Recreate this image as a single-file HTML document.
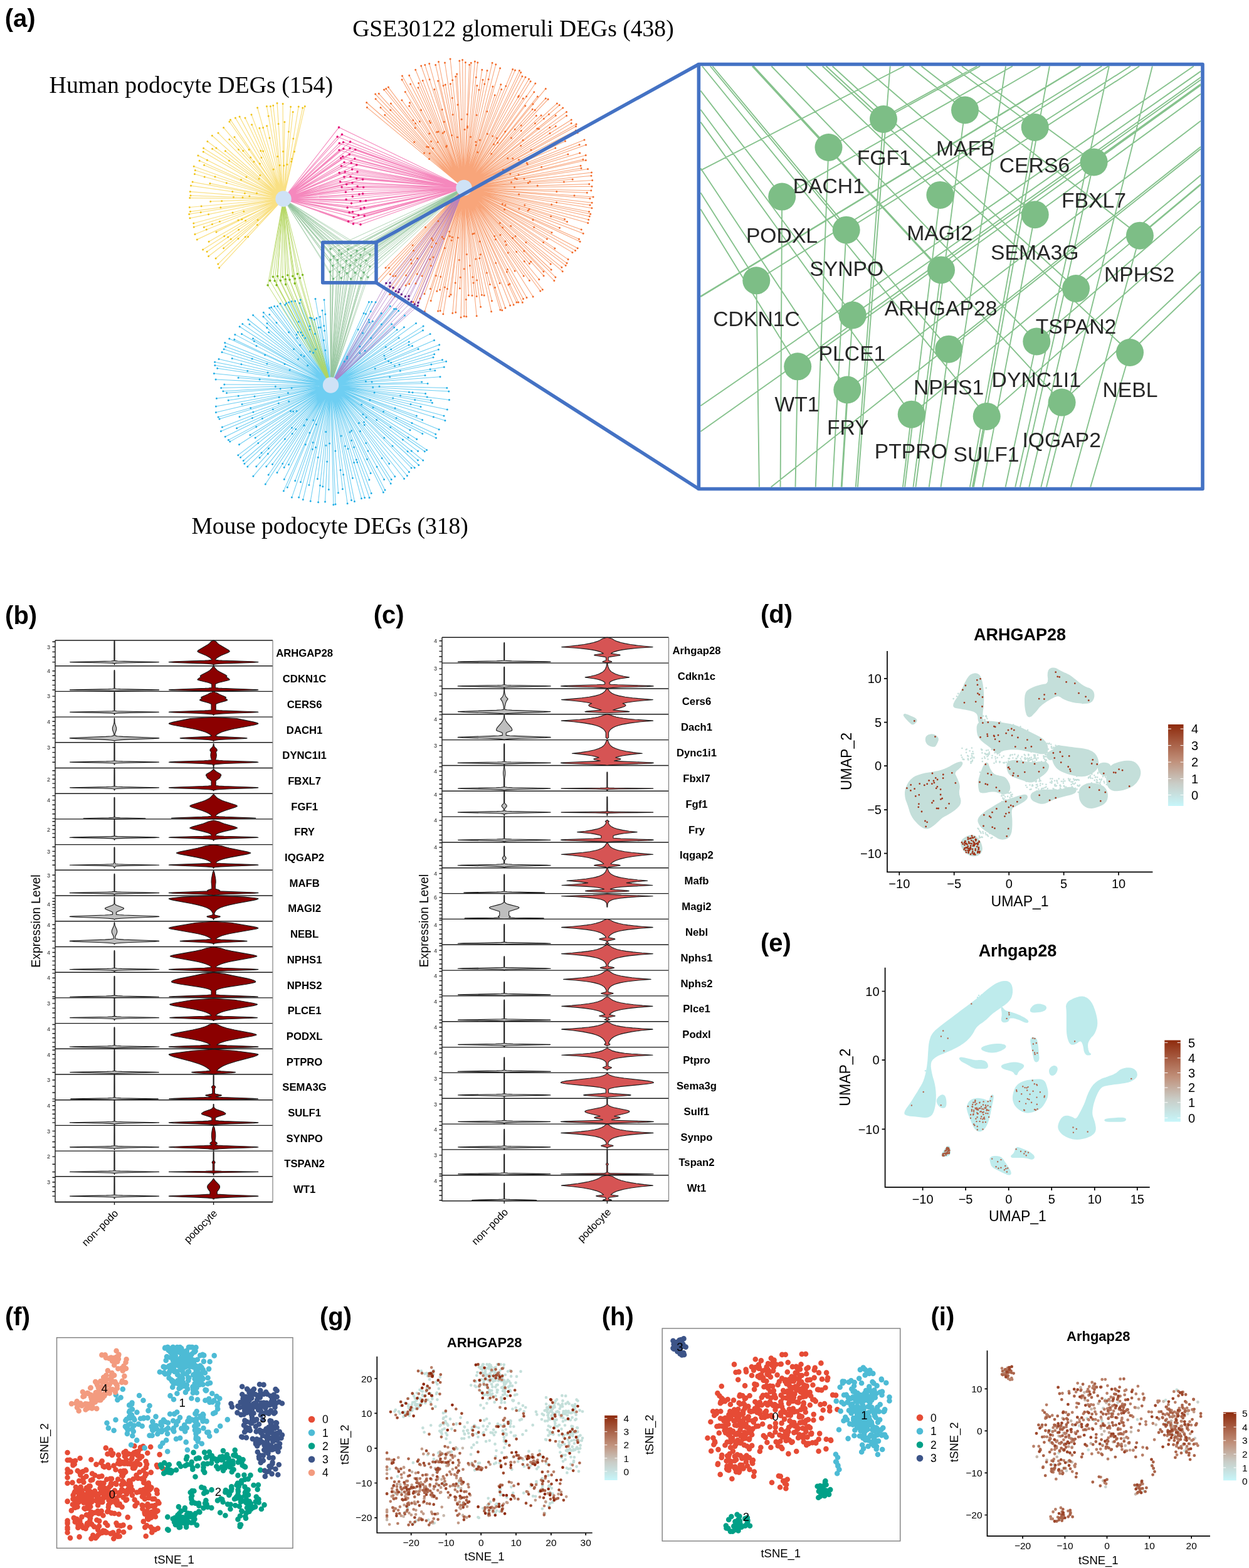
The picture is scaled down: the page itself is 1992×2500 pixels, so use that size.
<!DOCTYPE html>
<html><head><meta charset="utf-8"><title>Figure</title><style>html,body{margin:0;padding:0;background:#fff;}svg{display:block;}</style></head><body>
<svg width="1992" height="2500" viewBox="0 0 1992 2500">
<text x="7.7" y="43" font-size="40" font-weight="bold" font-family="'Liberation Sans', Arial, sans-serif">(a)</text>
<text x="8.1" y="995" font-size="40" font-weight="bold" font-family="'Liberation Sans', Arial, sans-serif">(b)</text>
<text x="595.7" y="994" font-size="40" font-weight="bold" font-family="'Liberation Sans', Arial, sans-serif">(c)</text>
<text x="1213" y="992.5" font-size="40" font-weight="bold" font-family="'Liberation Sans', Arial, sans-serif">(d)</text>
<text x="1213" y="1517" font-size="40" font-weight="bold" font-family="'Liberation Sans', Arial, sans-serif">(e)</text>
<text x="8" y="2113" font-size="40" font-weight="bold" font-family="'Liberation Sans', Arial, sans-serif">(f)</text>
<text x="510" y="2112.5" font-size="40" font-weight="bold" font-family="'Liberation Sans', Arial, sans-serif">(g)</text>
<text x="959.8" y="2112.5" font-size="40" font-weight="bold" font-family="'Liberation Sans', Arial, sans-serif">(h)</text>
<text x="1484.5" y="2112.5" font-size="40" font-weight="bold" font-family="'Liberation Sans', Arial, sans-serif">(i)</text>
<text x="562.2" y="57.6" font-size="37.6" font-family="'Liberation Serif', 'Times New Roman', serif">GSE30122 glomeruli DEGs (438)</text>
<text x="78.6" y="148" font-size="37.8" font-family="'Liberation Serif', 'Times New Roman', serif">Human podocyte DEGs (154)</text>
<text x="305.4" y="850.6" font-size="37.6" font-family="'Liberation Serif', 'Times New Roman', serif">Mouse podocyte DEGs (318)</text>
<g fill="none" stroke-linecap="butt">
<path d="M452 317L349.6 426.9M452 317L347.8 421.1M452 317L344.1 412M452 317L356.6 395.7M452 317L332.6 408.5M452 317L330.1 401.2M452 317L323.6 397.9M452 317L333.1 385.3M452 317L345 369.9M452 317L314.3 381.9M452 317L310.9 373.5M452 317L325.3 362.3M452 317L309.2 361.9M452 317L308.8 356M452 317L302.9 347.8M452 317L301.7 341.4M452 317L303.5 337.3M452 317L302.3 330.5M452 317L335.7 321.2M452 317L302.7 315.6M452 317L303.9 311.8M452 317L303.3 305.6M452 317L304.5 296.1M452 317L307.1 290.1M452 317L334.9 292.4M452 317L310.4 277.5M452 317L311.3 271.5M452 317L309.2 265.3M452 317L325.6 263.2M452 317L318.1 256.3M452 317L315.9 247.9M452 317L324.3 242M452 317L324.6 236.2M452 317L338.6 237.2M452 317L330.9 225.4M452 317L359.4 240.8M452 317L338.3 216.2M452 317L348 212.1M452 317L365.8 222.3M452 317L356.6 203.4M452 317L374 218.6M452 317L365.9 194M452 317L367.5 190.9M452 317L375.4 188M452 317L382.1 186.1M452 317L391 188M452 317L401.6 198.7M452 317L401 182.8M452 317L413.9 204.3M452 317L410.6 171.8M452 317L425.6 200.8M452 317L425.4 169.5M452 317L431.4 169.5M452 317L435.7 168.3M452 317L442 164.4M452 317L451.1 165.4M452 317L453.9 194.4M452 317L463.6 170.2M452 317L467.2 178.5M452 317L476.2 170M452 317L482.7 171.9M452 317L486.3 169.4" stroke="#F8DA6E" stroke-opacity="0.85" stroke-width="1.2"/>
<path d="M740 299.5L585.4 171.3M740 299.5L584.7 163.5M740 299.5L613.8 183.3M740 299.5L607 171.6M740 299.5L599.1 157.8M740 299.5L598.7 150.1M740 299.5L604.2 149.3M740 299.5L623.4 165.1M740 299.5L612.5 143M740 299.5L615.7 141.6M740 299.5L619.4 139.1M740 299.5L640.9 159.7M740 299.5L652.7 169M740 299.5L653.5 163.7M740 299.5L646.3 146.5M740 299.5L641.1 126.9M740 299.5L641.5 121M740 299.5L654.6 134M740 299.5L652.7 120.3M740 299.5L667 139.7M740 299.5L667.7 132.6M740 299.5L662.7 111.3M740 299.5L674.2 128.5M740 299.5L671.7 105M740 299.5L677.8 103.6M740 299.5L692.9 142.5M740 299.5L684.7 101.6M740 299.5L698.6 129.1M740 299.5L694.7 103.4M740 299.5L699.5 98.6M740 299.5L710.3 134.9M740 299.5L709.5 100.1M740 299.5L718.4 133.8M740 299.5L718.1 94M740 299.5L726.7 122M740 299.5L728.7 117.9M740 299.5L732.8 97M740 299.5L737.6 95.4M740 299.5L742.4 99.5M740 299.5L748.6 103.2M740 299.5L751.3 100.3M740 299.5L757.4 98.1M740 299.5L761.8 99.7M740 299.5L760.8 136.6M740 299.5L768.8 111.3M740 299.5L770 127.2M740 299.5L777 112.5M740 299.5L785.1 100.2M740 299.5L790.8 102.7M740 299.5L785.9 138.1M740 299.5L797.6 108.7M740 299.5L789.2 151.8M740 299.5L798.8 134.8M740 299.5L799.7 142.5M740 299.5L817.7 110.6M740 299.5L821.5 112.1M740 299.5L828.4 112.6M740 299.5L830.7 115.6M740 299.5L832.9 121.7M740 299.5L838 122.9M740 299.5L843.5 126.1M740 299.5L846.1 129.7M740 299.5L834.3 157M740 299.5L853.8 133M740 299.5L851.8 146.8M740 299.5L837.8 168.8M740 299.5L857.3 153.9M740 299.5L870.3 141.4M740 299.5L849.2 174.3M740 299.5L870.3 156.9M740 299.5L874.1 158.3M740 299.5L855.3 184.5M740 299.5L863.1 183.9M740 299.5L888.4 164.9M740 299.5L892.2 167.6M740 299.5L897.7 172M740 299.5L886.3 184.3M740 299.5L903.5 178.4M740 299.5L903.6 184.4M740 299.5L886.3 201.2M740 299.5L911.2 191M740 299.5L911.2 196.6M740 299.5L919.1 198M740 299.5L918.5 201.5M740 299.5L918.3 208.1M740 299.5L921.3 211.8M740 299.5L901.5 224.9M740 299.5L885.8 236M740 299.5L932 223.1M740 299.5L924.1 230.8M740 299.5L934.5 231M740 299.5L905.9 246M740 299.5L924.7 243.9M740 299.5L934.2 247.4M740 299.5L929.9 254.2M740 299.5L934.3 255.6M740 299.5L926.1 264.2M740 299.5L927 268.2M740 299.5L937.5 269.6M740 299.5L943.5 275M740 299.5L943 280.2M740 299.5L913.2 286.1M740 299.5L944.7 287.4M740 299.5L939.7 293.6M740 299.5L944 297.2M740 299.5L942.8 303.8M740 299.5L936.3 307.3M740 299.5L946.1 313.9M740 299.5L940.9 316.4M740 299.5L944.1 323.2M740 299.5L941 326.9M740 299.5L943.9 331.7M740 299.5L939.5 337.5M740 299.5L941.7 341.3M740 299.5L940.2 345.1M740 299.5L938.7 350.2M740 299.5L937.7 355.5M740 299.5L900.6 349.5M740 299.5L904.5 353.4M740 299.5L927.2 366.1M740 299.5L930.2 372.2M740 299.5L892.5 363.3M740 299.5L923.5 381.3M740 299.5L925.1 385.3M740 299.5L880 370.7M740 299.5L921.2 395.8M740 299.5L917.6 399.4M740 299.5L912.9 402.4M740 299.5L872.4 381.1M740 299.5L884.9 395.9M740 299.5L906.1 413.6M740 299.5L904.1 419.6M740 299.5L902.2 423.3M740 299.5L895.9 426.2M740 299.5L897.2 432.7M740 299.5L878.2 420.9M740 299.5L879.1 430M740 299.5L885.9 441.9M740 299.5L883.9 447.5M740 299.5L866.9 432.9M740 299.5L867.1 439.7M740 299.5L844.4 420.3M740 299.5L859.8 445.5M740 299.5L865.3 461.7M740 299.5L861.8 464M740 299.5L844.4 447.2M740 299.5L835.2 439.9M740 299.5L850.1 473M740 299.5L821.1 432.1M740 299.5L840 474.6M740 299.5L834.5 476.4M740 299.5L833.3 482.3M740 299.5L826.8 481.9M740 299.5L823.9 482.1M740 299.5L819.1 486M740 299.5L813.6 487M740 299.5L797 451.4M740 299.5L805.9 491M740 299.5L800.8 494.8M740 299.5L797.8 494.1M740 299.5L781.4 453.5M740 299.5L784.5 479.7M740 299.5L783.6 496.7M740 299.5L772.2 470.9M740 299.5L768.4 470.2M740 299.5L766.6 489.3M740 299.5L760.2 472.4M740 299.5L760.2 503.7M740 299.5L753 471.2M740 299.5L747.3 470.7M740 299.5L743.8 504.7M740 299.5L740.3 504.2M740 299.5L735.1 506M740 299.5L733.4 459.7M740 299.5L726.8 497.9M740 299.5L721.8 499.2M740 299.5L719.1 469.7M740 299.5L716.7 472.6M740 299.5L706.8 500.8M740 299.5L702.1 495.6M740 299.5L698.6 496M740 299.5L701.6 461.9M740 299.5L696.8 464.2M740 299.5L687.2 479.6M740 299.5L677.3 496.4M740 299.5L686.4 460.4M740 299.5L677 468.6M740 299.5L669.9 476.1M740 299.5L659.7 489.2M740 299.5L659.2 481.6M740 299.5L673.1 439.9M740 299.5L663 451.9M740 299.5L665.3 436.9M740 299.5L652.7 452.8M740 299.5L647.1 455M740 299.5L629.8 472.5M740 299.5L647.6 439.1M740 299.5L621.9 469.3M740 299.5L619 463.2M740 299.5L630.9 440M740 299.5L627 440.2M740 299.5L622.3 437.2M740 299.5L603.9 451.8M740 299.5L599.6 449.1M740 299.5L615 426.9" stroke="#F6874E" stroke-opacity="0.75" stroke-width="1.05"/>
<path d="M527.5 614L588.4 481.4M527.5 614L592.9 481.2M527.5 614L599.1 481.7M527.5 614L588.3 509.8M527.5 614L589 513.8M527.5 614L594.5 512.2M527.5 614L608.2 499.6M527.5 614L622.3 488.3M527.5 614L628.6 492.5M527.5 614L631.7 492.4M527.5 614L635.7 495.4M527.5 614L624.7 516.7M527.5 614L645.4 503.1M527.5 614L628.7 522.1M527.5 614L633.2 525.7M527.5 614L644.4 521.8M527.5 614L663.5 515.4M527.5 614L636.1 538.8M527.5 614L675.1 520.1M527.5 614L674.5 526.8M527.5 614L652.3 545.1M527.5 614L686.1 532.4M527.5 614L657.6 551.5M527.5 614L692.5 542.6M527.5 614L667.1 556.6M527.5 614L700.7 549.8M527.5 614L699.3 557.2M527.5 614L692.7 564.7M527.5 614L691 569.8M527.5 614L705.5 573.8M527.5 614L711.6 576.2M527.5 614L708.3 585.3M527.5 614L693.8 590.8M527.5 614L678 598.4M527.5 614L702 600.7M527.5 614L672.7 609M527.5 614L682.1 611.6M527.5 614L712.8 618.5M527.5 614L715.8 624.1M527.5 614L678.6 627.5M527.5 614L716.5 637.5M527.5 614L687.2 638.2M527.5 614L689.4 642.2M527.5 614L713.3 652.9M527.5 614L671 648.5M527.5 614L708 663M527.5 614L709.9 670.5M527.5 614L664.4 663M527.5 614L673.6 669.5M527.5 614L700.2 684.8M527.5 614L694.8 692.3M527.5 614L695.5 698.3M527.5 614L673.8 691.5M527.5 614L654 685.7M527.5 614L664.7 700.2M527.5 614L680.6 717.4M527.5 614L677.3 719.8M527.5 614L666.6 719.3M527.5 614L674.7 734.1M527.5 614L666.5 733.8M527.5 614L667.8 741.5M527.5 614L661.2 745.8M527.5 614L656.1 746M527.5 614L652.4 752.5M527.5 614L649.4 758.5M527.5 614L644.6 763.3M527.5 614L620.7 739.3M527.5 614L629.8 759.8M527.5 614L624.2 764.6M527.5 614L623.2 771M527.5 614L612.6 764.5M527.5 614L614 781.2M527.5 614L611.4 784.9M527.5 614L591.1 754.5M527.5 614L588.9 764.9M527.5 614L592.2 786.6M527.5 614L589.1 793.5M527.5 614L581.6 793.6M527.5 614L576.5 794.8M527.5 614L562.4 762.3M527.5 614L565.4 799.4M527.5 614L560.5 797.4M527.5 614L554.1 802.8M527.5 614L546.4 779.7M527.5 614L539.5 785.8M527.5 614L535 803.9M527.5 614L531.8 804.7M527.5 614L524.3 780.4M527.5 614L518.5 800.1M527.5 614L514.8 775.8M527.5 614L507.6 800.8M527.5 614L506.4 763.6M527.5 614L495.2 798.9M527.5 614L492.9 773.3M527.5 614L483.3 796.6M527.5 614L476.6 793.1M527.5 614L479.5 768.6M527.5 614L465.4 793.1M527.5 614L470.7 766.6M527.5 614L458.3 777.1M527.5 614L452.4 782.8M527.5 614L453.3 764.2M527.5 614L460.5 740.8M527.5 614L453.2 745.2M527.5 614L442 753.4M527.5 614L423.3 771.9M527.5 614L428.2 757M527.5 614L434.5 740.2M527.5 614L424.8 743.8M527.5 614L403.9 759.3M527.5 614L408.8 743.8M527.5 614L414 729.8M527.5 614L394.8 743.9M527.5 614L389.9 739.3M527.5 614L388.2 734.5M527.5 614L383.6 729.2M527.5 614L379.8 725.7M527.5 614L407.2 698.1M527.5 614L381.5 708.7M527.5 614L398.9 693.5M527.5 614L366.7 704.1M527.5 614L364.3 701.6M527.5 614L359.2 696.2M527.5 614L377.6 682.7M527.5 614L352.4 687.5M527.5 614L354.4 681.1M527.5 614L382 664.6M527.5 614L350 667.9M527.5 614L348.1 665.1M527.5 614L344.4 657.6M527.5 614L386 644.6M527.5 614L344.4 648M527.5 614L364.2 638.2M527.5 614L345.4 635.3M527.5 614L361.5 626.6M527.5 614L355.9 623.7M527.5 614L352.7 618.5M527.5 614L357.8 613.1M527.5 614L344.1 605M527.5 614L380.1 602.2M527.5 614L341.4 595.6M527.5 614L346.7 587.2M527.5 614L342.8 582.6M527.5 614L342.6 577.2M527.5 614L349 572.4M527.5 614L370.2 571.4M527.5 614L354 561.4M527.5 614L357.1 556.8M527.5 614L359.6 552.6M527.5 614L358.7 546.6M527.5 614L365.8 539.9M527.5 614L373.8 541.2M527.5 614L374.8 533.4M527.5 614L385.5 532.5M527.5 614L403.5 539.8M527.5 614L382.2 520.7M527.5 614L386.8 516.6M527.5 614L397.9 517.1M527.5 614L395.9 509.5M527.5 614L428.7 529.8M527.5 614L403.6 502.5M527.5 614L426 515.5M527.5 614L420 504.8M527.5 614L420.3 498.3M527.5 614L429.8 501.5M527.5 614L429.7 491.1M527.5 614L432.7 490.1M527.5 614L437.6 488.3M527.5 614L442.6 488.3M527.5 614L447.1 484.1M527.5 614L454.7 486.1M527.5 614L456.7 483.6M527.5 614L460.6 482.1M527.5 614L465.1 480.5M527.5 614L470.7 479.9M527.5 614L478 483.3M527.5 614L479.2 478.1M527.5 614L494.5 506.5M527.5 614L497.3 507.5M527.5 614L501.4 509.4M527.5 614L504.9 507.3M527.5 614L503 476.5M527.5 614L510.4 504.9M527.5 614L514 495M527.5 614L517 477.9" stroke="#3DBDEE" stroke-opacity="0.75" stroke-width="1.05"/>
<path d="M452 317L540.5 203.1M452 317L538.1 218.1M452 317L541.3 228.3M452 317L541 239.3M452 317L543.6 252.1M452 317L544.4 264.8M452 317L541.2 275.6M452 317L542.6 289.7M452 317L545.1 298.2M452 317L545.4 214.4M452 317L547.6 226.7M452 317L547.9 237.2M452 317L546.7 249.6M452 317L549 258.7M452 317L550.3 274M452 317L548.9 282.1M452 317L552.7 294M452 317L551.4 306.3M452 317L552.1 318M452 317L554.1 331M452 317L557.1 338.7M452 317L555.6 353.1M452 317L558.6 226.1M452 317L558 236.6M452 317L557.3 246.3M452 317L560.2 259.7M452 317L561.6 270.1M452 317L559 281.5M452 317L561.9 291.5M452 317L562 302M452 317L562.3 313.3M452 317L560.5 324.1M452 317L562.5 337.8M452 317L563.9 346.4M452 317L563.4 356.9M452 317L566.8 238.5M452 317L565.8 253.1M452 317L568.8 263M452 317L570 274M452 317L568.7 284.7M452 317L570.1 297.2M452 317L572.9 309.8M452 317L574.7 320.6M452 317L575.3 333.1M452 317L571.8 343.1M452 317L575 357.9M452 317L578.6 286.1M452 317L579.7 298.5M452 317L578.6 308.9M452 317L583.5 320.1M452 317L581 331.1M452 317L581.2 344.1M740 299.5L540.5 203.1M740 299.5L538.1 218.1M740 299.5L541.3 228.3M740 299.5L541 239.3M740 299.5L543.6 252.1M740 299.5L544.4 264.8M740 299.5L541.2 275.6M740 299.5L542.6 289.7M740 299.5L545.1 298.2M740 299.5L545.4 214.4M740 299.5L547.6 226.7M740 299.5L547.9 237.2M740 299.5L546.7 249.6M740 299.5L549 258.7M740 299.5L550.3 274M740 299.5L548.9 282.1M740 299.5L552.7 294M740 299.5L551.4 306.3M740 299.5L552.1 318M740 299.5L554.1 331M740 299.5L557.1 338.7M740 299.5L555.6 353.1M740 299.5L558.6 226.1M740 299.5L558 236.6M740 299.5L557.3 246.3M740 299.5L560.2 259.7M740 299.5L561.6 270.1M740 299.5L559 281.5M740 299.5L561.9 291.5M740 299.5L562 302M740 299.5L562.3 313.3M740 299.5L560.5 324.1M740 299.5L562.5 337.8M740 299.5L563.9 346.4M740 299.5L563.4 356.9M740 299.5L566.8 238.5M740 299.5L565.8 253.1M740 299.5L568.8 263M740 299.5L570 274M740 299.5L568.7 284.7M740 299.5L570.1 297.2M740 299.5L572.9 309.8M740 299.5L574.7 320.6M740 299.5L575.3 333.1M740 299.5L571.8 343.1M740 299.5L575 357.9M740 299.5L578.6 286.1M740 299.5L579.7 298.5M740 299.5L578.6 308.9M740 299.5L583.5 320.1M740 299.5L581 331.1M740 299.5L581.2 344.1" stroke="#F26AAD" stroke-opacity="0.8" stroke-width="1.1"/>
<path d="M452 317L435.4 441.2M452 317L442.6 440.3M452 317L450.9 441.5M452 317L458.8 438.7M452 317L466.8 440.2M452 317L474.4 436.7M452 317L482.6 438.3M452 317L430.7 447.4M452 317L438.2 447.8M452 317L447.4 447.3M452 317L455.3 445.2M452 317L462 446M452 317L470.5 444.2M452 317L478.4 443.2M452 317L427.1 454.7M452 317L441.1 454.6M452 317L455.7 453.4M452 317L470.2 451.9M527.5 614L435.4 441.2M527.5 614L442.6 440.3M527.5 614L450.9 441.5M527.5 614L458.8 438.7M527.5 614L466.8 440.2M527.5 614L474.4 436.7M527.5 614L482.6 438.3M527.5 614L430.7 447.4M527.5 614L438.2 447.8M527.5 614L447.4 447.3M527.5 614L455.3 445.2M527.5 614L462 446M527.5 614L470.5 444.2M527.5 614L478.4 443.2M527.5 614L427.1 454.7M527.5 614L441.1 454.6M527.5 614L455.7 453.4M527.5 614L470.2 451.9" stroke="#B3D65E" stroke-opacity="0.85" stroke-width="1"/>
<path d="M740 299.5L615.9 451.5M740 299.5L622 451M740 299.5L621.9 456.7M740 299.5L627 458.7M740 299.5L631.2 464.2M740 299.5L637 461.5M740 299.5L635.7 465.8M740 299.5L640.3 469.4M740 299.5L646.5 472.8M740 299.5L652 472M740 299.5L651.6 477.3M740 299.5L656.1 481.3M740 299.5L661.1 485M740 299.5L667 482.5M740 299.5L666.2 487.5M527.5 614L615.9 451.5M527.5 614L622 451M527.5 614L621.9 456.7M527.5 614L627 458.7M527.5 614L631.2 464.2M527.5 614L637 461.5M527.5 614L635.7 465.8M527.5 614L640.3 469.4M527.5 614L646.5 472.8M527.5 614L652 472M527.5 614L651.6 477.3M527.5 614L656.1 481.3M527.5 614L661.1 485M527.5 614L667 482.5M527.5 614L666.2 487.5" stroke="#B07CC6" stroke-opacity="0.8" stroke-width="1"/>
<path d="M452 317L527 397M452 317L540.8 399.1M452 317L555.1 397.2M452 317L569.1 399.9M452 317L581.8 397.1M452 317L532.1 408.8M452 317L544.5 405M452 317L559.9 407.6M452 317L575.1 406.4M452 317L590 405.9M452 317L527 414.4M452 317L538.1 414.5M452 317L552.2 416M452 317L568.2 414.7M452 317L583.8 415.5M452 317L530.6 423.7M452 317L547 426.7M452 317L558.6 423.1M452 317L575.1 424M452 317L589.9 425M452 317L526.5 433.4M452 317L541.2 433.8M452 317L553.3 435.6M452 317L566.4 434.9M452 317L580.3 434.6M452 317L531.6 444.5M452 317L544.2 443.3M452 317L559.6 444.7M452 317L575.8 443.5M452 317L586.9 442M740 299.5L527 397M740 299.5L540.8 399.1M740 299.5L555.1 397.2M740 299.5L569.1 399.9M740 299.5L581.8 397.1M740 299.5L532.1 408.8M740 299.5L544.5 405M740 299.5L559.9 407.6M740 299.5L575.1 406.4M740 299.5L590 405.9M740 299.5L527 414.4M740 299.5L538.1 414.5M740 299.5L552.2 416M740 299.5L568.2 414.7M740 299.5L583.8 415.5M740 299.5L530.6 423.7M740 299.5L547 426.7M740 299.5L558.6 423.1M740 299.5L575.1 424M740 299.5L589.9 425M740 299.5L526.5 433.4M740 299.5L541.2 433.8M740 299.5L553.3 435.6M740 299.5L566.4 434.9M740 299.5L580.3 434.6M740 299.5L531.6 444.5M740 299.5L544.2 443.3M740 299.5L559.6 444.7M740 299.5L575.8 443.5M740 299.5L586.9 442M527.5 614L527 397M527.5 614L540.8 399.1M527.5 614L555.1 397.2M527.5 614L569.1 399.9M527.5 614L581.8 397.1M527.5 614L532.1 408.8M527.5 614L544.5 405M527.5 614L559.9 407.6M527.5 614L575.1 406.4M527.5 614L590 405.9M527.5 614L527 414.4M527.5 614L538.1 414.5M527.5 614L552.2 416M527.5 614L568.2 414.7M527.5 614L583.8 415.5M527.5 614L530.6 423.7M527.5 614L547 426.7M527.5 614L558.6 423.1M527.5 614L575.1 424M527.5 614L589.9 425M527.5 614L526.5 433.4M527.5 614L541.2 433.8M527.5 614L553.3 435.6M527.5 614L566.4 434.9M527.5 614L580.3 434.6M527.5 614L531.6 444.5M527.5 614L544.2 443.3M527.5 614L559.6 444.7M527.5 614L575.8 443.5M527.5 614L586.9 442" stroke="#92C39A" stroke-opacity="0.7" stroke-width="1"/>
</g>
<g fill="none" stroke-linecap="round">
<path d="M349.6 426.9h0M395.6 377.6h0M347.8 421.1h0M410.3 358.6h0M391.2 377.7h0M344.1 412h0M380 380.4h0M356.6 395.7h0M411.1 350.8h0M332.6 408.5h0M368.2 381.2h0M330.1 401.2h0M363.7 377.9h0M380.7 366.2h0M323.6 397.9h0M357.7 376.4h0M333.1 385.3h0M391.6 351.7h0M345 369.9h0M385.8 349.8h0M314.3 381.9h0M380 350.9h0M310.9 373.5h0M329.3 366.1h0M325.3 362.3h0M338.4 357.6h0M350.4 353.3h0M309.2 361.9h0M388.8 336.9h0M308.8 356h0M371.1 339.1h0M302.9 347.8h0M332.6 341.7h0M301.7 341.4h0M320.2 338.4h0M303.5 337.3h0M351.9 330.7h0M302.3 330.5h0M321.1 328.8h0M335.7 321.2h0M353.7 320.5h0M302.7 315.6h0M303.9 311.8h0M387 314.7h0M372.5 314.2h0M303.3 305.6h0M397.9 312.8h0M304.5 296.1h0M370.8 305.5h0M390.4 308.3h0M307.1 290.1h0M334.9 292.4h0M409.5 308.1h0M310.4 277.5h0M361.3 291.7h0M326.2 281.9h0M311.3 271.5h0M343 281.7h0M309.2 265.3h0M325.6 263.2h0M318.1 256.3h0M384.5 286.4h0M315.9 247.9h0M330.4 255.3h0M324.3 242h0M392.9 282.3h0M324.6 236.2h0M338.6 237.2h0M365.5 256.2h0M330.9 225.4h0M344.9 236h0M359.4 240.8h0M413.1 285h0M338.3 216.2h0M348 212.1h0M414.8 279.5h0M365.8 222.3h0M380.5 238.5h0M356.6 203.4h0M387.8 240.6h0M374 218.6h0M405 257.8h0M399.7 251h0M365.9 194h0M397.1 238.5h0M367.5 190.9h0M414.4 260.9h0M375.4 188h0M382.1 186.1h0M416.9 251.2h0M391 188h0M415.8 240.4h0M401.6 198.7h0M419.6 240.9h0M401 182.8h0M413.9 204.3h0M436.1 270h0M410.6 171.8h0M419.6 203.6h0M425.6 200.8h0M430 219.9h0M425.4 169.5h0M428.2 185.1h0M431.4 169.5h0M442.6 249.5h0M435.7 168.3h0M446.1 263.5h0M442 164.4h0M444.1 197.4h0M451.1 165.4h0M451.5 241.4h0M453.9 194.4h0M452.8 264h0M463.6 170.2h0M460.4 210.1h0M467.2 178.5h0M458 262.2h0M476.2 170h0M467.8 220.9h0M482.7 171.9h0M464.6 257.5h0M465.5 253.3h0M486.3 169.4h0M469.5 241.8h0" stroke="#F0C419" stroke-width="3"/>
<path d="M585.4 171.3h0M684.6 253.6h0M584.7 163.5h0M676.6 243.9h0M613.8 183.3h0M660.7 226.5h0M607 171.6h0M599.1 157.8h0M685.2 244.4h0M598.7 150.1h0M622.9 175.6h0M604.2 149.3h0M680.7 233.9h0M623.4 165.1h0M683.5 234.4h0M612.5 143h0M662.1 203.9h0M615.7 141.6h0M690.4 236.5h0M619.4 139.1h0M658.9 191.7h0M662.7 196.7h0M640.9 159.7h0M687.6 225.5h0M652.7 169h0M669.3 193.8h0M653.5 163.7h0M684.8 212.9h0M646.3 146.5h0M641.1 126.9h0M698.1 226.4h0M641.5 121h0M671.6 175.5h0M654.6 134h0M686.5 195.8h0M685 192.9h0M652.7 120.3h0M696.7 210.6h0M667 139.7h0M699.1 209.9h0M667.7 132.6h0M711.6 234h0M662.7 111.3h0M712.4 232.4h0M674.2 128.5h0M706.4 212.3h0M671.7 105h0M708.6 210.1h0M677.8 103.6h0M685.1 126.7h0M692.9 142.5h0M708.4 194.3h0M684.7 101.6h0M705.2 174.8h0M698.6 129.1h0M694.7 103.4h0M720.6 215.7h0M699.5 98.6h0M707.1 136.5h0M710.3 134.9h0M709.5 100.1h0M722.2 182.8h0M718.4 133.8h0M721.3 156.3h0M729.5 218.8h0M718.1 94h0M721.7 127.7h0M726.7 122h0M730 167.1h0M728.7 117.9h0M732.8 97h0M736.1 190.3h0M737.6 95.4h0M742.4 99.5h0M741.1 206.6h0M748.6 103.2h0M745.1 182.2h0M751.3 100.3h0M745.4 203.6h0M745.5 201.5h0M757.4 98.1h0M761.8 99.7h0M759.3 123.2h0M760.8 136.6h0M750.4 218.2h0M768.8 111.3h0M763.9 143.3h0M770 127.2h0M760.2 183.6h0M777 112.5h0M772.8 134h0M785.1 100.2h0M779.1 126.5h0M790.8 102.7h0M758.9 226.3h0M785.9 138.1h0M759.3 231.6h0M797.6 108.7h0M776.8 177.7h0M789.2 151.8h0M765.4 223.3h0M798.8 134.8h0M799.7 142.5h0M761.6 242.7h0M817.7 110.6h0M806.8 137.3h0M821.5 112.1h0M777.4 213.5h0M828.4 112.6h0M830.7 115.6h0M832.9 121.7h0M838 122.9h0M785.8 217h0M843.5 126.1h0M827.4 153.1h0M826.5 154.5h0M846.1 129.7h0M834.3 157h0M792.4 220.3h0M853.8 133h0M839.6 153.8h0M787.6 229.9h0M851.8 146.8h0M805.7 209.7h0M837.8 168.8h0M793.8 227.6h0M857.3 153.9h0M783.7 245.3h0M870.3 141.4h0M850 166h0M849.2 174.3h0M821.2 206.3h0M870.3 156.9h0M831.1 199.9h0M853.2 175.6h0M874.1 158.3h0M815.5 220.1h0M855.3 184.5h0M831.2 208.5h0M863.1 183.9h0M888.4 164.9h0M853.4 196.7h0M892.2 167.6h0M875.4 182.2h0M867.3 189.3h0M897.7 172h0M856.8 205.1h0M834 223.5h0M886.3 184.3h0M859.4 205.5h0M903.5 178.4h0M830.7 232.3h0M903.6 184.4h0M876.8 203.3h0M886.3 201.2h0M809.8 252.6h0M911.2 191h0M877 212.6h0M911.2 196.6h0M817.8 252.8h0M919.1 198h0M846.9 238.9h0M918.5 201.5h0M918.3 208.1h0M827.4 254.7h0M921.3 211.8h0M871.1 236.1h0M901.5 224.9h0M802.2 270.8h0M885.8 236h0M804.2 271.6h0M932 223.1h0M840.2 259.7h0M924.1 230.8h0M841.3 261.7h0M934.5 231h0M905.9 246h0M924.7 243.9h0M813.7 277.3h0M934.2 247.4h0M863.6 266.3h0M929.9 254.2h0M827.1 278.7h0M934.3 255.6h0M926.1 264.2h0M821.5 284h0M927 268.2h0M824.3 285.4h0M937.5 269.6h0M836 285h0M943.5 275h0M815.5 290.4h0M943 280.2h0M845.2 289.5h0M913.2 286.1h0M842.4 291.6h0M944.7 287.4h0M899.4 290.1h0M939.7 293.6h0M857.2 296h0M944 297.2h0M820.6 298.6h0M942.8 303.8h0M936.3 307.3h0M887.8 305.4h0M946.1 313.9h0M916 311.8h0M940.9 316.4h0M944.1 323.2h0M827.6 309.7h0M941 326.9h0M943.9 331.7h0M887.6 322.8h0M939.5 337.5h0M879.7 326.1h0M941.7 341.3h0M940.2 345.1h0M938.7 350.2h0M937.7 355.5h0M836.8 326.9h0M900.6 349.5h0M904.5 353.4h0M844 333.6h0M878.6 344.9h0M927.2 366.1h0M842.1 335.8h0M930.2 372.2h0M827.9 333.1h0M892.5 363.3h0M805.9 327h0M801.4 325.2h0M923.5 381.3h0M925.1 385.3h0M850 350.5h0M880 370.7h0M921.2 395.8h0M804.6 333.9h0M917.6 399.4h0M851.7 362.3h0M912.9 402.4h0M872.4 381.1h0M884.9 395.9h0M906.1 413.6h0M866.6 386.4h0M904.1 419.6h0M902.2 423.3h0M895.9 426.2h0M814.8 360.3h0M897.2 432.7h0M878.2 420.9h0M838.9 386.4h0M879.1 430h0M822.2 376.5h0M885.9 441.9h0M797.3 355.4h0M883.9 447.5h0M817.7 379.4h0M801.6 362.8h0M866.9 432.9h0M835.8 400.2h0M867.1 439.7h0M846.7 417.3h0M844.4 420.3h0M859.8 445.5h0M823.7 401.5h0M836.3 416.8h0M865.3 461.7h0M798 374.6h0M805.9 384.7h0M861.8 464h0M807.3 390.4h0M844.4 447.2h0M835.2 439.9h0M810.2 403h0M850.1 473h0M788.8 376.5h0M821.1 432.1h0M790.3 381.7h0M840 474.6h0M834.5 476.4h0M809.4 429.4h0M833.3 482.3h0M808.4 433.6h0M826.8 481.9h0M812.9 452.7h0M823.9 482.1h0M810.9 453.9h0M819.1 486h0M790.8 419.3h0M813.6 487h0M797 451.4h0M805.9 491h0M800.8 494.8h0M789.5 458.5h0M797.8 494.1h0M765.3 384.9h0M781.4 453.5h0M776.4 434.9h0M784.5 479.7h0M766.2 405.7h0M783.6 496.7h0M756.1 372.2h0M764.8 411.8h0M772.2 470.9h0M753.8 372.9h0M768.4 470.2h0M758.9 413.1h0M766.6 489.3h0M760.6 446.8h0M760.2 472.4h0M760.2 503.7h0M755 451.1h0M754 441.7h0M753 471.2h0M749.4 423.4h0M747.3 470.7h0M744.5 405.5h0M743.8 504.7h0M743.3 477.4h0M740.3 504.2h0M740.2 428.8h0M735.1 506h0M733.4 459.7h0M734.1 442.3h0M726.8 497.9h0M732.3 414.6h0M721.8 499.2h0M726.2 450.9h0M719.1 469.7h0M730.3 378.9h0M716.7 472.6h0M706.8 500.8h0M713.4 460.6h0M702.1 495.6h0M709.4 458.1h0M698.6 496h0M701.6 461.9h0M721.4 378.2h0M720.2 383.3h0M696.8 464.2h0M702.8 441.3h0M687.2 479.6h0M717.4 376.5h0M677.3 496.4h0M695.4 439.4h0M709.4 395.5h0M686.4 460.4h0M716.7 369.3h0M677 468.6h0M669.9 476.1h0M707.8 380.5h0M659.7 489.2h0M687.4 423.8h0M659.2 481.6h0M690.9 410h0M705.3 377.7h0M673.1 439.9h0M685.7 413.6h0M663 451.9h0M695.3 388h0M665.3 436.9h0M688.8 393.7h0M652.7 452.8h0M647.1 455h0M690.2 382.9h0M629.8 472.5h0M688.7 380.1h0M647.6 439.1h0M665.6 411.9h0M621.9 469.3h0M656.2 420h0M619 463.2h0M655.4 413.9h0M630.9 440h0M698.9 352.5h0M627 440.2h0M659.5 399.6h0M622.3 437.2h0M603.9 451.8h0M658.1 391.1h0M599.6 449.1h0M620.3 427h0M615 426.9h0M678.5 362.2h0" stroke="#F26B2A" stroke-width="3"/>
<path d="M588.4 481.4h0M580.1 499.5h0M592.9 481.2h0M571.1 525.5h0M583.4 500.4h0M599.1 481.7h0M591.2 496.4h0M588.3 509.8h0M553.8 568.8h0M549.3 576.6h0M589 513.8h0M578.5 531h0M553.4 571.8h0M594.5 512.2h0M608.2 499.6h0M622.3 488.3h0M573.9 552.4h0M628.6 492.5h0M608.3 516.9h0M631.7 492.4h0M591.8 538.9h0M635.7 495.4h0M574 563h0M624.7 516.7h0M582.1 559.3h0M645.4 503.1h0M628.7 522.1h0M633.2 525.7h0M644.4 521.8h0M663.5 515.4h0M636.1 538.8h0M615.3 553.3h0M675.1 520.1h0M674.5 526.8h0M623.7 556.9h0M652.3 545.1h0M612.8 566.9h0M686.1 532.4h0M652 549.9h0M657.6 551.5h0M614.5 572.2h0M692.5 542.6h0M667.1 556.6h0M619.7 576.1h0M700.7 549.8h0M623.7 578.3h0M598.2 587.8h0M699.3 557.2h0M692.7 564.7h0M629.5 583.5h0M636.9 581.3h0M691 569.8h0M705.5 573.8h0M711.6 576.2h0M638.3 591.2h0M687.8 581.1h0M708.3 585.3h0M686.1 588.8h0M693.8 590.8h0M621.7 600.9h0M678 598.4h0M583.4 608.2h0M702 600.7h0M593.1 609h0M672.7 609h0M682.1 611.6h0M712.8 618.5h0M605 615.9h0M715.8 624.1h0M594.7 617.6h0M678.6 627.5h0M658 625.7h0M652.4 625.2h0M716.5 637.5h0M681.2 633.1h0M687.2 638.2h0M638.6 630.8h0M689.4 642.2h0M597.1 626.1h0M661.7 637.4h0M713.3 652.9h0M626.7 634.7h0M671 648.5h0M655 644.6h0M708 663h0M709.9 670.5h0M691.4 664.8h0M664.4 663h0M630.1 650.8h0M673.6 669.5h0M589.9 637.7h0M700.2 684.8h0M694.8 692.3h0M657 674.6h0M695.5 698.3h0M632.1 666.5h0M611.6 656.2h0M673.8 691.5h0M595 649.7h0M654 685.7h0M664.7 700.2h0M576.7 644.9h0M680.6 717.4h0M651.1 697.5h0M677.3 719.8h0M622.7 681.3h0M666.6 719.3h0M642.4 701h0M600.7 669.4h0M674.7 734.1h0M656.3 719.1h0M666.5 733.8h0M650.1 719.7h0M667.8 741.5h0M578.9 660.8h0M584 665.4h0M661.2 745.8h0M612.8 698h0M626 711.1h0M656.1 746h0M652.4 752.5h0M580.6 672.9h0M649.4 758.5h0M581.2 677.6h0M644.6 763.3h0M620.7 739.3h0M572.4 674.4h0M629.8 759.8h0M609.1 730.4h0M624.2 764.6h0M574.6 687.4h0M623.2 771h0M583.8 706.4h0M612.6 764.5h0M601.1 744.3h0M586.9 719.1h0M614 781.2h0M611.4 784.9h0M585.5 732.2h0M591.1 754.5h0M560.5 686.8h0M588.9 764.9h0M558.1 689.1h0M592.2 786.6h0M560.6 702.3h0M564.6 713h0M589.1 793.5h0M569.7 737h0M568.4 733.1h0M581.6 793.6h0M564.6 737.4h0M576.5 794.8h0M555 715.4h0M562.4 762.3h0M550.4 711.3h0M565.4 799.4h0M544.1 695.1h0M560.5 797.4h0M554.1 802.8h0M547.6 756.8h0M546.4 779.7h0M543 749.5h0M539.5 785.8h0M534.9 719.1h0M535 803.9h0M531.8 804.7h0M524.3 780.4h0M525.7 707h0M518.5 800.1h0M521.6 736h0M514.8 775.8h0M519.9 710.2h0M507.6 800.8h0M519.6 688.4h0M510.5 773.9h0M506.4 763.6h0M495.2 798.9h0M507.3 729.3h0M492.9 773.3h0M483.3 796.6h0M503.5 713.2h0M476.6 793.1h0M498.5 716.2h0M479.5 768.6h0M499.1 705.5h0M465.4 793.1h0M470.7 766.6h0M504.2 676.7h0M458.3 777.1h0M487.3 708.8h0M452.4 782.8h0M493.7 690h0M453.3 764.2h0M499.8 670.1h0M460.5 740.8h0M453.2 745.2h0M442 753.4h0M450.7 739.2h0M423.3 771.9h0M484.9 678.5h0M485.3 678h0M428.2 757h0M489.4 668.9h0M434.5 740.2h0M424.8 743.8h0M471.8 684.3h0M466.1 691.5h0M403.9 759.3h0M454.4 700h0M408.8 743.8h0M465.4 681.9h0M427.3 723.6h0M414 729.8h0M428.4 715h0M394.8 743.9h0M417.1 722h0M389.9 739.3h0M388.2 734.5h0M383.6 729.2h0M411.8 706.6h0M379.8 725.7h0M473 655.2h0M407.2 698.1h0M467.6 655.9h0M381.5 708.7h0M463.6 655.4h0M398.9 693.5h0M366.7 704.1h0M408.7 680.6h0M364.3 701.6h0M359.2 696.2h0M418.4 667.3h0M377.6 682.7h0M352.4 687.5h0M435.3 652.7h0M402.4 666.5h0M354.4 681.1h0M460.7 639.9h0M382 664.6h0M444.3 642.9h0M403.9 657h0M350 667.9h0M348.1 665.1h0M399.7 650.4h0M344.4 657.6h0M445.1 633.6h0M386 644.6h0M344.4 648h0M459.4 626.6h0M364.2 638.2h0M406 632h0M345.4 635.3h0M380.2 631.3h0M361.5 626.6h0M465.1 618.7h0M447.1 620.1h0M355.9 623.7h0M352.7 618.5h0M439.3 616.3h0M357.8 613.1h0M344.1 605h0M380.1 602.2h0M414.1 605h0M341.4 595.6h0M346.7 587.2h0M428.7 599.3h0M342.8 582.6h0M394.8 591.5h0M342.6 577.2h0M427 594h0M349 572.4h0M384.9 580.8h0M370.2 571.4h0M354 561.4h0M357.1 556.8h0M402.1 571.9h0M425.9 579.9h0M359.6 552.6h0M462.1 590.1h0M358.7 546.6h0M365.8 539.9h0M454 580.4h0M422.6 566h0M373.8 541.2h0M374.8 533.4h0M409 551.4h0M385.5 532.5h0M405.4 544h0M403.5 539.8h0M382.2 520.7h0M386.8 516.6h0M397.9 517.1h0M395.9 509.5h0M475.6 572.8h0M428.7 529.8h0M490.7 582.7h0M403.6 502.5h0M425.8 522.6h0M426 515.5h0M468.5 556.7h0M420 504.8h0M480.2 565.9h0M420.3 498.3h0M485 568.1h0M429.8 501.5h0M441 514.4h0M429.7 491.1h0M460.5 529.8h0M432.7 490.1h0M478.7 550.3h0M437.6 488.3h0M473.9 539.1h0M442.6 488.3h0M473 533.4h0M447.1 484.1h0M475.2 529.4h0M494.4 560.5h0M454.7 486.1h0M482.5 534.8h0M479.9 530.2h0M456.7 483.6h0M499.6 562.6h0M486.8 539.1h0M460.6 482.1h0M476.2 512.9h0M465.1 480.5h0M470.7 479.9h0M503.3 557h0M478 483.3h0M494 525.5h0M479.2 478.1h0M494.1 520h0M494.5 506.5h0M502.4 532.3h0M497.3 507.5h0M501.4 509.4h0M504.9 507.3h0M508.1 522.3h0M503 476.5h0M511.1 521.9h0M510.4 504.9h0M516.3 542.6h0M518.8 558.4h0M514 495h0M517.6 527.2h0M516.7 519.4h0M517 477.9h0M518.8 501h0" stroke="#21ADE4" stroke-width="3"/>
<path d="M540.5 203.1h0M538.1 218.1h0M541.3 228.3h0M541 239.3h0M543.6 252.1h0M544.4 264.8h0M541.2 275.6h0M542.6 289.7h0M545.1 298.2h0M545.4 214.4h0M547.6 226.7h0M547.9 237.2h0M546.7 249.6h0M549 258.7h0M550.3 274h0M548.9 282.1h0M552.7 294h0M551.4 306.3h0M552.1 318h0M554.1 331h0M557.1 338.7h0M555.6 353.1h0M558.6 226.1h0M558 236.6h0M557.3 246.3h0M560.2 259.7h0M561.6 270.1h0M559 281.5h0M561.9 291.5h0M562 302h0M562.3 313.3h0M560.5 324.1h0M562.5 337.8h0M563.9 346.4h0M563.4 356.9h0M566.8 238.5h0M565.8 253.1h0M568.8 263h0M570 274h0M568.7 284.7h0M570.1 297.2h0M572.9 309.8h0M574.7 320.6h0M575.3 333.1h0M571.8 343.1h0M575 357.9h0M578.6 286.1h0M579.7 298.5h0M578.6 308.9h0M583.5 320.1h0M581 331.1h0M581.2 344.1h0" stroke="#E5157A" stroke-width="3.6"/>
<path d="M435.4 441.2h0M442.6 440.3h0M450.9 441.5h0M458.8 438.7h0M466.8 440.2h0M474.4 436.7h0M482.6 438.3h0M430.7 447.4h0M438.2 447.8h0M447.4 447.3h0M455.3 445.2h0M462 446h0M470.5 444.2h0M478.4 443.2h0M427.1 454.7h0M441.1 454.6h0M455.7 453.4h0M470.2 451.9h0" stroke="#7DB81E" stroke-width="3.6"/>
<path d="M615.9 451.5h0M622 451h0M621.9 456.7h0M627 458.7h0M631.2 464.2h0M637 461.5h0M635.7 465.8h0M640.3 469.4h0M646.5 472.8h0M652 472h0M651.6 477.3h0M656.1 481.3h0M661.1 485h0M667 482.5h0M666.2 487.5h0" stroke="#6B1E8A" stroke-width="3.6"/>
<path d="M527 397h0M540.8 399.1h0M555.1 397.2h0M569.1 399.9h0M581.8 397.1h0M532.1 408.8h0M544.5 405h0M559.9 407.6h0M575.1 406.4h0M590 405.9h0M527 414.4h0M538.1 414.5h0M552.2 416h0M568.2 414.7h0M583.8 415.5h0M530.6 423.7h0M547 426.7h0M558.6 423.1h0M575.1 424h0M589.9 425h0M526.5 433.4h0M541.2 433.8h0M553.3 435.6h0M566.4 434.9h0M580.3 434.6h0M531.6 444.5h0M544.2 443.3h0M559.6 444.7h0M575.8 443.5h0M586.9 442h0" stroke="#6DB57B" stroke-width="3.6"/>
</g>
<circle cx="452" cy="317" r="12.7" fill="#CFE2F6"/>
<circle cx="740" cy="299.5" r="12.7" fill="#CFE2F6"/>
<circle cx="527.5" cy="614" r="12.7" fill="#CFE2F6"/>
<g fill="none" stroke="#4472C4" stroke-width="5.5" stroke-linejoin="round">
<rect x="514.7" y="386.4" width="85.3" height="64.3"/>
<path d="M600 386.4L1114.4 102.5M600 450.7L1114.4 779.5"/>
</g>
<path d="M1409 190L1317.6 105.5M1409 190L1563.1 105.5M1409 190L1364.8 776.5M1539 175.5L1450.6 105.5M1539 175.5L1659.3 105.5M1539 175.5L1460.4 776.5M1650.7 203L1518.5 105.5M1650.7 203L1803 105.5M1650.7 203L1546.9 776.5M1744.6 258.4L1534 105.5M1744.6 258.4L1915 136.1M1744.6 258.4L1626.8 776.5M1321.5 235L1201.8 105.5M1321.5 235L1558.3 105.5M1321.5 235L1300.8 776.5M1247.2 313.6L1117.4 144.6M1247.2 313.6L1614.9 105.5M1247.2 313.6L1244.6 776.5M1499.4 310.9L1286 105.5M1499.4 310.9L1817.1 105.5M1499.4 310.9L1443.1 776.5M1650.7 342.2L1375.8 105.5M1650.7 342.2L1915 149.8M1650.7 342.2L1567 776.5M1349.7 366.7L1132.8 105.5M1349.7 366.7L1767.7 105.5M1349.7 366.7L1327.7 776.5M1817.9 375.7L1469.6 105.5M1817.9 375.7L1915 294.4M1817.9 375.7L1707.9 776.5M1206.3 447.3L1117.4 307.2M1206.3 447.3L1757.3 105.5M1206.3 447.3L1210.9 776.5M1501 430.4L1201.1 105.5M1501 430.4L1915 134M1501 430.4L1456.5 776.5M1716 460L1327.6 105.5M1716 460L1915 293.5M1716 460L1641.3 776.5M1359.8 502.5L1117.4 174.7M1359.8 502.5L1915 113.6M1359.8 502.5L1342.7 776.5M1513.2 556.7L1136.4 105.5M1513.2 556.7L1915 237.6M1513.2 556.7L1481.7 776.5M1653.3 544.5L1230.4 105.5M1653.3 544.5L1915 320.3M1653.3 544.5L1603.6 776.5M1802 562L1311.7 105.5M1802 562L1915 453.8M1802 562L1739.2 776.5M1272.2 584.3L1117.4 333.5M1272.2 584.3L1915 127.3M1272.2 584.3L1268.5 776.5M1351.3 621.5L1117.4 268.3M1351.3 621.5L1915 192.8M1351.3 621.5L1341.7 776.5M1453.7 660.7L1117.4 194.6M1453.7 660.7L1915 279.6M1453.7 660.7L1439.9 776.5M1573.7 663.9L1119.9 105.5M1573.7 663.9L1915 360.9M1573.7 663.9L1552.9 776.5M1693.6 641.6L1199.7 105.5M1693.6 641.6L1915 433M1693.6 641.6L1660.3 776.5M1117.4 473.2L1723.6 105.5M1117.4 271.6L1442.1 105.5M1117.4 472.3L1722.6 105.5M1117.4 688L1915 123.3M1117.4 647L1903.8 105.5M1229.7 776.5L1915 234M1604 105.5L1500.5 776.5M1673.9 105.5L1550.9 776.5M1768.9 105.5L1619.2 776.5M1419.7 105.5L1367.9 776.5M1837.9 105.5L1668.9 776.5" fill="none" stroke="#86C28D" stroke-width="1.9"/>
<g fill="#7DBE86">
<circle cx="1409" cy="190" r="22"/>
<circle cx="1539" cy="175.5" r="22"/>
<circle cx="1650.7" cy="203" r="22"/>
<circle cx="1744.6" cy="258.4" r="22"/>
<circle cx="1321.5" cy="235" r="22"/>
<circle cx="1247.2" cy="313.6" r="22"/>
<circle cx="1499.4" cy="310.9" r="22"/>
<circle cx="1650.7" cy="342.2" r="22"/>
<circle cx="1349.7" cy="366.7" r="22"/>
<circle cx="1817.9" cy="375.7" r="22"/>
<circle cx="1206.3" cy="447.3" r="22"/>
<circle cx="1501" cy="430.4" r="22"/>
<circle cx="1716" cy="460" r="22"/>
<circle cx="1359.8" cy="502.5" r="22"/>
<circle cx="1513.2" cy="556.7" r="22"/>
<circle cx="1653.3" cy="544.5" r="22"/>
<circle cx="1802" cy="562" r="22"/>
<circle cx="1272.2" cy="584.3" r="22"/>
<circle cx="1351.3" cy="621.5" r="22"/>
<circle cx="1453.7" cy="660.7" r="22"/>
<circle cx="1573.7" cy="663.9" r="22"/>
<circle cx="1693.6" cy="641.6" r="22"/>
</g>
<g fill="#262626">
<text x="1366.7" y="263" font-size="33.7" font-family="'Liberation Sans', Arial, sans-serif">FGF1</text>
<text x="1493" y="247.7" font-size="33.7" font-family="'Liberation Sans', Arial, sans-serif">MAFB</text>
<text x="1593.8" y="275.4" font-size="33.7" font-family="'Liberation Sans', Arial, sans-serif">CERS6</text>
<text x="1693" y="330.6" font-size="33.7" font-family="'Liberation Sans', Arial, sans-serif">FBXL7</text>
<text x="1264.7" y="308.3" font-size="33.7" font-family="'Liberation Sans', Arial, sans-serif">DACH1</text>
<text x="1189.9" y="386.8" font-size="33.7" font-family="'Liberation Sans', Arial, sans-serif">PODXL</text>
<text x="1446.3" y="382.6" font-size="33.7" font-family="'Liberation Sans', Arial, sans-serif">MAGI2</text>
<text x="1580" y="414.4" font-size="33.7" font-family="'Liberation Sans', Arial, sans-serif">SEMA3G</text>
<text x="1291.3" y="439.9" font-size="33.7" font-family="'Liberation Sans', Arial, sans-serif">SYNPO</text>
<text x="1761" y="449" font-size="33.7" font-family="'Liberation Sans', Arial, sans-serif">NPHS2</text>
<text x="1137.3" y="519.5" font-size="33.7" font-family="'Liberation Sans', Arial, sans-serif">CDKN1C</text>
<text x="1410.7" y="503" font-size="33.7" font-family="'Liberation Sans', Arial, sans-serif">ARHGAP28</text>
<text x="1651.7" y="532.3" font-size="33.7" font-family="'Liberation Sans', Arial, sans-serif">TSPAN2</text>
<text x="1305.6" y="574.7" font-size="33.7" font-family="'Liberation Sans', Arial, sans-serif">PLCE1</text>
<text x="1456.9" y="629.4" font-size="33.7" font-family="'Liberation Sans', Arial, sans-serif">NPHS1</text>
<text x="1581.6" y="617.2" font-size="33.7" font-family="'Liberation Sans', Arial, sans-serif">DYNC1I1</text>
<text x="1758.4" y="633.1" font-size="33.7" font-family="'Liberation Sans', Arial, sans-serif">NEBL</text>
<text x="1235.5" y="656" font-size="33.7" font-family="'Liberation Sans', Arial, sans-serif">WT1</text>
<text x="1318.9" y="693.1" font-size="33.7" font-family="'Liberation Sans', Arial, sans-serif">FRY</text>
<text x="1394.8" y="731.3" font-size="33.7" font-family="'Liberation Sans', Arial, sans-serif">PTPRO</text>
<text x="1520.6" y="735.6" font-size="33.7" font-family="'Liberation Sans', Arial, sans-serif">SULF1</text>
<text x="1630.5" y="712.8" font-size="33.7" font-family="'Liberation Sans', Arial, sans-serif">IQGAP2</text>
</g>
<rect x="1114.4" y="102.5" width="803.6" height="677" fill="none" stroke="#4472C4" stroke-width="5.6" stroke-linejoin="round"/>
<g stroke="#1a1a1a" stroke-width="1.1" stroke-linejoin="round">
<path d="M182.8 1059.7 183 1057.8 184.8 1057.4 187.1 1057.2 204.8 1056.7 247.4 1055.9 252.9 1055.7 253.4 1055.5 198.1 1054.4 187.7 1054 183.1 1053.4 183 1023.5 182.8 1021.4 182.2 1021.4 182 1023.5 181.9 1053.4 177.3 1054 166.9 1054.4 111.6 1055.5 112.1 1055.7 117.6 1055.9 160.2 1056.7 177.9 1057.2 180.2 1057.4 182 1057.8 182.2 1059.7Z" fill="#BEBEBE"/>
<path d="M341 1060.5 341 1059.9 341.1 1059.7 342.1 1059.3 346.1 1058.7 350.6 1058.3 366.6 1057.6 405.4 1056.2 411.9 1055.6 409.4 1055.2 402 1054.8 354.4 1053.1 348.6 1052.7 343.6 1052.1 343.5 1051.9 343.5 1051.3 344.4 1050.4 346.2 1048.8 348.2 1047.5 352.7 1045.1 363.7 1040.4 365.6 1039.3 366.3 1038.5 365.7 1037.5 364.1 1036.2 351 1028.6 347.3 1025.9 344.7 1023.1 341 1021 340.2 1021 336.5 1023.1 333.9 1025.9 330.2 1028.6 317.1 1036.2 315.5 1037.5 314.9 1038.5 315.6 1039.3 317.5 1040.4 328.5 1045.1 333 1047.5 335 1048.8 336.8 1050.4 337.7 1051.3 337.7 1051.9 337.6 1052.1 332.6 1052.7 326.8 1053.1 279.2 1054.8 271.8 1055.2 269.3 1055.6 275.8 1056.2 314.6 1057.6 330.6 1058.3 335.1 1058.7 339.1 1059.3 340.1 1059.7 340.2 1059.9 340.2 1060.5Z" fill="#8B0000"/>
<path d="M182.8 1102.4 182.8 1102.1 183.1 1101.9 183.9 1101.7 192.8 1101.2 248.2 1100.2 252.9 1100.1 253.6 1099.9 192.1 1098.6 185.8 1098.2 183 1097.7 183 1070.8 182.8 1068.6 182.2 1068.6 182 1070.8 182 1097.7 179.2 1098.2 172.9 1098.6 111.4 1099.9 112.1 1100.1 116.8 1100.2 172.2 1101.2 181.1 1101.7 181.9 1101.9 182.2 1102.1 182.2 1102.4Z" fill="#BEBEBE"/>
<path d="M341 1102.4 361.8 1101.6 398.5 1100.8 408.1 1100.4 411.8 1100 411.5 1099.8 409.8 1099.6 402.5 1099.2 354.2 1097.4 348.3 1097 343.5 1096.5 343.5 1090.9 344.3 1090.3 346.4 1089.3 349.3 1088.3 363.8 1084.7 365.6 1084.1 366.2 1083.7 366.2 1083.6 365.7 1082.8 364.6 1081.8 360.5 1079.2 361.5 1078.6 362 1078 361.2 1077 358.7 1075.4 350.5 1071.2 347 1069.1 344.1 1066.5 342.4 1064.1 341 1062.5 341 1062.1 340.2 1062.1 340.2 1062.5 338.8 1064.1 337.1 1066.5 334.2 1069.1 330.7 1071.2 322.5 1075.4 320 1077 319.2 1078 319.7 1078.6 320.7 1079.2 316.6 1081.8 315.5 1082.8 315 1083.6 315 1083.7 315.6 1084.1 317.4 1084.7 331.9 1088.3 334.8 1089.3 336.9 1090.3 337.7 1090.9 337.7 1096.5 332.9 1097 327 1097.4 278.7 1099.2 271.4 1099.6 269.7 1099.8 269.4 1100 273.1 1100.4 282.7 1100.8 319.4 1101.6 340.2 1102.4Z" fill="#8B0000"/>
<path d="M182.8 1139.5 183 1137.6 183.3 1137.5 188.4 1136.9 207.5 1136.4 248.2 1135.7 253.1 1135.5 253.3 1135.3 193.3 1134 185.9 1133.7 183.3 1133.3 183 1133 183 1105 182.8 1102.8 182.2 1102.8 182 1105 182 1133 181.7 1133.3 179.1 1133.7 171.7 1134 111.7 1135.3 111.9 1135.5 116.8 1135.7 157.5 1136.4 176.6 1136.9 181.7 1137.5 182 1137.6 182.2 1139.5Z" fill="#BEBEBE"/>
<path d="M341 1140.3 341.1 1139.5 342.7 1139 351.7 1138.1 367.5 1137.3 404.6 1136 411.8 1135.5 411.7 1135.3 410.4 1135.1 404.5 1134.7 354.6 1132.9 349 1132.5 344.2 1132 344.2 1122.7 344.3 1122.6 348.5 1120.7 360.3 1117.4 361.8 1116.8 362.7 1116.3 362.4 1115.7 361.8 1115.2 358.9 1113.3 360 1112.8 360.6 1112.2 360.4 1111.9 359.7 1111.3 357.6 1110.2 349.7 1106.9 345.9 1104.8 343.2 1103.9 341 1102.8 340.2 1102.8 338 1103.9 335.3 1104.8 331.5 1106.9 323.6 1110.2 321.5 1111.3 320.8 1111.9 320.6 1112.2 321.2 1112.8 322.3 1113.3 319.4 1115.2 318.8 1115.7 318.5 1116.3 319.4 1116.8 320.9 1117.4 332.7 1120.7 336.9 1122.6 337 1122.7 337 1132 332.2 1132.5 326.6 1132.9 276.7 1134.7 270.8 1135.1 269.5 1135.3 269.4 1135.5 276.6 1136 313.7 1137.3 329.5 1138.1 338.5 1139 340.1 1139.5 340.2 1140.3Z" fill="#8B0000"/>
<path d="M182.8 1181.8 182.9 1181.1 184.4 1180.5 192.8 1179.6 207.7 1178.9 244.4 1177.6 251.3 1177.3 253.8 1176.9 251.6 1176.5 245 1176.2 196.2 1174.4 187.1 1173.7 183.7 1172.9 183.2 1172.6 183.2 1170.2 185.3 1164.3 185.7 1161.6 185.3 1159.4 183.7 1154.9 183 1152.5 182.8 1145.1 182.2 1145.1 182 1152.5 181.3 1154.9 179.7 1159.4 179.3 1161.6 179.7 1164.3 181.8 1170.2 181.8 1172.6 181.3 1172.9 177.9 1173.7 168.8 1174.4 120 1176.2 113.4 1176.5 111.2 1176.9 113.7 1177.3 120.6 1177.6 157.3 1178.9 172.2 1179.6 180.6 1180.5 182.1 1181.1 182.2 1181.8Z" fill="#BEBEBE"/>
<path d="M341 1181.8 341 1181 342.3 1180.5 349.5 1179.5 358.3 1179 387 1177.6 393.7 1177.1 394.1 1176.9 393.5 1176.7 389.6 1176.3 354.4 1174.6 347.1 1174.1 343.7 1173.5 345.9 1171.2 349.2 1169.2 353.4 1167.3 359 1165.4 365.4 1163.7 373.2 1162 405.2 1156 410.2 1154.6 411.5 1154.1 411.9 1153.7 411.2 1153.1 409.9 1152.6 404.5 1151.1 377.6 1145.6 341 1143.5 340.2 1143.5 303.6 1145.6 276.7 1151.1 271.3 1152.6 270 1153.1 269.3 1153.7 269.7 1154.1 271 1154.6 276 1156 308 1162 315.8 1163.7 322.2 1165.4 327.8 1167.3 332 1169.2 335.3 1171.2 337.5 1173.5 334.1 1174.1 326.8 1174.6 291.6 1176.3 287.7 1176.7 287.1 1176.9 287.5 1177.1 294.2 1177.6 322.9 1179 331.7 1179.5 338.9 1180.5 340.2 1181 340.2 1181.8Z" fill="#8B0000"/>
<path d="M182.8 1219.2 183 1217.3 186.6 1216.8 200.9 1216.3 248.3 1215.4 253 1215.3 253.5 1215.1 195.5 1213.9 187.1 1213.5 183.1 1213 183 1186.3 182.8 1184.2 182.2 1184.2 182 1186.3 181.9 1213 177.9 1213.5 169.5 1213.9 111.5 1215.1 112 1215.3 116.7 1215.4 164.1 1216.3 178.4 1216.8 182 1217.3 182.2 1219.2Z" fill="#BEBEBE"/>
<path d="M341 1224.5 341.1 1221.3 341.4 1219.4 342.8 1218.8 345 1218.4 358.2 1217.5 401.2 1216 408.9 1215.6 411.9 1215.2 409.6 1214.8 402.5 1214.4 355.5 1212.7 349.4 1212.3 344.1 1211.8 343.7 1211.6 344.9 1207.6 345.3 1204.5 345.1 1201.9 344.4 1199 346 1197.1 346.3 1195.8 345.5 1194.2 342.7 1191.4 341.7 1190 341 1187 341 1185.9 340.2 1185.9 340.2 1187 339.5 1190 338.5 1191.4 335.7 1194.2 334.9 1195.8 335.2 1197.1 336.8 1199 336.1 1201.9 335.9 1204.5 336.3 1207.6 337.5 1211.6 337.1 1211.8 331.8 1212.3 325.7 1212.7 278.7 1214.4 271.6 1214.8 269.3 1215.2 272.3 1215.6 280 1216 323 1217.5 336.2 1218.4 338.4 1218.8 339.8 1219.4 340.1 1221.3 340.2 1224.5Z" fill="#8B0000"/>
<path d="M182.8 1259.9 183 1258 186.6 1257.5 200.9 1257 248.3 1256.1 253 1256 253.5 1255.8 195.5 1254.6 187.1 1254.2 183.1 1253.7 183 1227 182.8 1224.9 182.2 1224.9 182 1227 181.9 1253.7 177.9 1254.2 169.5 1254.6 111.5 1255.8 112 1256 116.7 1256.1 164.1 1257 178.4 1257.5 182 1258 182.2 1259.9Z" fill="#BEBEBE"/>
<path d="M341 1260.7 341 1260.1 342.3 1259.5 345.9 1259 352.1 1258.5 366.9 1257.8 402.3 1256.6 409 1256.3 411.8 1255.9 411.6 1255.7 410.4 1255.6 404.8 1255.2 357.3 1253.5 348.8 1253 344.2 1252.5 344.2 1244.9 349.2 1241.4 350.5 1240.4 351.2 1239.2 351.3 1238 352.5 1236.8 352.7 1235.7 352.2 1234.7 351 1233.7 345.4 1230.4 343.5 1229 341.2 1226.8 341 1226.4 341 1225.7 340.2 1225.7 340.2 1226.4 340 1226.8 337.7 1229 335.8 1230.4 330.2 1233.7 329 1234.7 328.5 1235.7 328.7 1236.8 329.9 1238 330 1239.2 330.7 1240.4 332 1241.4 337 1244.9 337 1252.5 332.4 1253 323.9 1253.5 276.4 1255.2 270.8 1255.6 269.6 1255.7 269.4 1255.9 272.2 1256.3 278.9 1256.6 314.3 1257.8 329.1 1258.5 335.3 1259 338.9 1259.5 340.2 1260.1 340.2 1260.7Z" fill="#8B0000"/>
<path d="M182.8 1305.9 227.7 1305.1 231.7 1304.9 231.9 1304.7 191.7 1303.7 185.5 1303.4 184.1 1303.2 183 1302.9 183 1273.4 182.8 1271.3 182.2 1271.3 182 1273.4 182 1302.9 180.9 1303.2 179.5 1303.4 173.3 1303.7 133.1 1304.7 133.3 1304.9 137.3 1305.1 182.2 1305.9Z" fill="#BEBEBE"/>
<path d="M341 1305.9 389.5 1305 407.7 1304.4 406.9 1304.2 402.8 1304 359 1302.4 349 1301.8 344.2 1301.3 344.3 1300.1 345.7 1298.7 348.2 1297 351.1 1295.4 358.5 1292.5 374.8 1287.3 377.4 1286.1 378.2 1285.5 378.4 1285.1 377.2 1284.1 374.5 1283 358.2 1277.7 354 1276.2 350.5 1274.6 347.7 1273.1 345.6 1271.5 344.2 1270.1 343 1268.6 341.1 1266.8 341 1266.4 340.2 1266.4 340.1 1266.8 338.2 1268.6 337 1270.1 335.6 1271.5 333.5 1273.1 330.7 1274.6 327.2 1276.2 323 1277.7 306.7 1283 304 1284.1 302.8 1285.1 303 1285.5 303.8 1286.1 306.4 1287.3 322.7 1292.5 330.1 1295.4 333 1297 335.5 1298.7 336.9 1300.1 337 1301.3 332.2 1301.8 322.2 1302.4 278.4 1304 274.3 1304.2 273.5 1304.4 291.7 1305 340.2 1305.9Z" fill="#8B0000"/>
<path d="M182.8 1339.3 182.8 1338.3 183.1 1337.4 186.9 1336.9 200.6 1336.4 245.9 1335.6 253.8 1335.2 246.8 1334.9 195.1 1333.9 187.2 1333.6 183.2 1333.1 183 1333 183 1308.5 182.8 1306.3 182.2 1306.3 182 1308.5 182 1333 181.8 1333.1 177.8 1333.6 169.9 1333.9 118.2 1334.9 111.2 1335.2 119.1 1335.6 164.4 1336.4 178.1 1336.9 181.9 1337.4 182.2 1338.3 182.2 1339.3Z" fill="#BEBEBE"/>
<path d="M341 1340.1 341 1339.2 341.8 1338.7 344.2 1338.2 349.2 1337.7 362.5 1337.1 403.6 1335.8 409.9 1335.5 411.9 1335.2 409.1 1334.9 402.2 1334.6 357.2 1333.2 348.5 1332.7 344.2 1332.2 344.2 1330.8 344.5 1330.5 346.9 1329 350.4 1327.6 357.5 1325.6 375 1321.6 377.4 1320.8 378.4 1320.2 378 1319.7 377.1 1319.2 374.2 1318.1 357.3 1313.2 352.7 1311.6 349.1 1310 341 1308 340.2 1308 332.1 1310 328.5 1311.6 323.9 1313.2 307 1318.1 304.1 1319.2 303.2 1319.7 302.8 1320.2 303.8 1320.8 306.2 1321.6 323.7 1325.6 330.8 1327.6 334.3 1329 336.7 1330.5 337 1330.8 337 1332.2 332.7 1332.7 324 1333.2 279 1334.6 272.1 1334.9 269.3 1335.2 271.3 1335.5 277.6 1335.8 318.7 1337.1 332 1337.7 337 1338.2 339.4 1338.7 340.2 1339.2 340.2 1340.1Z" fill="#8B0000"/>
<path d="M182.8 1384.1 182.9 1383.3 184.3 1381 187.1 1380.6 204.4 1380.1 246.6 1379.5 253.6 1379.2 199.5 1378.2 188.4 1377.8 184.4 1377.5 183.5 1376.2 183 1374.7 183 1352.8 182.8 1350.7 182.2 1350.7 182 1352.8 182 1374.7 181.5 1376.2 180.6 1377.5 176.6 1377.8 165.5 1378.2 111.4 1379.2 118.4 1379.5 160.6 1380.1 177.9 1380.6 180.7 1381 182.1 1383.3 182.2 1384.1Z" fill="#BEBEBE"/>
<path d="M341 1384.1 341.1 1383.3 342.7 1382.8 351.7 1381.9 367.5 1381.1 404.6 1379.8 411.8 1379.3 411.7 1379.1 410.4 1378.9 404.5 1378.6 362.5 1377.1 351.6 1376.5 345.3 1376 344.9 1375.8 344.9 1374.5 346.5 1373.4 350.3 1371.5 355.6 1369.7 360.5 1368.4 367.3 1366.9 394.1 1361.9 398.4 1360.8 399.8 1360.1 399.5 1359.7 398.3 1359.2 394.5 1358.1 366.1 1352.2 359.5 1350.5 353.6 1348.7 341 1346.6 340.2 1346.6 327.6 1348.7 321.7 1350.5 315.1 1352.2 286.7 1358.1 282.9 1359.2 281.7 1359.7 281.4 1360.1 282.8 1360.8 287.1 1361.9 313.9 1366.9 320.7 1368.4 325.6 1369.7 330.9 1371.5 334.7 1373.4 336.3 1374.5 336.3 1375.8 335.9 1376 329.6 1376.5 318.7 1377.1 276.7 1378.6 270.8 1378.9 269.5 1379.1 269.4 1379.3 276.6 1379.8 313.7 1381.1 329.5 1381.9 338.5 1382.8 340.1 1383.3 340.2 1384.1Z" fill="#8B0000"/>
<path d="M182.8 1427.6 183 1425.8 184.3 1425.4 188.4 1425.1 205.6 1424.6 244.5 1423.9 253.7 1423.6 247 1423.3 194.1 1422.2 186.6 1421.9 183 1421.4 183 1395.6 182.8 1393.4 182.2 1393.4 182 1395.6 182 1421.4 178.4 1421.9 170.9 1422.2 118 1423.3 111.3 1423.6 120.5 1423.9 159.4 1424.6 176.6 1425.1 180.7 1425.4 182 1425.8 182.2 1427.6Z" fill="#BEBEBE"/>
<path d="M341 1428 341 1427.7 341.3 1427.5 342.6 1427.1 350.8 1426.3 367.1 1425.5 405.8 1424.2 411.2 1423.8 411.9 1423.6 411.2 1423.4 405.9 1423 362.3 1421.4 349.6 1420.7 350.5 1420.1 350.6 1419.9 350.3 1419.5 348.9 1418.9 343.5 1417.3 343.5 1417.2 343.5 1412.5 344.1 1406.8 344 1403 343.5 1399.3 341.8 1390.7 341 1389.1 341 1388.6 340.2 1388.6 340.2 1389.1 339.4 1390.7 337.7 1399.3 337.2 1403 337.1 1406.8 337.7 1412.5 337.7 1417.2 337.7 1417.3 332.3 1418.9 330.9 1419.5 330.6 1419.9 330.7 1420.1 331.6 1420.7 318.9 1421.4 275.3 1423 270 1423.4 269.3 1423.6 270 1423.8 275.4 1424.2 314.1 1425.5 330.4 1426.3 338.6 1427.1 339.9 1427.5 340.2 1427.7 340.2 1428Z" fill="#8B0000"/>
<path d="M182.8 1466.3 182.9 1465.6 184.4 1465.1 192.5 1464.2 206.8 1463.5 243.3 1462.2 250.5 1461.8 253.7 1461.5 253.6 1461.3 252.2 1461.1 246.4 1460.8 197.7 1459 189.7 1458.5 185.4 1457.9 185.4 1454.4 188.2 1452.9 195.6 1450.1 197.1 1449.2 197.4 1448.6 197.5 1448.3 196.9 1447.6 195.4 1446.9 186.2 1443.6 184.6 1442.8 183.4 1441.7 183 1441 182.8 1430.1 182.2 1430.1 182 1441 181.6 1441.7 180.4 1442.8 178.8 1443.6 169.6 1446.9 168.1 1447.6 167.5 1448.3 167.6 1448.6 167.9 1449.2 169.4 1450.1 176.8 1452.9 179.6 1454.4 179.6 1457.9 175.3 1458.5 167.3 1459 118.6 1460.8 112.8 1461.1 111.4 1461.3 111.3 1461.5 114.5 1461.8 121.7 1462.2 158.2 1463.5 172.5 1464.2 180.6 1465.1 182.1 1465.6 182.2 1466.3Z" fill="#BEBEBE"/>
<path d="M341 1466.3 341.1 1464.8 342 1464.2 344.1 1463.5 349.9 1462.2 351.2 1461.6 351.2 1461.2 350.4 1460.8 344 1459.3 342 1458.6 342 1455.6 343.7 1452.7 344.8 1451.4 346.4 1450.1 350.7 1447.6 357.1 1445.2 365.4 1442.9 376.9 1440.5 404.3 1435.4 409.6 1434.1 411.1 1433.5 411.9 1432.9 410 1432.4 406.2 1431.8 390.1 1430.1 341 1428 340.2 1428 291.1 1430.1 275 1431.8 271.2 1432.4 269.3 1432.9 270.1 1433.5 271.6 1434.1 276.9 1435.4 304.3 1440.5 315.8 1442.9 324.1 1445.2 330.5 1447.6 334.8 1450.1 336.4 1451.4 337.5 1452.7 339.2 1455.6 339.2 1458.6 337.2 1459.3 330.8 1460.8 330 1461.2 330 1461.6 331.3 1462.2 337.1 1463.5 339.2 1464.2 340.1 1464.8 340.2 1466.3Z" fill="#8B0000"/>
<path d="M182.8 1505.4 182.9 1504.7 184.1 1504.2 187.6 1503.7 193.6 1503.2 207.9 1502.5 246.9 1501.1 252.3 1500.8 253.6 1500.6 253.7 1500.4 250.9 1500.1 244.3 1499.8 197.5 1498.1 188.1 1497.4 184.1 1496.7 183.9 1496.5 183.9 1492.9 186.3 1487.7 186.7 1486.1 186.8 1484.8 186.2 1482.2 184.1 1477.6 183.3 1475.4 183 1474 182.8 1470.8 182.2 1470.8 182 1474 181.7 1475.4 180.9 1477.6 178.8 1482.2 178.2 1484.8 178.3 1486.1 178.7 1487.7 181.1 1492.9 181.1 1496.5 180.9 1496.7 176.9 1497.4 167.5 1498.1 120.7 1499.8 114.1 1500.1 111.3 1500.4 111.4 1500.6 112.7 1500.8 118.1 1501.1 157.1 1502.5 171.4 1503.2 177.4 1503.7 180.9 1504.2 182.1 1504.7 182.2 1505.4Z" fill="#BEBEBE"/>
<path d="M341 1505.4 341 1504.7 342 1504.1 348.1 1503.2 358.9 1502.5 386.2 1501.3 391.6 1500.9 394 1500.6 393.9 1500.4 392.9 1500.2 388.5 1499.9 352 1498.1 346 1497.5 344.2 1497.2 346.6 1495.2 349.9 1493.4 354.1 1491.8 359.6 1490.2 365.6 1488.8 373.7 1487.2 405.1 1481.8 410.3 1480.6 411.6 1480 411.9 1479.7 411 1479.2 409.3 1478.6 403.6 1477.4 368.5 1471.3 341 1469.2 340.2 1469.2 312.7 1471.3 277.6 1477.4 271.9 1478.6 270.2 1479.2 269.3 1479.7 269.6 1480 270.9 1480.6 276.1 1481.8 307.5 1487.2 315.6 1488.8 321.6 1490.2 327.1 1491.8 331.3 1493.4 334.6 1495.2 337 1497.2 335.2 1497.5 329.2 1498.1 292.7 1499.9 288.3 1500.2 287.3 1500.4 287.2 1500.6 289.6 1500.9 295 1501.3 322.3 1502.5 333.1 1503.2 339.2 1504.1 340.2 1504.7 340.2 1505.4Z" fill="#8B0000"/>
<path d="M182.8 1549.8 183 1547.9 184.3 1547.6 188.4 1547.2 205.6 1546.7 244.5 1546 253.7 1545.7 247 1545.4 194.1 1544.4 186.6 1544 183 1543.5 183 1517.7 182.8 1515.6 182.2 1515.6 182 1517.7 182 1543.5 178.4 1544 170.9 1544.4 118 1545.4 111.3 1545.7 120.5 1546 159.4 1546.7 176.6 1547.2 180.7 1547.6 182 1547.9 182.2 1549.8Z" fill="#BEBEBE"/>
<path d="M341 1550.2 341 1549.8 341.3 1549.6 342.7 1549.2 351.4 1548.4 363.3 1547.8 403.2 1546.4 410.1 1546 411.7 1545.8 411.8 1545.6 403.7 1545 355.1 1543.2 346.7 1542.6 344.2 1542.2 344.2 1541.8 345.5 1540.6 349.2 1538.4 353.5 1536.7 358.7 1535.1 364.3 1533.7 372 1532.1 402.5 1526.7 407.6 1525.5 409.2 1524.9 409.8 1524.6 409.3 1524.2 408.4 1523.8 403.8 1522.6 369.3 1516.4 359.7 1514.2 351.9 1511.8 341 1509.9 340.2 1509.9 329.3 1511.8 321.5 1514.2 311.9 1516.4 277.4 1522.6 272.8 1523.8 271.9 1524.2 271.4 1524.6 272 1524.9 273.6 1525.5 278.7 1526.7 309.2 1532.1 316.9 1533.7 322.5 1535.1 327.7 1536.7 332 1538.4 335.7 1540.6 337 1541.8 337 1542.2 334.5 1542.6 326.1 1543.2 277.5 1545 269.4 1545.6 269.5 1545.8 271.1 1546 278 1546.4 317.9 1547.8 329.8 1548.4 338.5 1549.2 339.9 1549.6 340.2 1549.8 340.2 1550.2Z" fill="#8B0000"/>
<path d="M182.8 1590.9 186.7 1590.5 197.7 1590.2 253.4 1589.2 195.8 1588 187.3 1587.6 183.1 1587.1 183 1586.9 183 1558.3 182.8 1556.3 182.2 1556.3 182 1558.3 182 1586.9 181.9 1587.1 177.7 1587.6 169.2 1588 111.6 1589.2 167.3 1590.2 178.3 1590.5 182.2 1590.9Z" fill="#BEBEBE"/>
<path d="M341 1590.9 403.5 1589.5 410.6 1589.3 411.4 1589.1 402.1 1588.5 357.6 1586.9 350.7 1586.5 344.5 1585.9 344.2 1585.7 344.2 1579.2 346.1 1578 349.2 1576.8 355.1 1575.2 363.4 1573.6 392.9 1569.2 400.9 1567.8 406.1 1566.4 407.2 1565.9 407.6 1565.5 407.6 1565.1 407.3 1564.5 406.6 1563.9 404.1 1562.7 400.2 1561.5 394.4 1560.1 369.2 1555.1 357.8 1552.6 341 1550.6 340.2 1550.6 323.4 1552.6 312 1555.1 286.8 1560.1 281 1561.5 277.1 1562.7 274.6 1563.9 273.9 1564.5 273.6 1565.1 273.6 1565.5 274 1565.9 275.1 1566.4 280.3 1567.8 288.3 1569.2 317.8 1573.6 326.1 1575.2 332 1576.8 335.1 1578 337 1579.2 337 1585.7 336.7 1585.9 330.5 1586.5 323.6 1586.9 279.1 1588.5 269.8 1589.1 270.6 1589.3 277.7 1589.5 340.2 1590.9Z" fill="#8B0000"/>
<path d="M182.8 1626.7 183.1 1624.8 187 1624.2 202.4 1623.7 242.5 1623 253.5 1622.7 252.8 1622.5 247.8 1622.3 193.5 1621.3 186.2 1620.9 183 1620.4 183 1593.4 182.8 1591.3 182.2 1591.3 182 1593.4 182 1620.4 178.8 1620.9 171.5 1621.3 117.2 1622.3 112.2 1622.5 111.5 1622.7 122.5 1623 162.6 1623.7 178 1624.2 181.9 1624.8 182.2 1626.7Z" fill="#BEBEBE"/>
<path d="M341 1627.5 341 1626.8 342.3 1626.3 349.7 1625.4 362.9 1624.7 402.1 1623.3 408.3 1623 410.5 1622.6 408.3 1622.3 402.1 1621.9 355.3 1620.2 347.6 1619.6 344.2 1619.1 344.2 1618.8 345.8 1617.4 349.1 1615.5 353.3 1613.7 359 1612 364.7 1610.6 372.4 1609 403.5 1603.6 408.6 1602.4 410.5 1601.5 409.8 1601 408.4 1600.5 403.2 1599.2 374 1594.2 341 1592.1 340.2 1592.1 307.2 1594.2 278 1599.2 272.8 1600.5 271.4 1601 270.7 1601.5 272.6 1602.4 277.7 1603.6 308.8 1609 316.5 1610.6 322.2 1612 327.9 1613.7 332.1 1615.5 335.4 1617.4 337 1618.8 337 1619.1 333.6 1619.6 325.9 1620.2 279.1 1621.9 272.9 1622.3 270.7 1622.6 272.9 1623 279.1 1623.3 318.3 1624.7 331.5 1625.4 338.9 1626.3 340.2 1626.8 340.2 1627.5Z" fill="#8B0000"/>
<path d="M182.8 1672.3 182.9 1671.3 183.2 1671.1 188.3 1670.6 205.5 1670.1 244.8 1669.4 253.8 1669 246.4 1668.7 193.3 1667.7 186.2 1667.3 183 1666.8 183 1639.7 182.8 1637.7 182.2 1637.7 182 1639.7 182 1666.8 178.8 1667.3 171.7 1667.7 118.6 1668.7 111.2 1669 120.2 1669.4 159.5 1670.1 176.7 1670.6 181.8 1671.1 182.1 1671.3 182.2 1672.3Z" fill="#BEBEBE"/>
<path d="M341 1672.3 343.8 1671.9 349.6 1671.5 399.6 1669.9 408.2 1669.5 411.9 1669.1 411.5 1668.9 406.4 1668.5 361.8 1666.9 345.9 1665.9 347.9 1664.5 351.2 1662.8 355.8 1661.2 360.8 1659.8 372.9 1657.2 402.3 1652 407.2 1650.8 408.7 1650.2 409 1649.8 408.5 1649.4 407 1648.8 401.7 1647.4 373.8 1642 361.7 1639.2 354.6 1637 350.7 1635.4 347.3 1633.6 341 1631.6 340.2 1631.6 333.9 1633.6 330.5 1635.4 326.6 1637 319.5 1639.2 307.4 1642 279.5 1647.4 274.2 1648.8 272.7 1649.4 272.2 1649.8 272.5 1650.2 274 1650.8 278.9 1652 308.3 1657.2 320.4 1659.8 325.4 1661.2 330 1662.8 333.3 1664.5 335.3 1665.9 319.4 1666.9 274.8 1668.5 269.7 1668.9 269.3 1669.1 273 1669.5 281.6 1669.9 331.6 1671.5 337.4 1671.9 340.2 1672.3Z" fill="#8B0000"/>
<path d="M182.8 1713 182.9 1712 183.2 1711.8 190 1711.2 253.3 1709.8 252.8 1709.6 246.7 1709.4 194.4 1708.4 185.9 1708 183.2 1707.6 183 1707.4 183 1674.9 182.8 1672.7 182.2 1672.7 182 1674.9 182 1707.4 181.8 1707.6 179.1 1708 170.6 1708.4 118.3 1709.4 112.2 1709.6 111.7 1709.8 175 1711.2 181.8 1711.8 182.1 1712 182.2 1713Z" fill="#BEBEBE"/>
<path d="M341 1713 343.3 1712.4 347 1712 368.9 1710.6 373.3 1710.2 375.4 1709.8 375.5 1709.6 374.8 1709.4 371.6 1709 352.3 1707.7 346.3 1707.1 345.8 1706.9 349.1 1703.7 352 1701.8 355.5 1699.8 359.9 1697.8 364.5 1696.1 376.5 1692.3 404.1 1684.9 409.5 1682.9 411 1682.1 411.9 1681.3 411.5 1680.9 410.2 1680.6 405.2 1679.6 373.6 1675.2 341 1673.1 340.2 1673.1 307.6 1675.2 276 1679.6 271 1680.6 269.7 1680.9 269.3 1681.3 270.2 1682.1 271.7 1682.9 277.1 1684.9 304.7 1692.3 316.7 1696.1 321.3 1697.8 325.7 1699.8 329.2 1701.8 332.1 1703.7 335.4 1706.9 334.9 1707.1 328.9 1707.7 309.6 1709 306.4 1709.4 305.7 1709.6 305.8 1709.8 307.9 1710.2 312.3 1710.6 334.2 1712 337.9 1712.4 340.2 1713Z" fill="#8B0000"/>
<path d="M182.8 1753.7 188 1753.3 194.1 1753.1 252.4 1752.1 252 1751.9 244.9 1751.7 193.1 1750.7 185.5 1750.3 183.1 1749.9 183 1715.6 182.8 1713.4 182.2 1713.4 182 1715.6 181.9 1749.9 179.5 1750.3 171.9 1750.7 120.1 1751.7 113 1751.9 112.6 1752.1 170.9 1753.1 177 1753.3 182.2 1753.7Z" fill="#BEBEBE"/>
<path d="M341 1753.7 402.4 1752.3 411.6 1751.9 403.2 1751.3 355.4 1749.6 349.2 1749.2 344.2 1748.6 351.9 1747.1 353.1 1746.7 353.4 1746.3 352.2 1745.7 344.5 1744.2 342.5 1743.6 342.4 1743.4 342.4 1735.2 343.5 1734 343.8 1733.3 343.4 1732.5 341.7 1730.9 341.1 1730.1 341.1 1716.3 341 1714.2 340.2 1714.2 340.1 1716.3 340.1 1730.1 339.5 1730.9 337.8 1732.5 337.4 1733.3 337.7 1734 338.8 1735.2 338.8 1743.4 338.7 1743.6 336.7 1744.2 329 1745.7 327.8 1746.3 328.1 1746.7 329.3 1747.1 337 1748.6 332 1749.2 325.8 1749.6 278 1751.3 269.6 1751.9 278.8 1752.3 340.2 1753.7Z" fill="#8B0000"/>
<path d="M182.8 1794 182.9 1793 183 1792.2 183.2 1792 185.8 1791.6 189 1791.4 201.6 1791 245.8 1790.2 252.3 1790 253.6 1789.9 197 1788.7 187 1788.3 184.7 1788.1 183 1787.7 183 1756.3 182.8 1754.1 182.2 1754.1 182 1756.3 182 1787.7 180.3 1788.1 178 1788.3 168 1788.7 111.4 1789.9 112.7 1790 119.2 1790.2 163.4 1791 176 1791.4 179.2 1791.6 181.8 1792 182 1792.2 182.1 1793 182.2 1794Z" fill="#BEBEBE"/>
<path d="M341 1794.4 341.1 1793.9 342.7 1793.4 352.1 1792.6 366.2 1791.9 404.5 1790.6 410.1 1790.2 411.9 1789.9 409.7 1789.6 403.8 1789.2 357.5 1787.6 349.2 1787.1 343.5 1786.4 343.5 1782.1 343.7 1781.9 347.3 1780.4 357.7 1777.2 359.3 1776.4 359.8 1775.9 359.8 1775.6 359.2 1774.6 356.1 1772.6 346 1769.1 344.6 1768.4 343.1 1767.4 341.9 1766.3 341.1 1764.8 341 1760.6 340.2 1760.6 340.1 1764.8 339.3 1766.3 338.1 1767.4 336.6 1768.4 335.2 1769.1 325.1 1772.6 322 1774.6 321.4 1775.6 321.4 1775.9 321.9 1776.4 323.5 1777.2 333.9 1780.4 337.5 1781.9 337.7 1782.1 337.7 1786.4 332 1787.1 323.7 1787.6 277.4 1789.2 271.5 1789.6 269.3 1789.9 271.1 1790.2 276.7 1790.6 315 1791.9 329.1 1792.6 338.5 1793.4 340.1 1793.9 340.2 1794.4Z" fill="#8B0000"/>
<path d="M182.8 1833.1 183 1831.2 184.8 1830.8 187.1 1830.6 204.8 1830 247.4 1829.3 252.9 1829.1 253.4 1828.9 198.1 1827.8 187.7 1827.4 183.1 1826.8 183 1796.9 182.8 1794.8 182.2 1794.8 182 1796.9 181.9 1826.8 177.3 1827.4 166.9 1827.8 111.6 1828.9 112.1 1829.1 117.6 1829.3 160.2 1830 177.9 1830.6 180.2 1830.8 182 1831.2 182.2 1833.1Z" fill="#BEBEBE"/>
<path d="M341 1833.9 341.1 1833.1 342 1832.7 344 1832.4 349.7 1831.8 364.2 1831 402.5 1829.7 409.5 1829.3 411.9 1829 409.1 1828.6 401.7 1828.2 355.2 1826.5 347.1 1826 343.3 1825.4 345.7 1823.9 346.2 1823.3 346.3 1822.7 345.6 1821.8 343.2 1820.3 343.1 1820.1 343.1 1817.8 343.8 1812.2 343.7 1807.7 343.2 1804.1 342 1797.7 341 1796 341 1795.6 340.2 1795.6 340.2 1796 339.2 1797.7 338 1804.1 337.5 1807.7 337.4 1812.2 338.1 1817.8 338.1 1820.1 338 1820.3 335.6 1821.8 334.9 1822.7 335 1823.3 335.5 1823.9 337.9 1825.4 334.1 1826 326 1826.5 279.5 1828.2 272.1 1828.6 269.3 1829 271.7 1829.3 278.7 1829.7 317 1831 331.5 1831.8 337.2 1832.4 339.2 1832.7 340.1 1833.1 340.2 1833.9Z" fill="#8B0000"/>
<path d="M182.8 1872.5 183 1870.7 183.3 1870.5 189 1870 253.6 1868.5 252.6 1868.3 247 1868.2 191.6 1867.1 185.2 1866.7 183.1 1866.3 183 1837.7 182.8 1835.5 182.2 1835.5 182 1837.7 181.9 1866.3 179.8 1866.7 173.4 1867.1 118 1868.2 112.4 1868.3 111.4 1868.5 176 1870 181.7 1870.5 182 1870.7 182.2 1872.5Z" fill="#BEBEBE"/>
<path d="M341 1873.4 341.1 1870.6 341.9 1870.4 341.9 1870.3 342.9 1870.1 345.4 1869.9 356.7 1869.5 402.6 1868.8 411.7 1868.4 353.2 1867.3 342.2 1866.8 341.9 1866.6 341.9 1855.3 342.8 1854.2 343.1 1853.3 342.8 1852.6 341.1 1850.4 341.1 1838.5 341 1836.3 340.2 1836.3 340.1 1838.5 340.1 1850.4 338.4 1852.6 338.1 1853.3 338.4 1854.2 339.3 1855.3 339.3 1866.6 339 1866.8 328 1867.3 269.5 1868.4 278.6 1868.8 324.5 1869.5 335.8 1869.9 338.3 1870.1 339.3 1870.3 339.3 1870.4 340.1 1870.6 340.2 1873.4Z" fill="#8B0000"/>
<path d="M182.8 1911.2 183 1909.3 186.6 1908.8 200.9 1908.3 248.3 1907.4 253 1907.2 253.5 1907.1 195.5 1905.9 187.1 1905.5 183.1 1905 183 1878.3 182.8 1876.2 182.2 1876.2 182 1878.3 181.9 1905 177.9 1905.5 169.5 1905.9 111.5 1907.1 112 1907.2 116.7 1907.4 164.1 1908.3 178.4 1908.8 182 1909.3 182.2 1911.2Z" fill="#BEBEBE"/>
<path d="M341 1912 341 1911.4 342.7 1910.7 350.2 1909.9 366.7 1909.1 404.2 1907.8 409.8 1907.5 411.9 1907.1 410.1 1906.8 404.7 1906.5 363.2 1905 346.7 1904.1 346.3 1903.9 346.3 1899.8 348.6 1896.9 349.8 1895 350.5 1893.2 350.5 1891.4 350 1890.1 349.1 1888.8 343.4 1882.9 341 1879.7 341 1879.1 340.2 1879.1 340.2 1879.7 337.8 1882.9 332.1 1888.8 331.2 1890.1 330.7 1891.4 330.7 1893.2 331.4 1895 332.6 1896.9 334.9 1899.8 334.9 1903.9 334.5 1904.1 318 1905 276.5 1906.5 271.1 1906.8 269.3 1907.1 271.4 1907.5 277 1907.8 314.5 1909.1 331 1909.9 338.5 1910.7 340.2 1911.4 340.2 1912Z" fill="#8B0000"/>
</g>
<path d="M88 1021H435M88 1061.7H435M88 1102.4H435M88 1143.1H435M88 1183.8H435M88 1224.5H435M88 1265.2H435M88 1305.9H435M88 1346.6H435M88 1387.3H435M88 1428H435M88 1468.8H435M88 1509.5H435M88 1550.2H435M88 1590.9H435M88 1631.6H435M88 1672.3H435M88 1713H435M88 1753.7H435M88 1794.4H435M88 1835.1H435M88 1875.8H435M88 1916.5H435" stroke="#1a1a1a" stroke-width="1.4" fill="none"/>
<path d="M435 1021V1916.5" stroke="#808080" stroke-width="1.2"/>
<path d="M88 1021V1917.2M83.5 1055.6H88M83.5 1047.5H88M83.5 1039.4H88M83.5 1031.3H88M83.5 1023.2H88M83.5 1100H88M83.5 1092.4H88M83.5 1084.8H88M83.5 1077.3H88M83.5 1069.7H88M83.5 1135.4H88M83.5 1127H88M83.5 1118.5H88M83.5 1110.1H88M83.5 1176.9H88M83.5 1170.3H88M83.5 1163.6H88M83.5 1157H88M83.5 1150.3H88M83.5 1143.7H88M83.5 1215.2H88M83.5 1207.4H88M83.5 1199.6H88M83.5 1191.8H88M83.5 1255.9H88M83.5 1249.1H88M83.5 1242.3H88M83.5 1235.6H88M83.5 1228.8H88M83.5 1305.1H88M83.5 1297.8H88M83.5 1290.5H88M83.5 1283.2H88M83.5 1275.9H88M83.5 1268.6H88M83.5 1335.2H88M83.5 1328.9H88M83.5 1322.5H88M83.5 1316.2H88M83.5 1309.8H88M83.5 1379.2H88M83.5 1371.9H88M83.5 1364.7H88M83.5 1357.4H88M83.5 1350.2H88M83.5 1423.6H88M83.5 1414.2H88M83.5 1404.7H88M83.5 1395.3H88M83.5 1461.4H88M83.5 1456.6H88M83.5 1451.7H88M83.5 1446.9H88M83.5 1442H88M83.5 1437.2H88M83.5 1432.4H88M83.5 1500.5H88M83.5 1493.9H88M83.5 1487.4H88M83.5 1480.8H88M83.5 1474.2H88M83.5 1545.7H88M83.5 1538.9H88M83.5 1532.1H88M83.5 1525.3H88M83.5 1518.5H88M83.5 1511.6H88M83.5 1589.2H88M83.5 1581.7H88M83.5 1574.2H88M83.5 1566.7H88M83.5 1559.2H88M83.5 1551.6H88M83.5 1622.6H88M83.5 1615H88M83.5 1607.4H88M83.5 1599.9H88M83.5 1592.3H88M83.5 1669H88M83.5 1661.9H88M83.5 1654.8H88M83.5 1647.7H88M83.5 1640.6H88M83.5 1633.5H88M83.5 1709.7H88M83.5 1702.6H88M83.5 1695.5H88M83.5 1688.4H88M83.5 1681.3H88M83.5 1674.2H88M83.5 1752.1H88M83.5 1742H88M83.5 1732H88M83.5 1722H88M83.5 1789.9H88M83.5 1783.1H88M83.5 1776.3H88M83.5 1769.5H88M83.5 1762.7H88M83.5 1755.9H88M83.5 1829H88M83.5 1820.5H88M83.5 1811.9H88M83.5 1803.4H88M83.5 1868.5H88M83.5 1856.3H88M83.5 1844.1H88M83.5 1907.1H88M83.5 1899.7H88M83.5 1892.2H88M83.5 1884.8H88M83.5 1877.3H88M182.5 1916.5V1921M340.6 1916.5V1921M88 1916.5H435" stroke="#1a1a1a" stroke-width="1.4" fill="none"/>
<g fill="#222"><text x="77.5" y="1034.5" font-size="9" text-anchor="middle" font-family="'Liberation Sans', Arial, sans-serif">3</text><text x="77.5" y="1072.9" font-size="9" text-anchor="middle" font-family="'Liberation Sans', Arial, sans-serif">4</text><text x="77.5" y="1113.3" font-size="9" text-anchor="middle" font-family="'Liberation Sans', Arial, sans-serif">3</text><text x="77.5" y="1153.5" font-size="9" text-anchor="middle" font-family="'Liberation Sans', Arial, sans-serif">4</text><text x="77.5" y="1195" font-size="9" text-anchor="middle" font-family="'Liberation Sans', Arial, sans-serif">3</text><text x="77.5" y="1245.5" font-size="9" text-anchor="middle" font-family="'Liberation Sans', Arial, sans-serif">2</text><text x="77.5" y="1279.1" font-size="9" text-anchor="middle" font-family="'Liberation Sans', Arial, sans-serif">4</text><text x="77.5" y="1325.7" font-size="9" text-anchor="middle" font-family="'Liberation Sans', Arial, sans-serif">2</text><text x="77.5" y="1360.6" font-size="9" text-anchor="middle" font-family="'Liberation Sans', Arial, sans-serif">3</text><text x="77.5" y="1398.5" font-size="9" text-anchor="middle" font-family="'Liberation Sans', Arial, sans-serif">3</text><text x="77.5" y="1445.2" font-size="9" text-anchor="middle" font-family="'Liberation Sans', Arial, sans-serif">4</text><text x="77.5" y="1477.5" font-size="9" text-anchor="middle" font-family="'Liberation Sans', Arial, sans-serif">4</text><text x="77.5" y="1521.7" font-size="9" text-anchor="middle" font-family="'Liberation Sans', Arial, sans-serif">4</text><text x="77.5" y="1562.4" font-size="9" text-anchor="middle" font-family="'Liberation Sans', Arial, sans-serif">4</text><text x="77.5" y="1603.1" font-size="9" text-anchor="middle" font-family="'Liberation Sans', Arial, sans-serif">3</text><text x="77.5" y="1643.8" font-size="9" text-anchor="middle" font-family="'Liberation Sans', Arial, sans-serif">4</text><text x="77.5" y="1684.5" font-size="9" text-anchor="middle" font-family="'Liberation Sans', Arial, sans-serif">4</text><text x="77.5" y="1725.2" font-size="9" text-anchor="middle" font-family="'Liberation Sans', Arial, sans-serif">3</text><text x="77.5" y="1765.9" font-size="9" text-anchor="middle" font-family="'Liberation Sans', Arial, sans-serif">4</text><text x="77.5" y="1806.6" font-size="9" text-anchor="middle" font-family="'Liberation Sans', Arial, sans-serif">3</text><text x="77.5" y="1847.3" font-size="9" text-anchor="middle" font-family="'Liberation Sans', Arial, sans-serif">2</text><text x="77.5" y="1888" font-size="9" text-anchor="middle" font-family="'Liberation Sans', Arial, sans-serif">3</text></g>
<text x="485.6" y="1047.4" font-size="16.7" font-weight="bold" text-anchor="middle" font-family="'Liberation Sans', Arial, sans-serif">ARHGAP28</text>
<text x="485.6" y="1088.1" font-size="16.7" font-weight="bold" text-anchor="middle" font-family="'Liberation Sans', Arial, sans-serif">CDKN1C</text>
<text x="485.6" y="1128.8" font-size="16.7" font-weight="bold" text-anchor="middle" font-family="'Liberation Sans', Arial, sans-serif">CERS6</text>
<text x="485.6" y="1169.5" font-size="16.7" font-weight="bold" text-anchor="middle" font-family="'Liberation Sans', Arial, sans-serif">DACH1</text>
<text x="485.6" y="1210.2" font-size="16.7" font-weight="bold" text-anchor="middle" font-family="'Liberation Sans', Arial, sans-serif">DYNC1I1</text>
<text x="485.6" y="1250.9" font-size="16.7" font-weight="bold" text-anchor="middle" font-family="'Liberation Sans', Arial, sans-serif">FBXL7</text>
<text x="485.6" y="1291.6" font-size="16.7" font-weight="bold" text-anchor="middle" font-family="'Liberation Sans', Arial, sans-serif">FGF1</text>
<text x="485.6" y="1332.3" font-size="16.7" font-weight="bold" text-anchor="middle" font-family="'Liberation Sans', Arial, sans-serif">FRY</text>
<text x="485.6" y="1373" font-size="16.7" font-weight="bold" text-anchor="middle" font-family="'Liberation Sans', Arial, sans-serif">IQGAP2</text>
<text x="485.6" y="1413.7" font-size="16.7" font-weight="bold" text-anchor="middle" font-family="'Liberation Sans', Arial, sans-serif">MAFB</text>
<text x="485.6" y="1454.4" font-size="16.7" font-weight="bold" text-anchor="middle" font-family="'Liberation Sans', Arial, sans-serif">MAGI2</text>
<text x="485.6" y="1495.1" font-size="16.7" font-weight="bold" text-anchor="middle" font-family="'Liberation Sans', Arial, sans-serif">NEBL</text>
<text x="485.6" y="1535.8" font-size="16.7" font-weight="bold" text-anchor="middle" font-family="'Liberation Sans', Arial, sans-serif">NPHS1</text>
<text x="485.6" y="1576.5" font-size="16.7" font-weight="bold" text-anchor="middle" font-family="'Liberation Sans', Arial, sans-serif">NPHS2</text>
<text x="485.6" y="1617.2" font-size="16.7" font-weight="bold" text-anchor="middle" font-family="'Liberation Sans', Arial, sans-serif">PLCE1</text>
<text x="485.6" y="1657.9" font-size="16.7" font-weight="bold" text-anchor="middle" font-family="'Liberation Sans', Arial, sans-serif">PODXL</text>
<text x="485.6" y="1698.6" font-size="16.7" font-weight="bold" text-anchor="middle" font-family="'Liberation Sans', Arial, sans-serif">PTPRO</text>
<text x="485.6" y="1739.3" font-size="16.7" font-weight="bold" text-anchor="middle" font-family="'Liberation Sans', Arial, sans-serif">SEMA3G</text>
<text x="485.6" y="1780" font-size="16.7" font-weight="bold" text-anchor="middle" font-family="'Liberation Sans', Arial, sans-serif">SULF1</text>
<text x="485.6" y="1820.7" font-size="16.7" font-weight="bold" text-anchor="middle" font-family="'Liberation Sans', Arial, sans-serif">SYNPO</text>
<text x="485.6" y="1861.4" font-size="16.7" font-weight="bold" text-anchor="middle" font-family="'Liberation Sans', Arial, sans-serif">TSPAN2</text>
<text x="485.6" y="1902.1" font-size="16.7" font-weight="bold" text-anchor="middle" font-family="'Liberation Sans', Arial, sans-serif">WT1</text>
<text x="64.5" y="1468.6" font-size="19.5" text-anchor="middle" font-family="'Liberation Sans', Arial, sans-serif" transform="rotate(-90 64.5 1468.6)">Expression Level</text>
<text x="189.5" y="1935.5" font-size="16.5" text-anchor="end" font-family="'Liberation Sans', Arial, sans-serif" transform="rotate(-45 189.5 1935.5)">non−podo</text>
<text x="347.6" y="1935.5" font-size="16.5" text-anchor="end" font-family="'Liberation Sans', Arial, sans-serif" transform="rotate(-45 347.6 1935.5)">podocyte</text>
<g stroke="#1a1a1a" stroke-width="1.1" stroke-linejoin="round">
<path d="M804.6 1057.1 804.6 1057 806.7 1056.7 813.3 1056.3 872.4 1055.4 878.1 1055.1 868.9 1054.7 816.3 1053.8 808.7 1053.4 804.9 1053 804.7 1052.8 804.7 1026.5 804.6 1024.5 803.9 1024.5 803.7 1026.5 803.7 1052.8 803.5 1053 799.7 1053.4 792.1 1053.8 739.5 1054.7 730.3 1055.1 736 1055.4 795.1 1056.3 801.7 1056.7 803.8 1057 803.9 1057.1Z" fill="#BEBEBE"/>
<path d="M968.8 1057.1 970.2 1056.5 975.2 1055.5 975.8 1055.1 975.1 1054.5 971 1053.3 970.2 1052.9 970.2 1048.1 971.3 1047.7 974 1047.1 986.5 1045.3 988.4 1044.9 989.1 1044.5 988.6 1044.1 987 1043.7 974.5 1041.9 974.5 1041.7 976.2 1040.7 980 1039.1 984 1037.9 988.3 1036.9 993.9 1035.9 1001.1 1034.9 1017 1033.3 1040.6 1031.7 1041.1 1031.5 1027.6 1030.3 1015 1028.9 1005 1027.5 996.3 1025.9 990.3 1024.5 985.1 1022.9 980.2 1020.9 975.9 1018.3 968.8 1016.3 968 1016.3 960.9 1018.3 956.6 1020.9 951.7 1022.9 946.5 1024.5 940.5 1025.9 931.8 1027.5 921.8 1028.9 909.2 1030.3 895.7 1031.5 896.2 1031.7 919.8 1033.3 935.7 1034.9 942.9 1035.9 948.5 1036.9 952.8 1037.9 956.8 1039.1 960.6 1040.7 962.3 1041.7 962.3 1041.9 949.8 1043.7 948.2 1044.1 947.7 1044.5 948.4 1044.9 950.3 1045.3 962.8 1047.1 965.5 1047.7 966.5 1048.1 966.5 1052.9 965.8 1053.3 961.7 1054.5 961 1055.1 961.6 1055.5 966.6 1056.5 968 1057.1Z" fill="#D65454"/>
<path d="M804.6 1098 804.7 1096.1 806.2 1095.8 810.7 1095.4 829.3 1094.9 869.8 1094.2 878.2 1093.9 869.8 1093.5 815 1092.5 807.9 1092.2 804.7 1091.7 804.7 1065.3 804.6 1063.3 803.9 1063.3 803.7 1065.3 803.7 1091.7 800.5 1092.2 793.4 1092.5 738.6 1093.5 730.2 1093.9 738.6 1094.2 779.1 1094.9 797.7 1095.4 802.2 1095.8 803.7 1096.1 803.9 1098Z" fill="#BEBEBE"/>
<path d="M968.8 1098 968.8 1097.6 969 1097.4 970.6 1097 977.8 1096.4 991.1 1095.8 1031.8 1094.6 1042.2 1094 1042 1093.8 1036 1093.4 984.9 1091.8 974.7 1091.2 972.1 1090.8 972.1 1088.2 972.3 1088 975.2 1086 979 1084.4 983.2 1083.2 989 1082 1003.6 1079.9 994.6 1078.3 987.1 1076.5 981.3 1074.5 976.7 1072.1 975 1070.9 973.5 1069.5 972.2 1067.9 971.2 1066.3 969.8 1062.7 969.1 1059.1 968.8 1058.1 968.8 1057.1 968 1057.1 968 1058.1 967.7 1059.1 967 1062.7 965.6 1066.3 964.6 1067.9 963.3 1069.5 961.8 1070.9 960.1 1072.1 955.5 1074.5 949.7 1076.5 942.2 1078.3 933.2 1079.9 947.8 1082 953.6 1083.2 957.8 1084.4 961.6 1086 964.5 1088 964.7 1088.2 964.7 1090.8 962.1 1091.2 951.9 1091.8 900.8 1093.4 894.8 1093.8 894.6 1094 905 1094.6 945.7 1095.8 959 1096.4 966.2 1097 967.8 1097.4 968 1097.6 968 1098Z" fill="#D65454"/>
<path d="M804.6 1138.8 804.6 1138.4 804.8 1138.2 806.4 1137.8 813.6 1137.2 826.9 1136.6 867.6 1135.4 878 1134.8 877.8 1134.6 871.8 1134.2 816.5 1132.4 808.5 1131.8 806.1 1131.4 804.9 1131 805.1 1126.8 806.3 1121.4 807.8 1117.6 810.1 1114.4 807.3 1111.4 806.4 1109.8 805.7 1108.2 805.1 1106 804.7 1103.4 804.6 1098 803.9 1098 803.7 1103.4 803.3 1106 802.7 1108.2 802 1109.8 801.1 1111.4 798.3 1114.4 800.6 1117.6 802.1 1121.4 803.3 1126.8 803.5 1131 802.3 1131.4 799.9 1131.8 791.9 1132.4 736.6 1134.2 730.6 1134.6 730.4 1134.8 740.8 1135.4 781.5 1136.6 794.8 1137.2 802 1137.8 803.6 1138.2 803.9 1138.4 803.9 1138.8Z" fill="#BEBEBE"/>
<path d="M968.8 1136.8 1003.2 1135 1003.9 1134.7 1001.4 1134.1 977.6 1132 992.6 1127.6 995.2 1126.7 997.1 1125.7 997.7 1125.2 998 1124.6 997.5 1123.6 996 1122.7 993.1 1121.5 1000.5 1120 1011 1118.5 1022.9 1117.2 1040.7 1115.6 1041.4 1115.5 1022.6 1114.1 1008.7 1112.8 997.1 1111.3 987.2 1109.4 980.7 1107.5 978 1106.3 975.8 1105.2 972.9 1102.9 971.7 1101.6 970.8 1100.1 968.9 1098.3 968.8 1098 968 1098 967.9 1098.3 966 1100.1 965.1 1101.6 963.9 1102.9 961 1105.2 958.8 1106.3 956.1 1107.5 949.6 1109.4 939.7 1111.3 928.1 1112.8 914.2 1114.1 895.4 1115.5 896.1 1115.6 913.9 1117.2 925.8 1118.5 936.3 1120 943.7 1121.5 940.8 1122.7 939.3 1123.6 938.8 1124.6 939.1 1125.2 939.7 1125.7 941.6 1126.7 944.2 1127.6 959.2 1132 935.4 1134.1 932.9 1134.7 933.6 1135 968 1136.8Z" fill="#D65454"/>
<path d="M804.6 1179.6 804.6 1179.2 804.8 1179 806.2 1178.7 812.7 1178.1 830.8 1177.3 870.1 1176.1 877.2 1175.7 878.2 1175.6 877.3 1175.4 870.4 1175 820.5 1173.4 813.1 1173 807.2 1172.4 807.2 1168.4 808.8 1167.6 815.5 1165.3 816.6 1164.5 816.8 1163.7 816.3 1161.8 815.2 1159.8 808.9 1152.6 806.4 1149 805.5 1146.8 804.9 1144.7 804.7 1143.5 804.6 1140 803.9 1140 803.7 1143.5 803.5 1144.7 802.9 1146.8 802 1149 799.5 1152.6 793.2 1159.8 792.1 1161.8 791.6 1163.7 791.8 1164.5 792.9 1165.3 799.6 1167.6 801.2 1168.4 801.2 1172.4 795.3 1173 787.9 1173.4 738 1175 731.1 1175.4 730.2 1175.6 731.2 1175.7 738.3 1176.1 777.6 1177.3 795.7 1178.1 802.2 1178.7 803.6 1179 803.9 1179.2 803.9 1179.6Z" fill="#BEBEBE"/>
<path d="M968.8 1177.6 970.6 1175.9 970.6 1167.9 972.2 1165 974 1162.9 976.1 1161.2 978.9 1159.5 982.3 1158 986.9 1156.5 992.1 1155.1 1004.5 1152.9 1021.7 1150.8 1041.6 1149.1 1012.7 1147.2 1002.4 1146.2 994.5 1145.3 988.4 1144.3 983 1143.2 979 1142 976.1 1140.9 968.8 1138.8 968 1138.8 960.7 1140.9 957.8 1142 953.8 1143.2 948.4 1144.3 942.3 1145.3 934.4 1146.2 924.1 1147.2 895.2 1149.1 915.1 1150.8 932.3 1152.9 944.7 1155.1 949.9 1156.5 954.5 1158 957.9 1159.5 960.7 1161.2 962.8 1162.9 964.6 1165 966.2 1167.9 966.2 1175.9 968 1177.6Z" fill="#D65454"/>
<path d="M804.6 1220.5 804.7 1218.6 806.2 1218.2 810.7 1217.9 829.3 1217.4 869.8 1216.7 878.2 1216.4 869.8 1216 815 1215 807.9 1214.7 804.7 1214.2 804.7 1187.8 804.6 1185.8 803.9 1185.8 803.7 1187.8 803.7 1214.2 800.5 1214.7 793.4 1215 738.6 1216 730.2 1216.4 738.6 1216.7 779.1 1217.4 797.7 1217.9 802.2 1218.2 803.7 1218.6 803.9 1220.5Z" fill="#BEBEBE"/>
<path d="M968.8 1220.5 972.2 1219.9 977.2 1219.5 1032.4 1217.3 1039.3 1216.9 1042.3 1216.5 1042.2 1216.3 1041 1216.1 1035.5 1215.7 990.9 1213.9 980.3 1213.3 979.6 1213.1 987.4 1211.5 989.2 1210.9 989.8 1210.5 989.9 1210.3 989.6 1209.9 988.1 1209.3 981.7 1207.8 985.4 1206.6 992.6 1205 1001.5 1203.6 1011.7 1202.4 1024.4 1201.2 1010 1199.6 998.2 1197.8 988.9 1195.8 982.1 1193.6 977.1 1191.2 975.1 1189.8 973.6 1188.4 972.4 1187 971.4 1185.4 969.9 1181.6 968.8 1180 968.8 1179.6 968 1179.6 968 1180 966.9 1181.6 965.4 1185.4 964.4 1187 963.2 1188.4 961.7 1189.8 959.7 1191.2 954.7 1193.6 947.9 1195.8 938.6 1197.8 926.8 1199.6 912.4 1201.2 925.1 1202.4 935.3 1203.6 944.2 1205 951.4 1206.6 955.1 1207.8 948.7 1209.3 947.2 1209.9 946.9 1210.3 947 1210.5 947.6 1210.9 949.4 1211.5 957.2 1213.1 956.5 1213.3 945.9 1213.9 901.3 1215.7 895.8 1216.1 894.6 1216.3 894.5 1216.5 897.5 1216.9 904.4 1217.3 959.6 1219.5 964.6 1219.9 968 1220.5Z" fill="#D65454"/>
<path d="M804.6 1261.3 804.6 1260.3 804.9 1259.7 809.4 1259.1 825.8 1258.5 866.4 1257.7 877.8 1257.3 877.4 1257.1 872.7 1256.9 817.3 1255.7 808.8 1255.3 804.8 1254.7 804.8 1241.5 805.6 1235.7 805.8 1232.5 805.6 1229.5 804.7 1223.5 804.6 1220.5 803.9 1220.5 803.7 1223.5 802.8 1229.5 802.6 1232.5 802.8 1235.7 803.6 1241.5 803.6 1254.7 799.6 1255.3 791.1 1255.7 735.7 1256.9 731 1257.1 730.6 1257.3 742 1257.7 782.6 1258.5 799 1259.1 803.5 1259.7 803.8 1260.3 803.9 1261.3Z" fill="#BEBEBE"/>
<path d="M968.8 1261.3 968.9 1259.4 969.2 1258.8 971 1258.5 986.4 1258 1034.5 1257.4 1041.3 1257.3 1041.8 1257.1 979.6 1256.3 971.3 1256 969.2 1255.7 968.9 1255.1 968.9 1233.1 968.8 1231.1 968 1231.1 967.9 1233.1 967.9 1255.1 967.6 1255.7 965.5 1256 957.2 1256.3 895 1257.1 895.5 1257.3 902.3 1257.4 950.4 1258 965.8 1258.5 967.6 1258.8 967.9 1259.4 968 1261.3Z" fill="#D65454"/>
<path d="M804.6 1300.1 804.6 1299.1 805.1 1297.6 809.8 1297 825.6 1296.5 872.2 1295.5 877 1295.3 878.1 1295.1 868.9 1294.8 816 1293.6 808.5 1293.2 805.5 1292.9 805.1 1292.7 804.9 1292.3 805 1289.4 807.8 1286.2 808.2 1285.4 808.3 1284.9 807.8 1283.7 805.5 1281.3 804.7 1279.9 804.7 1263.4 804.6 1261.3 803.9 1261.3 803.7 1263.4 803.7 1279.9 802.9 1281.3 800.6 1283.7 800.1 1284.9 800.2 1285.4 800.6 1286.2 803.4 1289.4 803.5 1292.3 803.3 1292.7 802.9 1292.9 799.9 1293.2 792.4 1293.6 739.5 1294.8 730.3 1295.1 731.4 1295.3 736.2 1295.5 782.8 1296.5 798.6 1297 803.3 1297.6 803.8 1299.1 803.9 1300.1Z" fill="#BEBEBE"/>
<path d="M968.8 1300.1 969 1296.7 971.3 1296.4 987.4 1296 1035 1295.4 1041.5 1295.3 1041.7 1295.1 979.9 1294.2 971.5 1293.9 969 1293.7 968.9 1272.3 968.8 1270.3 968 1270.3 967.9 1272.3 967.8 1293.7 965.3 1293.9 956.9 1294.2 895.1 1295.1 895.3 1295.3 901.8 1295.4 949.4 1296 965.5 1296.4 967.8 1296.7 968 1300.1Z" fill="#D65454"/>
<path d="M804.6 1343 804.7 1341.6 805 1341.4 808.2 1341 812 1340.8 877.8 1339.4 877 1339.2 870.4 1339 816 1338 807.5 1337.6 804.9 1337.2 804.7 1336.9 804.7 1304.3 804.6 1302.1 803.9 1302.1 803.7 1304.3 803.7 1336.9 803.5 1337.2 800.9 1337.6 792.4 1338 738 1339 731.4 1339.2 730.6 1339.4 796.4 1340.8 800.2 1341 803.4 1341.4 803.7 1341.6 803.9 1343Z" fill="#BEBEBE"/>
<path d="M968.8 1343 971.3 1342.4 978.4 1341.9 1033.7 1340 1040 1339.6 1042.4 1339.3 1040.5 1338.9 1034.5 1338.6 989.9 1337 978 1336.3 978 1332.5 982.2 1331.1 987.7 1329.9 995.6 1328.7 1016.1 1326.6 1003.4 1325.2 993.1 1323.6 985.2 1321.9 979.3 1320 975.3 1317.9 973.6 1316.7 972.2 1315.3 970.8 1313.2 969.9 1310.9 971.1 1310 971.4 1309.5 968.9 1308 968.8 1307.4 968 1307.4 967.9 1308 965.4 1309.5 965.7 1310 966.9 1310.9 966 1313.2 964.6 1315.3 963.2 1316.7 961.5 1317.9 957.5 1320 951.6 1321.9 943.7 1323.6 933.4 1325.2 920.7 1326.6 941.2 1328.7 949.1 1329.9 954.6 1331.1 958.8 1332.5 958.8 1336.3 946.9 1337 902.3 1338.6 896.3 1338.9 894.4 1339.3 896.8 1339.6 903.1 1340 958.4 1341.9 965.5 1342.4 968 1343Z" fill="#D65454"/>
<path d="M804.6 1383.8 804.6 1382.9 805.3 1382.1 809.6 1381.6 822.7 1381.1 872 1380 878.2 1379.7 872 1379.4 817 1378.2 809.6 1377.8 805.3 1377.3 804.8 1376.3 804.8 1371.9 806.8 1369.3 807.2 1368.3 806.8 1367.3 805.2 1365.2 804.7 1364.4 804.7 1351.1 804.6 1349.1 803.9 1349.1 803.7 1351.1 803.7 1364.4 803.2 1365.2 801.6 1367.3 801.2 1368.3 801.6 1369.3 803.6 1371.9 803.6 1376.3 803.1 1377.3 798.8 1377.8 791.4 1378.2 736.4 1379.4 730.2 1379.7 736.4 1380 785.7 1381.1 798.8 1381.6 803.1 1382.1 803.8 1382.9 803.9 1383.8Z" fill="#BEBEBE"/>
<path d="M968.8 1383.8 970.2 1382.6 971.1 1382.4 986.3 1380.5 989 1379.9 989.1 1379.7 988.8 1379.5 987.1 1379.1 975.8 1377.7 973.9 1377.3 976.4 1375.2 979.6 1373.2 983.5 1371.4 988.1 1369.9 997.9 1367.5 1009.7 1365.5 1024.3 1363.8 1041.6 1362.2 1021.3 1360.6 1007.4 1359.3 995.9 1357.7 986.2 1355.7 982.7 1354.8 979.4 1353.6 976.9 1352.4 974.9 1351.2 973.4 1350 972.1 1348.7 970.3 1345.7 968.8 1344.2 968.8 1343.8 968 1343.8 968 1344.2 966.5 1345.7 964.7 1348.7 963.4 1350 961.9 1351.2 959.9 1352.4 957.4 1353.6 954.1 1354.8 950.6 1355.7 940.9 1357.7 929.4 1359.3 915.5 1360.6 895.2 1362.2 912.5 1363.8 927.1 1365.5 938.9 1367.5 948.7 1369.9 953.3 1371.4 957.2 1373.2 960.4 1375.2 962.9 1377.3 961 1377.7 949.7 1379.1 948 1379.5 947.7 1379.7 947.8 1379.9 950.5 1380.5 965.7 1382.4 966.6 1382.6 968 1383.8Z" fill="#D65454"/>
<path d="M804.6 1424.6 820.3 1424.2 863.8 1423.4 868.6 1423.1 816.1 1422.1 808.9 1421.8 805 1421.3 804.7 1421.2 804.7 1396.1 804.6 1394 803.9 1394 803.7 1396.1 803.7 1421.2 803.4 1421.3 799.5 1421.8 792.3 1422.1 739.8 1423.1 744.6 1423.4 788.1 1424.2 803.9 1424.6Z" fill="#BEBEBE"/>
<path d="M968.8 1423 978.3 1422.2 998.8 1421.3 1003 1420.7 1003.2 1420.5 1002.7 1420.3 999.8 1419.9 981.1 1418.6 973.4 1417.8 973.4 1417.6 973.8 1417.4 976.7 1416.5 982.4 1415.3 989.8 1414.3 1001.2 1413.4 1040.8 1411.5 1017.7 1409.7 1008.2 1408.8 999.2 1407.6 1011.3 1406.1 1032.8 1404.2 1016.2 1402.8 1002.3 1401.3 991.5 1399.5 987 1398.6 982.8 1397.4 979.6 1396.3 977 1395.1 974.8 1393.8 972.9 1392.2 971.6 1390.7 970.6 1389 969.5 1385.9 968.8 1384.6 968.8 1383.8 968 1383.8 968 1384.6 967.3 1385.9 966.2 1389 965.2 1390.7 963.9 1392.2 962 1393.8 959.8 1395.1 957.2 1396.3 954 1397.4 949.8 1398.6 945.3 1399.5 934.5 1401.3 920.6 1402.8 904 1404.2 925.5 1406.1 937.6 1407.6 928.6 1408.8 919.1 1409.7 896 1411.5 935.6 1413.4 947 1414.3 954.4 1415.3 960.1 1416.5 963 1417.4 963.4 1417.6 963.4 1417.8 955.7 1418.6 937 1419.9 934.1 1420.3 933.6 1420.5 933.8 1420.7 938 1421.3 958.5 1422.2 968 1423Z" fill="#D65454"/>
<path d="M804.6 1465.4 814.5 1465.1 867.4 1464.1 866.8 1463.9 820.9 1463.2 811.8 1462.8 813.3 1462 813.8 1461.5 813.7 1461.1 813.3 1460.7 811.6 1459.7 811.7 1453.3 825.1 1449.1 827.3 1448 827.8 1447.4 827.9 1447 827.4 1446.4 825.8 1445.7 810.9 1441.9 807.8 1440.7 805.9 1439.6 804.7 1438.1 804.7 1428.8 804.6 1426.7 803.9 1426.7 803.7 1428.8 803.7 1438.1 802.5 1439.6 800.6 1440.7 797.5 1441.9 782.6 1445.7 781 1446.4 780.5 1447 780.6 1447.4 781.1 1448 783.3 1449.1 796.7 1453.3 796.8 1459.7 795.1 1460.7 794.7 1461.1 794.6 1461.5 795.1 1462 796.6 1462.8 787.5 1463.2 741.6 1463.9 741 1464.1 793.9 1465.1 803.9 1465.4Z" fill="#BEBEBE"/>
<path d="M968.8 1446.3 969.1 1441.5 969.7 1439.6 970.7 1438.1 972.1 1436.8 974 1435.7 976.2 1434.8 979.4 1433.8 988.2 1432.2 1000.6 1430.9 1018.6 1429.7 1041.2 1428.7 991.1 1427.1 968.8 1425.8 968 1425.8 945.7 1427.1 895.6 1428.7 918.2 1429.7 936.2 1430.9 948.6 1432.2 957.4 1433.8 960.6 1434.8 962.8 1435.7 964.7 1436.8 966.1 1438.1 967.1 1439.6 967.7 1441.5 968 1446.3Z" fill="#D65454"/>
<path d="M804.6 1506.3 804.6 1506.1 806.7 1505.8 813.3 1505.5 872.4 1504.5 878.1 1504.2 868.9 1503.9 816.3 1502.9 808.7 1502.6 804.9 1502.1 804.7 1502 804.7 1475.7 804.6 1473.6 803.9 1473.6 803.7 1475.7 803.7 1502 803.5 1502.1 799.7 1502.6 792.1 1502.9 739.5 1503.9 730.3 1504.2 736 1504.5 795.1 1505.5 801.7 1505.8 803.8 1506.1 803.9 1506.3Z" fill="#BEBEBE"/>
<path d="M968.8 1505.5 969.1 1505.1 971.2 1504.3 971.3 1504.1 969.9 1503.1 969.2 1502.3 968.9 1501.7 968.9 1501 969.2 1500.6 971.7 1499.6 979.4 1498 980.9 1497.4 980.7 1497 979.6 1496.6 970.5 1494.7 970.9 1493.7 971.8 1492.3 973.9 1490.2 977 1488.2 980.5 1486.6 984.2 1485.5 988.9 1484.3 995 1483.1 1001.5 1482.1 1019.7 1480.2 1041.2 1478.6 1040.4 1478.4 1023.8 1477.2 1011.1 1476 1001.2 1474.9 993.7 1473.7 987 1472.3 982.1 1470.9 978.1 1469.4 974.5 1467.4 968.8 1465.5 968 1465.5 962.3 1467.4 958.7 1469.4 954.7 1470.9 949.8 1472.3 943.1 1473.7 935.6 1474.9 925.7 1476 913 1477.2 896.4 1478.4 895.6 1478.6 917.1 1480.2 935.3 1482.1 941.8 1483.1 947.9 1484.3 952.6 1485.5 956.3 1486.6 959.8 1488.2 962.9 1490.2 965 1492.3 965.9 1493.7 966.3 1494.7 957.2 1496.6 956.1 1497 955.9 1497.4 957.4 1498 965.1 1499.6 967.6 1500.6 967.9 1501 967.9 1501.7 967.6 1502.3 966.9 1503.1 965.5 1504.1 965.6 1504.3 967.7 1505.1 968 1505.5Z" fill="#D65454"/>
<path d="M804.6 1547.1 804.6 1546.5 805.6 1546.1 812.4 1545.7 870.5 1544.6 878.2 1544.3 870.1 1543.9 816.2 1542.9 808.5 1542.6 805 1542.2 804.7 1542 804.7 1526.7 804.6 1524.7 803.9 1524.7 803.7 1526.7 803.7 1542 803.4 1542.2 799.9 1542.6 792.2 1542.9 738.3 1543.9 730.2 1544.3 737.9 1544.6 796 1545.7 802.8 1546.1 803.9 1546.5 803.9 1547.1Z" fill="#BEBEBE"/>
<path d="M968.8 1545.9 968.9 1545.5 970 1545.1 976.8 1543.9 979.4 1543.2 979.5 1543 979.3 1542.8 978.1 1542.4 972.2 1541.2 970.1 1540.6 969.9 1540.5 969.9 1538.1 971.4 1535 973.6 1532.5 976.8 1530.4 981.3 1528.4 985.1 1527.3 990.1 1526.1 996.5 1524.9 1003.3 1523.9 1019.9 1522.2 1041.2 1520.6 1040.5 1520.5 1024 1519.3 1009.5 1517.9 998.8 1516.6 990.8 1515.2 984.3 1513.7 979.6 1512.1 976 1510.4 973.3 1508.4 968.8 1506.3 968 1506.3 963.5 1508.4 960.8 1510.4 957.2 1512.1 952.5 1513.7 946 1515.2 938 1516.6 927.3 1517.9 912.8 1519.3 896.3 1520.5 895.6 1520.6 916.9 1522.2 933.5 1523.9 940.3 1524.9 946.7 1526.1 951.7 1527.3 955.5 1528.4 960 1530.4 963.2 1532.5 965.4 1535 966.9 1538.1 966.9 1540.5 966.7 1540.6 964.6 1541.2 958.7 1542.4 957.5 1542.8 957.3 1543 957.4 1543.2 960 1543.9 966.8 1545.1 967.9 1545.5 968 1545.9Z" fill="#D65454"/>
<path d="M804.6 1587.9 805.4 1587.6 807.6 1587.4 816.1 1587.1 867.4 1586.3 876 1586.1 878 1585.9 867.9 1585.5 818.4 1584.6 809.5 1584.3 805.2 1583.9 804.7 1583.7 804.7 1567.6 804.6 1565.5 803.9 1565.5 803.7 1567.6 803.7 1583.7 803.2 1583.9 798.9 1584.3 790 1584.6 740.5 1585.5 730.4 1585.9 732.4 1586.1 741 1586.3 792.3 1587.1 800.8 1587.4 803 1587.6 803.9 1587.9Z" fill="#BEBEBE"/>
<path d="M968.8 1586.7 968.9 1586.3 969.7 1585.9 975.7 1584.8 978 1584 977.8 1583.6 976.8 1583.2 971.7 1582.1 969.9 1581.5 969.9 1578.8 971.4 1575.7 973.6 1573.1 976.8 1571 980.8 1569.2 984.5 1568.1 989.2 1566.9 995.4 1565.8 1001.9 1564.8 1017.8 1563 1038.2 1561.5 1037.6 1561.3 1021.8 1560.1 1007.8 1558.8 997.5 1557.4 989.9 1556 983.6 1554.5 979.2 1552.9 975.7 1551.2 973.1 1549.2 968.8 1547.1 968 1547.1 963.7 1549.2 961.1 1551.2 957.6 1552.9 953.2 1554.5 946.9 1556 939.3 1557.4 929 1558.8 915 1560.1 899.2 1561.3 898.6 1561.5 919 1563 934.9 1564.8 941.4 1565.8 947.6 1566.9 952.3 1568.1 956 1569.2 960 1571 963.2 1573.1 965.4 1575.7 966.9 1578.8 966.9 1581.5 965.1 1582.1 960 1583.2 959 1583.6 958.8 1584 961.1 1584.8 967.1 1585.9 967.9 1586.3 968 1586.7Z" fill="#D65454"/>
<path d="M804.6 1628.8 804.6 1628.4 805.8 1628.1 815.7 1627.6 866.4 1626.7 877.8 1626.4 877.4 1626.2 872.7 1626.1 817.3 1625 808.8 1624.7 804.8 1624.2 804.7 1596.1 804.6 1594.1 803.9 1594.1 803.7 1596.1 803.6 1624.2 799.6 1624.7 791.1 1625 735.7 1626.1 731 1626.2 730.6 1626.4 742 1626.7 792.7 1627.6 802.6 1628.1 803.9 1628.4 803.9 1628.8Z" fill="#BEBEBE"/>
<path d="M968.8 1628 968.9 1627.4 969.6 1626.8 972.8 1625.5 970.7 1624.7 969.7 1624 969.4 1623.6 969.7 1622.4 972.2 1621.7 978.8 1620.5 980.8 1620 981 1619.8 980.8 1619.6 979.6 1619.2 972.1 1617.9 972.1 1617.7 973.9 1616 976.1 1614.5 978.7 1613.1 982.3 1611.8 986.3 1610.7 991.5 1609.5 1003.6 1607.6 1017.8 1606.1 1040.7 1604.4 1041 1604.2 1024.7 1603.1 1010.3 1601.7 998.2 1600.2 989.7 1598.7 983.6 1597.2 978.3 1595.3 975.5 1593.7 973.9 1592.6 972.5 1591.3 968.8 1589.2 968 1589.2 964.3 1591.3 962.9 1592.6 961.3 1593.7 958.5 1595.3 953.2 1597.2 947.1 1598.7 938.6 1600.2 926.5 1601.7 912.1 1603.1 895.8 1604.2 896.1 1604.4 919 1606.1 933.2 1607.6 945.3 1609.5 950.5 1610.7 954.5 1611.8 958.1 1613.1 960.7 1614.5 962.9 1616 964.7 1617.7 964.7 1617.9 957.2 1619.2 956 1619.6 955.8 1619.8 956 1620 958 1620.5 964.6 1621.7 967.1 1622.4 967.4 1623.6 967.1 1624 966.1 1624.7 964 1625.5 967.2 1626.8 967.9 1627.4 968 1628Z" fill="#D65454"/>
<path d="M804.6 1669.6 804.7 1667.8 805 1667.6 807.8 1667.2 811.2 1667 824.8 1666.6 870.8 1665.8 877.1 1665.6 877.7 1665.4 818.2 1664.3 808.4 1663.9 805.1 1663.5 804.7 1663.3 804.7 1631.4 804.6 1629.2 803.9 1629.2 803.7 1631.4 803.7 1663.3 803.3 1663.5 800 1663.9 790.2 1664.3 730.7 1665.4 731.3 1665.6 737.6 1665.8 783.6 1666.6 797.2 1667 800.6 1667.2 803.4 1667.6 803.7 1667.8 803.9 1669.6Z" fill="#BEBEBE"/>
<path d="M968.8 1667.6 968.8 1667.4 969.3 1667 972.3 1665.9 972.8 1665.3 972.8 1664.9 972.5 1664.5 970.5 1663.4 972.2 1659.8 974.5 1656.7 976.4 1655 978.9 1653.3 981.8 1651.8 985.4 1650.3 989.4 1648.9 994.4 1647.6 1006.9 1645.1 1022.1 1643 1041.1 1641.1 1040.8 1640.9 1023.9 1640 1008.8 1638.9 997.8 1637.7 989.8 1636.6 983.2 1635.2 978.1 1633.7 975.1 1632.4 972.8 1630.9 970.3 1629.7 968.8 1628.8 968 1628.8 966.5 1629.7 964 1630.9 961.7 1632.4 958.7 1633.7 953.6 1635.2 947 1636.6 939 1637.7 928 1638.9 912.9 1640 896 1640.9 895.7 1641.1 914.7 1643 929.9 1645.1 942.4 1647.6 947.4 1648.9 951.4 1650.3 955 1651.8 957.9 1653.3 960.4 1655 962.3 1656.7 964.6 1659.8 966.3 1663.4 964.3 1664.5 964 1664.9 964 1665.3 964.5 1665.9 967.5 1667 968 1667.4 968 1667.6Z" fill="#D65454"/>
<path d="M804.6 1710.4 804.9 1710.2 806.7 1710 814.6 1709.6 868.9 1708.8 878.2 1708.4 868.9 1708 816.3 1707.1 808.1 1706.7 804.8 1706.2 804.7 1688 804.6 1685.9 803.9 1685.9 803.7 1688 803.6 1706.2 800.3 1706.7 792.1 1707.1 739.5 1708 730.2 1708.4 739.5 1708.8 793.8 1709.6 801.7 1710 803.5 1710.2 803.9 1710.4Z" fill="#BEBEBE"/>
<path d="M968.8 1706.4 968.8 1705.5 969.4 1705 974.4 1703 975.4 1702.4 975.3 1702 974.8 1701.7 970.9 1700.3 969.9 1699.7 970 1694.3 971.2 1692.6 972.7 1691.2 974.7 1690 977.8 1688.8 981.4 1687.7 986.6 1686.7 1000 1684.9 1017.7 1683.5 1041 1682.3 1007.2 1680.2 996.2 1679.2 988.4 1678.1 981.9 1676.9 976.6 1675.4 974 1674.1 972.2 1672.9 969.8 1671.7 968.8 1671 968.8 1670.8 968 1670.8 968 1671 967 1671.7 964.6 1672.9 962.8 1674.1 960.2 1675.4 954.9 1676.9 948.4 1678.1 940.6 1679.2 929.6 1680.2 895.8 1682.3 919.1 1683.5 936.8 1684.9 950.2 1686.7 955.4 1687.7 959 1688.8 962.1 1690 964.1 1691.2 965.6 1692.6 966.8 1694.3 966.9 1699.7 965.9 1700.3 962 1701.7 961.5 1702 961.4 1702.4 962.4 1703 967.4 1705 968 1705.5 968 1706.4Z" fill="#D65454"/>
<path d="M804.6 1750 804.8 1748.1 807 1747.7 809.7 1747.5 820.8 1747.2 865.2 1746.4 878 1746 876.6 1745.8 870 1745.6 817.1 1744.7 808.1 1744.3 805.1 1743.9 804.7 1743.7 804.7 1713 804.6 1710.8 803.9 1710.8 803.7 1713 803.7 1743.7 803.3 1743.9 800.3 1744.3 791.3 1744.7 738.4 1745.6 731.8 1745.8 730.4 1746 743.2 1746.4 787.6 1747.2 798.7 1747.5 801.4 1747.7 803.6 1748.1 803.9 1750Z" fill="#BEBEBE"/>
<path d="M968.8 1750 968.9 1749.7 969.9 1749.3 973.8 1748.7 1000.9 1746.7 1004.7 1746.4 1006.1 1746 1005.8 1745.8 1003.2 1745.4 978.5 1743.6 971 1742.7 970.6 1742.5 970.6 1736.8 971.8 1736.1 973.8 1735.3 980.4 1733.7 989.9 1732.4 1027.5 1728.7 1035.8 1727.7 1041 1726.7 1042 1726.4 1042.4 1726 1041.9 1725.4 1040.4 1724.8 1033.3 1723.4 995.3 1719 987 1717.8 980.6 1716.7 976 1715.5 972.4 1714.1 970.8 1713.2 969.3 1711.8 968.8 1711.2 968.8 1710.4 968 1710.4 968 1711.2 967.5 1711.8 966 1713.2 964.4 1714.1 960.8 1715.5 956.2 1716.7 949.8 1717.8 941.5 1719 903.5 1723.4 896.4 1724.8 894.9 1725.4 894.4 1726 894.8 1726.4 895.8 1726.7 901 1727.7 909.3 1728.7 946.9 1732.4 956.4 1733.7 963 1735.3 965 1736.1 966.2 1736.8 966.2 1742.5 965.8 1742.7 958.3 1743.6 933.6 1745.4 931 1745.8 930.7 1746 932.1 1746.4 935.9 1746.7 963 1748.7 966.9 1749.3 967.9 1749.7 968 1750Z" fill="#D65454"/>
<path d="M804.6 1792.1 804.7 1790.7 805 1790.5 808 1790.1 811.5 1789.9 825.3 1789.5 871.3 1788.7 877.3 1788.5 877.6 1788.3 817.8 1787.2 808.2 1786.8 805.1 1786.4 804.7 1786.2 804.7 1753.9 804.6 1751.7 803.9 1751.7 803.7 1753.9 803.7 1786.2 803.3 1786.4 800.2 1786.8 790.6 1787.2 730.8 1788.3 731.1 1788.5 737.1 1788.7 783.1 1789.5 796.9 1789.9 800.4 1790.1 803.4 1790.5 803.7 1790.7 803.9 1792.1Z" fill="#BEBEBE"/>
<path d="M968.8 1792.1 968.8 1791.9 970 1791.5 976.2 1790.9 1032 1789.1 1042.3 1788.5 1042 1788.3 1035.8 1787.9 989.8 1786.5 980.5 1786.1 975.8 1785.7 975.8 1784.9 976.5 1784.7 985.8 1783.1 988.2 1782.5 989 1782.1 989 1781.7 987.6 1781.1 980 1779.7 979.8 1779.5 999.3 1774.7 1002.9 1773.3 1003.7 1772.7 1003.9 1772.1 1003.7 1771.7 1003.2 1771.3 1000.6 1770.3 978.7 1765.7 974.6 1764.5 971.5 1763.1 970 1761.9 968.9 1760.3 968.9 1753.5 968.8 1751.3 968 1751.3 967.9 1753.5 967.9 1760.3 966.8 1761.9 965.3 1763.1 962.2 1764.5 958.1 1765.7 936.2 1770.3 933.6 1771.3 933.1 1771.7 932.9 1772.1 933.1 1772.7 933.9 1773.3 937.5 1774.7 957 1779.5 956.8 1779.7 949.2 1781.1 947.8 1781.7 947.8 1782.1 948.6 1782.5 951 1783.1 960.3 1784.7 961 1784.9 961 1785.7 956.3 1786.1 947 1786.5 901 1787.9 894.8 1788.3 894.5 1788.5 904.8 1789.1 960.6 1790.9 966.8 1791.5 968 1791.9 968 1792.1Z" fill="#D65454"/>
<path d="M804.6 1832.9 804.8 1831 806.4 1830.7 810.9 1830.4 828.2 1829.9 873.9 1829.1 877.7 1828.9 877.7 1828.8 815 1827.5 808.1 1827.2 804.8 1826.7 804.7 1802.4 804.6 1800.3 803.9 1800.3 803.7 1802.4 803.6 1826.7 800.3 1827.2 793.4 1827.5 730.7 1828.8 730.7 1828.9 734.5 1829.1 780.2 1829.9 797.5 1830.4 802 1830.7 803.6 1831 803.9 1832.9Z" fill="#BEBEBE"/>
<path d="M968.8 1830.9 968.8 1829.8 969.4 1829.4 971.7 1828.6 976.7 1827.5 978 1826.9 978 1826.7 977.3 1826.3 971.6 1825 969.9 1824.4 969.9 1822.1 971.3 1819.5 973.5 1817.2 976.6 1815.3 980.3 1813.8 984.2 1812.6 989.3 1811.5 1001.9 1809.6 1017.2 1808.1 1041.9 1806.4 1023.8 1805.2 1010.2 1804.1 998.5 1802.8 989 1801.2 982.6 1799.7 977.2 1797.8 974.5 1796.3 972 1794.2 970 1793.1 968.8 1792.1 968 1792.1 966.8 1793.1 964.8 1794.2 962.3 1796.3 959.6 1797.8 954.2 1799.7 947.8 1801.2 938.3 1802.8 926.6 1804.1 913 1805.2 894.9 1806.4 919.6 1808.1 934.9 1809.6 947.5 1811.5 952.6 1812.6 956.5 1813.8 960.2 1815.3 963.3 1817.2 965.5 1819.5 966.9 1822.1 966.9 1824.4 965.2 1825 959.5 1826.3 958.8 1826.7 958.8 1826.9 960.1 1827.5 965.1 1828.6 967.4 1829.4 968 1829.8 968 1830.9Z" fill="#D65454"/>
<path d="M804.6 1873.8 804.6 1873.6 805.3 1873.4 806.8 1873.3 813.9 1872.9 866.9 1872.1 877.8 1871.8 877.6 1871.6 873.3 1871.5 819.2 1870.5 809.9 1870.2 805.1 1869.7 804.7 1869.5 804.7 1842.4 804.6 1840.3 803.9 1840.3 803.7 1842.4 803.7 1869.5 803.3 1869.7 798.5 1870.2 789.2 1870.5 735.1 1871.5 730.8 1871.6 730.6 1871.8 741.5 1872.1 794.5 1872.9 801.6 1873.3 803.1 1873.4 803.8 1873.6 803.9 1873.8Z" fill="#BEBEBE"/>
<path d="M968.8 1873.8 968.9 1873.6 970.5 1873 973.9 1872.8 1042.2 1871.8 1038.6 1871.6 979.2 1870.8 972.9 1870.6 971.6 1870.4 970.7 1870 969.8 1869.4 969.1 1868.6 969.1 1858 970.1 1856.8 970.2 1856.2 970 1855.6 968.9 1854.2 968.9 1835.1 968.8 1832.9 968 1832.9 967.9 1835.1 967.9 1854.2 966.8 1855.6 966.6 1856.2 966.7 1856.8 967.7 1858 967.7 1868.6 967 1869.4 966.1 1870 965.2 1870.4 963.9 1870.6 957.6 1870.8 898.2 1871.6 894.6 1871.8 962.9 1872.8 966.3 1873 967.9 1873.6 968 1873.8Z" fill="#D65454"/>
<path d="M804.6 1914.6 844.5 1913.9 855.8 1913.5 850.8 1913.2 813.2 1912.4 807.8 1912.1 804.9 1911.7 804.7 1911.5 804.7 1888.1 804.6 1886 803.9 1886 803.7 1888.1 803.7 1911.5 803.5 1911.7 800.6 1912.1 795.2 1912.4 757.6 1913.2 752.6 1913.5 763.9 1913.9 803.9 1914.6Z" fill="#BEBEBE"/>
<path d="M968.8 1914.6 971 1914 975.4 1913.4 974.8 1913 972.4 1912.4 970.5 1911.6 970.3 1911.4 971.2 1909.2 983.1 1907.6 986 1907 986.1 1906.8 985.8 1906.6 983.8 1906.2 974.2 1905 976.3 1903.2 978.7 1901.6 982 1900 985.7 1898.6 994.5 1896.2 1006.5 1894 1022 1892 1041.4 1890.2 1041.1 1890 1027.4 1888.6 1015 1887 1006.2 1885.6 998.2 1884 991.2 1882.2 985.9 1880.4 981.4 1878.4 977.1 1875.8 968.8 1873.8 968 1873.8 959.7 1875.8 955.4 1878.4 950.9 1880.4 945.6 1882.2 938.6 1884 930.6 1885.6 921.8 1887 909.4 1888.6 895.7 1890 895.4 1890.2 914.8 1892 930.3 1894 942.3 1896.2 951.1 1898.6 954.8 1900 958.1 1901.6 960.5 1903.2 962.6 1905 953 1906.2 951 1906.6 950.7 1906.8 950.8 1907 953.7 1907.6 965.6 1909.2 966.5 1911.4 966.3 1911.6 964.4 1912.4 962 1913 961.4 1913.4 965.8 1914 968 1914.6Z" fill="#D65454"/>
</g>
<path d="M705 1016.3H1066.5M705 1057.1H1066.5M705 1098H1066.5M705 1138.8H1066.5M705 1179.6H1066.5M705 1220.5H1066.5M705 1261.3H1066.5M705 1302.1H1066.5M705 1343H1066.5M705 1383.8H1066.5M705 1424.6H1066.5M705 1465.4H1066.5M705 1506.3H1066.5M705 1547.1H1066.5M705 1587.9H1066.5M705 1628.8H1066.5M705 1669.6H1066.5M705 1710.4H1066.5M705 1751.3H1066.5M705 1792.1H1066.5M705 1832.9H1066.5M705 1873.8H1066.5M705 1914.6H1066.5" stroke="#1a1a1a" stroke-width="1.4" fill="none"/>
<path d="M1066.5 1016.3V1914.6" stroke="#808080" stroke-width="1.2"/>
<path d="M705 1016.3V1915.3M700.5 1055.1H705M700.5 1046.8H705M700.5 1038.4H705M700.5 1030.1H705M700.5 1021.8H705M700.5 1093.9H705M700.5 1084.6H705M700.5 1075.4H705M700.5 1066.1H705M700.5 1134.7H705M700.5 1125.5H705M700.5 1116.2H705M700.5 1107H705M700.5 1175.5H705M700.5 1168.4H705M700.5 1161.2H705M700.5 1154H705M700.5 1146.8H705M700.5 1139.6H705M700.5 1216.4H705M700.5 1207.1H705M700.5 1197.9H705M700.5 1188.6H705M700.5 1257.2H705M700.5 1250.3H705M700.5 1243.3H705M700.5 1236.4H705M700.5 1229.5H705M700.5 1222.5H705M700.5 1295.2H705M700.5 1288H705M700.5 1280.7H705M700.5 1273.5H705M700.5 1266.3H705M700.5 1339.3H705M700.5 1331.5H705M700.5 1323.7H705M700.5 1315.9H705M700.5 1308.1H705M700.5 1379.7H705M700.5 1372.5H705M700.5 1365.3H705M700.5 1358.1H705M700.5 1351H705M700.5 1343.8H705M700.5 1423.4H705M700.5 1415.7H705M700.5 1408.1H705M700.5 1400.4H705M700.5 1392.8H705M700.5 1385.1H705M700.5 1464.2H705M700.5 1458.6H705M700.5 1453H705M700.5 1447.4H705M700.5 1441.8H705M700.5 1436.2H705M700.5 1430.6H705M700.5 1504.2H705M700.5 1496.8H705M700.5 1489.3H705M700.5 1481.9H705M700.5 1474.4H705M700.5 1467H705M700.5 1544.3H705M700.5 1537H705M700.5 1529.8H705M700.5 1522.5H705M700.5 1515.3H705M700.5 1508H705M700.5 1585.9H705M700.5 1578.5H705M700.5 1571H705M700.5 1563.6H705M700.5 1556.1H705M700.5 1548.7H705M700.5 1626.3H705M700.5 1619H705M700.5 1611.6H705M700.5 1604.3H705M700.5 1596.9H705M700.5 1589.6H705M700.5 1665.5H705M700.5 1658.6H705M700.5 1651.7H705M700.5 1644.7H705M700.5 1637.8H705M700.5 1630.8H705M700.5 1708.4H705M700.5 1701H705M700.5 1693.5H705M700.5 1686.1H705M700.5 1678.6H705M700.5 1671.2H705M700.5 1746H705M700.5 1737.1H705M700.5 1728.3H705M700.5 1719.4H705M700.5 1788.4H705M700.5 1779H705M700.5 1769.7H705M700.5 1760.3H705M700.5 1828.9H705M700.5 1821.9H705M700.5 1815H705M700.5 1808H705M700.5 1801.1H705M700.5 1794.2H705M700.5 1871.7H705M700.5 1861.8H705M700.5 1851.9H705M700.5 1841.9H705M700.5 1913.8H705M700.5 1906H705M700.5 1898.3H705M700.5 1890.5H705M700.5 1882.8H705M700.5 1875H705M804.2 1914.6V1919.1M968.4 1914.6V1919.1M705 1914.6H1066.5" stroke="#1a1a1a" stroke-width="1.4" fill="none"/>
<g fill="#222"><text x="694.5" y="1025" font-size="9" text-anchor="middle" font-family="'Liberation Sans', Arial, sans-serif">4</text><text x="694.5" y="1069.3" font-size="9" text-anchor="middle" font-family="'Liberation Sans', Arial, sans-serif">3</text><text x="694.5" y="1110.2" font-size="9" text-anchor="middle" font-family="'Liberation Sans', Arial, sans-serif">3</text><text x="694.5" y="1150" font-size="9" text-anchor="middle" font-family="'Liberation Sans', Arial, sans-serif">4</text><text x="694.5" y="1191.8" font-size="9" text-anchor="middle" font-family="'Liberation Sans', Arial, sans-serif">3</text><text x="694.5" y="1232.7" font-size="9" text-anchor="middle" font-family="'Liberation Sans', Arial, sans-serif">4</text><text x="694.5" y="1269.5" font-size="9" text-anchor="middle" font-family="'Liberation Sans', Arial, sans-serif">4</text><text x="694.5" y="1311.3" font-size="9" text-anchor="middle" font-family="'Liberation Sans', Arial, sans-serif">4</text><text x="694.5" y="1354.2" font-size="9" text-anchor="middle" font-family="'Liberation Sans', Arial, sans-serif">4</text><text x="694.5" y="1396" font-size="9" text-anchor="middle" font-family="'Liberation Sans', Arial, sans-serif">4</text><text x="694.5" y="1433.8" font-size="9" text-anchor="middle" font-family="'Liberation Sans', Arial, sans-serif">6</text><text x="694.5" y="1477.6" font-size="9" text-anchor="middle" font-family="'Liberation Sans', Arial, sans-serif">4</text><text x="694.5" y="1518.5" font-size="9" text-anchor="middle" font-family="'Liberation Sans', Arial, sans-serif">4</text><text x="694.5" y="1559.3" font-size="9" text-anchor="middle" font-family="'Liberation Sans', Arial, sans-serif">4</text><text x="694.5" y="1600.1" font-size="9" text-anchor="middle" font-family="'Liberation Sans', Arial, sans-serif">4</text><text x="694.5" y="1641" font-size="9" text-anchor="middle" font-family="'Liberation Sans', Arial, sans-serif">4</text><text x="694.5" y="1681.8" font-size="9" text-anchor="middle" font-family="'Liberation Sans', Arial, sans-serif">4</text><text x="694.5" y="1722.6" font-size="9" text-anchor="middle" font-family="'Liberation Sans', Arial, sans-serif">3</text><text x="694.5" y="1763.5" font-size="9" text-anchor="middle" font-family="'Liberation Sans', Arial, sans-serif">3</text><text x="694.5" y="1804.3" font-size="9" text-anchor="middle" font-family="'Liberation Sans', Arial, sans-serif">4</text><text x="694.5" y="1845.1" font-size="9" text-anchor="middle" font-family="'Liberation Sans', Arial, sans-serif">3</text><text x="694.5" y="1886" font-size="9" text-anchor="middle" font-family="'Liberation Sans', Arial, sans-serif">4</text></g>
<text x="1111" y="1042.7" font-size="16.7" font-weight="bold" text-anchor="middle" font-family="'Liberation Sans', Arial, sans-serif">Arhgap28</text>
<text x="1111" y="1083.5" font-size="16.7" font-weight="bold" text-anchor="middle" font-family="'Liberation Sans', Arial, sans-serif">Cdkn1c</text>
<text x="1111" y="1124.4" font-size="16.7" font-weight="bold" text-anchor="middle" font-family="'Liberation Sans', Arial, sans-serif">Cers6</text>
<text x="1111" y="1165.2" font-size="16.7" font-weight="bold" text-anchor="middle" font-family="'Liberation Sans', Arial, sans-serif">Dach1</text>
<text x="1111" y="1206" font-size="16.7" font-weight="bold" text-anchor="middle" font-family="'Liberation Sans', Arial, sans-serif">Dync1i1</text>
<text x="1111" y="1246.9" font-size="16.7" font-weight="bold" text-anchor="middle" font-family="'Liberation Sans', Arial, sans-serif">Fbxl7</text>
<text x="1111" y="1287.7" font-size="16.7" font-weight="bold" text-anchor="middle" font-family="'Liberation Sans', Arial, sans-serif">Fgf1</text>
<text x="1111" y="1328.5" font-size="16.7" font-weight="bold" text-anchor="middle" font-family="'Liberation Sans', Arial, sans-serif">Fry</text>
<text x="1111" y="1369.4" font-size="16.7" font-weight="bold" text-anchor="middle" font-family="'Liberation Sans', Arial, sans-serif">Iqgap2</text>
<text x="1111" y="1410.2" font-size="16.7" font-weight="bold" text-anchor="middle" font-family="'Liberation Sans', Arial, sans-serif">Mafb</text>
<text x="1111" y="1451" font-size="16.7" font-weight="bold" text-anchor="middle" font-family="'Liberation Sans', Arial, sans-serif">Magi2</text>
<text x="1111" y="1491.9" font-size="16.7" font-weight="bold" text-anchor="middle" font-family="'Liberation Sans', Arial, sans-serif">Nebl</text>
<text x="1111" y="1532.7" font-size="16.7" font-weight="bold" text-anchor="middle" font-family="'Liberation Sans', Arial, sans-serif">Nphs1</text>
<text x="1111" y="1573.5" font-size="16.7" font-weight="bold" text-anchor="middle" font-family="'Liberation Sans', Arial, sans-serif">Nphs2</text>
<text x="1111" y="1614.4" font-size="16.7" font-weight="bold" text-anchor="middle" font-family="'Liberation Sans', Arial, sans-serif">Plce1</text>
<text x="1111" y="1655.2" font-size="16.7" font-weight="bold" text-anchor="middle" font-family="'Liberation Sans', Arial, sans-serif">Podxl</text>
<text x="1111" y="1696" font-size="16.7" font-weight="bold" text-anchor="middle" font-family="'Liberation Sans', Arial, sans-serif">Ptpro</text>
<text x="1111" y="1736.9" font-size="16.7" font-weight="bold" text-anchor="middle" font-family="'Liberation Sans', Arial, sans-serif">Sema3g</text>
<text x="1111" y="1777.7" font-size="16.7" font-weight="bold" text-anchor="middle" font-family="'Liberation Sans', Arial, sans-serif">Sulf1</text>
<text x="1111" y="1818.5" font-size="16.7" font-weight="bold" text-anchor="middle" font-family="'Liberation Sans', Arial, sans-serif">Synpo</text>
<text x="1111" y="1859.4" font-size="16.7" font-weight="bold" text-anchor="middle" font-family="'Liberation Sans', Arial, sans-serif">Tspan2</text>
<text x="1111" y="1900.2" font-size="16.7" font-weight="bold" text-anchor="middle" font-family="'Liberation Sans', Arial, sans-serif">Wt1</text>
<text x="683" y="1468" font-size="19.5" text-anchor="middle" font-family="'Liberation Sans', Arial, sans-serif" transform="rotate(-90 683 1468)">Expression Level</text>
<text x="811.2" y="1933.6" font-size="16.5" text-anchor="end" font-family="'Liberation Sans', Arial, sans-serif" transform="rotate(-45 811.2 1933.6)">non−podo</text>
<text x="975.4" y="1933.6" font-size="16.5" text-anchor="end" font-family="'Liberation Sans', Arial, sans-serif" transform="rotate(-45 975.4 1933.6)">podocyte</text>
<path d="M1523.7 1118.3L1527.3 1112.9L1530.7 1107.3L1534 1101.3L1537.1 1095L1540.1 1088.5L1542.9 1083.3L1545.6 1079.4L1548.1 1076.8L1550.5 1075.7L1552.8 1074.9L1555.1 1074.6L1557.2 1074.8L1559.3 1075.4L1561.2 1076.8L1562.8 1079.2L1564.2 1082.5L1565.4 1086.7L1566.4 1091.6L1567.2 1097.3L1567.7 1103.7L1568 1110.9L1568 1117.3L1567.8 1123.2L1567.4 1128.3L1566.6 1132.8L1566.2 1137L1566.1 1140.8L1566.2 1144.4L1566.6 1147.7L1566.5 1150.2L1566 1151.8L1565 1152.6L1563.5 1152.6L1562.3 1151.6L1561.4 1149.5L1560.8 1146.4L1560.5 1142.2L1559.3 1138.8L1557.2 1136.1L1554.3 1134.1L1550.4 1132.9L1546.6 1131.9L1542.8 1131L1539.2 1130.3L1535.6 1129.7L1532.2 1129.1L1528.9 1128.5L1525.8 1127.9L1522.8 1127.3L1521.4 1125.5L1521.7 1122.5ZM1638.8 1102.2L1641.2 1100.4L1643.9 1098.8L1646.9 1097.3L1650.2 1095.9L1653.7 1094.7L1657.3 1093.7L1660.9 1092.8L1664.5 1092.1L1668.1 1091.5L1670.6 1089.7L1672.1 1086.7L1672.5 1082.5L1671.9 1077.1L1672.1 1072.8L1673 1069.5L1674.6 1067.3L1677 1066.1L1679.6 1065.7L1682.2 1066L1685.1 1067L1688.1 1068.8L1691 1070.4L1694 1071.9L1697 1073.3L1700 1074.5L1703 1076L1706 1077.7L1708.9 1079.8L1711.9 1082.2L1714.9 1084.6L1717.9 1087L1720.9 1089.4L1723.9 1091.8L1727 1093.9L1730.3 1095.6L1733.7 1097.1L1737.3 1098.3L1740.1 1100L1742.2 1102.1L1743.5 1104.6L1744.1 1107.6L1744.1 1110.4L1743.5 1113.1L1742.4 1115.6L1740.6 1118L1737.6 1119.7L1733.4 1120.6L1728 1120.7L1721.5 1120.1L1715.7 1119.4L1710.6 1118.5L1706.3 1117.4L1702.7 1116.2L1699.4 1114.9L1696.4 1113.4L1693.7 1111.8L1691.3 1110L1688.7 1109.1L1685.7 1109.1L1682.4 1110L1678.8 1111.8L1675.2 1113.7L1671.6 1115.8L1668.1 1118L1664.5 1120.4L1661.4 1122.8L1658.7 1125.2L1656.4 1127.6L1654.6 1130L1652.6 1132.5L1650.2 1135.2L1647.5 1138L1644.5 1141L1642 1142.2L1639.9 1141.6L1638.2 1139.2L1637 1135L1636.1 1130.4L1635.5 1125.3L1635.3 1119.8L1635.3 1113.8L1635.8 1108.9L1637 1105ZM1444.8 1139.6L1447.5 1140.5L1450.2 1141.6L1453 1142.8L1456 1144.1L1458.9 1145.6L1460.7 1147.2L1461.3 1148.8L1460.7 1150.5L1458.9 1152.3L1457.4 1153.5L1456 1154.1L1454.9 1154.1L1454 1153.5L1452.8 1152.6L1451.3 1151.2L1449.5 1149.5L1447.5 1147.4L1445.7 1145.5L1444.2 1143.7L1443 1142L1442.1 1140.5L1442.1 1139.6L1443 1139.3ZM1480.6 1172.8L1483.3 1171.9L1485.9 1171.6L1488.4 1171.9L1490.9 1172.8L1493.2 1174.3L1494.8 1176L1495.6 1177.9L1495.5 1180.1L1494.6 1182.5L1493.7 1184.5L1492.8 1186.3L1491.9 1187.8L1491 1189L1489.6 1189.6L1487.7 1189.6L1485.2 1189L1482.2 1187.8L1479.9 1186.2L1478.3 1184.1L1477.3 1181.6L1477 1178.6L1477.4 1176.1L1478.6 1174.2ZM1564.2 1151.7L1567.8 1151.1L1572 1150.8L1576.8 1150.8L1582.1 1151.1L1588.1 1151.7L1594.1 1152.5L1600 1153.4L1606 1154.4L1612 1155.6L1617.9 1157.2L1623.9 1159.3L1629.9 1161.9L1635.8 1164.9L1641.5 1167.7L1646.9 1170.4L1652 1172.9L1656.7 1175.3L1660.8 1177.8L1664 1180.5L1666.6 1183.4L1668.4 1186.3L1669.6 1189.3L1670.2 1192.3L1670.2 1195.3L1669.6 1198.3L1667.6 1200.2L1664.3 1201.1L1659.7 1201L1653.7 1199.8L1647.8 1198.6L1641.8 1197.4L1635.8 1196.2L1629.9 1195L1623.9 1194.2L1617.9 1193.9L1612 1194.1L1606 1194.7L1601.2 1195.6L1597.7 1196.8L1595.3 1198.3L1594.1 1200.1L1592.6 1200.8L1590.8 1200.5L1588.7 1199.2L1586.3 1196.8L1583.3 1194.1L1579.8 1191.1L1575.6 1187.8L1570.8 1184.2L1566.9 1181L1563.9 1178L1561.9 1175.3L1560.7 1172.9L1559.8 1170.1L1559.2 1166.8L1558.9 1163.1L1558.9 1158.9L1559.8 1155.6L1561.6 1153.2ZM1688.4 1189.3L1691.9 1189.9L1695.8 1190.5L1700 1191.1L1704.5 1191.7L1709.2 1192.3L1714 1192.9L1718.8 1193.5L1723.6 1194.1L1728.3 1194.7L1732.7 1195.6L1736.5 1196.8L1740 1198.3L1742.9 1200.1L1745.5 1202.3L1747.6 1205L1749.2 1208.1L1750.4 1211.7L1751 1215.1L1751 1218.4L1750.4 1221.5L1749.2 1224.5L1747.1 1227.4L1744.1 1230L1740.3 1232.6L1735.5 1235L1730.4 1236.5L1725 1237.1L1719.4 1236.8L1713.4 1235.6L1707.9 1234.2L1702.8 1232.7L1698.2 1231.1L1694 1229.3L1690.4 1227.4L1687.5 1225.3L1685.1 1223L1683.3 1220.6L1681.8 1218.1L1680.6 1215.4L1679.7 1212.6L1679.1 1209.6L1679 1206.3L1679.3 1202.7L1680 1198.9L1681.2 1194.7L1683 1191.7L1685.4 1189.9ZM1776.1 1219.2L1780.8 1217.4L1785.3 1215.9L1789.5 1214.9L1793.4 1214.2L1796.9 1213.9L1800.2 1213.9L1803.2 1214.2L1805.9 1214.8L1808.3 1215.7L1810.5 1217.1L1812.6 1219.1L1814.5 1221.5L1816.3 1224.5L1817.5 1227.5L1818.1 1230.5L1818.1 1233.5L1817.5 1236.5L1816.5 1239.4L1815 1242.4L1813.1 1245.4L1810.7 1248.4L1807.7 1251.1L1804.1 1253.5L1799.9 1255.5L1795.2 1257.3L1790.5 1258.7L1786.1 1259.6L1781.7 1260L1777.6 1260L1774 1259.1L1771 1257.3L1768.6 1254.7L1766.8 1251.1L1765.8 1246.9L1765.5 1242.1L1765.9 1236.8L1767.1 1230.8L1769.2 1225.9L1772.2 1222ZM1728.9 1252.6L1732.5 1250.8L1736.5 1249.7L1741 1249.4L1745.9 1249.9L1751.3 1251.1L1755.8 1252.7L1759.4 1254.8L1762 1257.3L1763.8 1260.3L1765 1263.5L1765.6 1266.7L1765.6 1270.2L1765 1273.7L1763.7 1276.9L1761.6 1279.6L1758.8 1281.8L1755.2 1283.6L1751.6 1285.1L1748 1286.3L1744.4 1287.2L1740.9 1287.8L1737.4 1287.6L1734.1 1286.7L1731 1285.1L1728 1282.7L1725.6 1280L1723.9 1277L1722.7 1273.7L1722.1 1270.2L1721.8 1266.9L1721.8 1263.9L1722.1 1261.2L1722.7 1258.8L1724 1256.6L1726.1 1254.5ZM1612 1213.8L1615.6 1213.2L1619.7 1213L1624.5 1213.3L1629.9 1214.1L1635.8 1215.3L1641.5 1216L1646.9 1216.3L1652 1216.2L1656.7 1215.6L1660.9 1215.4L1664.5 1215.7L1667.5 1216.5L1669.9 1217.7L1671.3 1219.3L1671.9 1221.4L1671.6 1223.9L1670.5 1226.9L1668.7 1229.7L1666.3 1232.4L1663.3 1235L1659.7 1237.4L1656.4 1239.6L1653.4 1241.7L1650.8 1243.6L1648.4 1245.4L1645.4 1246.3L1641.8 1246.3L1637.6 1245.4L1632.9 1243.6L1628.4 1242L1624.2 1240.5L1620.3 1239.1L1616.8 1237.9L1613.8 1236.5L1611.4 1234.7L1609.6 1232.6L1608.4 1230.2L1607.5 1227.7L1606.9 1225L1606.6 1222.1L1606.6 1219.2L1607.5 1216.8L1609.3 1215ZM1565.7 1230.2L1568.7 1223L1571.3 1218.6L1573.3 1216.8L1575 1217.7L1576.2 1221.2L1577.5 1224.5L1579 1227.5L1580.7 1230.2L1582.4 1232.6L1584.5 1234.5L1586.9 1236L1589.6 1237.1L1592.6 1237.6L1595.3 1238.2L1597.7 1238.8L1599.7 1239.4L1601.5 1240L1603.3 1241.4L1605.1 1243.5L1606.9 1246.3L1608.7 1249.9L1609.7 1253.2L1610 1256.1L1609.6 1258.8L1608.4 1261.2L1606.9 1263L1605.1 1264.2L1603 1264.8L1600.6 1264.8L1598.1 1264.5L1595.4 1263.9L1592.6 1263L1589.6 1261.8L1586 1261.2L1581.8 1261.2L1577.1 1261.8L1571.7 1263L1567.5 1263.3L1564.5 1262.7L1562.8 1261.2L1562.2 1258.8L1561.7 1256.1L1561.4 1253.2L1561.3 1249.9L1561.3 1246.3L1562 1241.8L1563.5 1236.5ZM1447.9 1251.4L1450.3 1247.2L1453.3 1243.6L1456.8 1240.6L1461 1238.2L1465.8 1236.5L1470.6 1235L1475.3 1233.8L1480.1 1232.9L1484.9 1232.3L1489.5 1231.5L1494 1230.6L1498.3 1229.6L1502.5 1228.4L1506.7 1226.9L1510.8 1225.1L1515 1223L1519.2 1220.6L1522.9 1218.7L1526.2 1217.2L1529 1216.2L1531.4 1215.6L1533.1 1215.6L1534 1216.2L1534.1 1217.4L1533.5 1219.2L1532.3 1221.1L1530.5 1223.2L1528.2 1225.4L1525.2 1227.8L1523.2 1230.2L1522.3 1232.6L1522.5 1235L1523.7 1237.4L1524.9 1239.9L1526.1 1242.6L1527.3 1245.4L1528.4 1248.4L1529.2 1251.4L1529.5 1254.4L1529.3 1257.3L1528.7 1260.3L1528.6 1263.5L1528.9 1266.7L1529.6 1270.2L1530.8 1273.7L1531.3 1277L1531 1280L1529.9 1282.7L1528.2 1285.1L1525.9 1287.5L1523.2 1289.9L1520.1 1292.2L1516.5 1294.6L1513.2 1296.7L1510.3 1298.5L1507.6 1300L1505.2 1301.2L1502.6 1302.8L1500 1304.9L1497.1 1307.5L1494.1 1310.4L1491.2 1313.1L1488.2 1315.5L1485.2 1317.6L1482.2 1319.4L1479.2 1320.3L1476.2 1320.3L1473.3 1319.4L1470.3 1317.6L1467.3 1315.4L1464.3 1312.7L1461.3 1309.5L1458.3 1306L1455.8 1302.2L1453.7 1298.4L1452.1 1294.3L1450.9 1290.2L1449.7 1286.3L1448.5 1282.7L1447.3 1279.4L1446.1 1276.4L1445.2 1273.3L1444.6 1270L1444.3 1266.6L1444.3 1263L1444.9 1259.3L1446.1 1255.4ZM1564.2 1300.9L1567.8 1297.9L1571.3 1295.2L1574.5 1292.8L1577.7 1290.8L1580.7 1289L1583.6 1287.2L1586.6 1285.4L1589.6 1283.6L1592.6 1281.8L1595.7 1280.2L1599 1278.7L1602.4 1277.3L1606 1276.1L1609.6 1274.9L1613.2 1273.7L1616.8 1272.6L1620.3 1271.4L1623.8 1270.3L1627 1269.4L1630.2 1268.7L1633.2 1268.1L1635.4 1268.1L1636.9 1268.7L1637.6 1269.9L1637.6 1271.7L1636.6 1273.6L1634.5 1275.7L1631.4 1277.9L1627.2 1280.3L1623.5 1282.4L1620.2 1284.2L1617.4 1285.7L1615 1286.9L1613.3 1289.3L1612.4 1292.8L1612.3 1297.6L1612.9 1303.6L1613.2 1309.4L1613.2 1315.1L1612.9 1320.6L1612.3 1326L1610.9 1330.3L1608.8 1333.6L1606 1335.8L1602.4 1337L1599 1337.4L1595.7 1337.1L1592.6 1336.1L1589.6 1334.3L1586.6 1332.5L1583.6 1330.7L1580.7 1328.9L1577.7 1327.1L1574.8 1325.4L1572.2 1323.6L1569.6 1321.8L1567.2 1320L1565.1 1317.9L1563.4 1315.5L1561.9 1312.8L1560.7 1309.8L1560.7 1306.9L1561.9 1303.9ZM1536.2 1338.5L1538.6 1336.7L1541 1335.2L1543.4 1334L1545.8 1333.1L1548.1 1332.5L1550.4 1332.4L1552.5 1332.7L1554.4 1333.4L1556.2 1334.6L1557.9 1336.1L1559.5 1337.9L1561.1 1340L1562.6 1342.4L1563.8 1344.9L1564.7 1347.6L1565.3 1350.4L1565.6 1353.4L1565.2 1356.1L1564.2 1358.5L1562.5 1360.6L1560.1 1362.4L1557.5 1363.5L1554.9 1364.1L1552 1364.1L1549 1363.5L1546.2 1362.5L1543.5 1361L1541 1359.1L1538.6 1356.7L1536.7 1354.1L1535.2 1351.5L1534.1 1348.6L1533.5 1345.6L1533.7 1343L1534.6 1340.6ZM1650.2 1263L1653.7 1261.8L1657.6 1260.9L1661.8 1260.3L1666.3 1260L1671.1 1260L1675.5 1260L1679.7 1260L1683.6 1260L1687.2 1260L1690.6 1259.7L1693.9 1259.1L1697 1258.2L1700 1257L1703 1256.3L1706 1256L1708.9 1256.1L1711.9 1256.7L1714 1257.6L1715.2 1258.8L1715.5 1260.3L1714.9 1262.1L1713.1 1263.8L1710.1 1265.2L1706 1266.6L1700.6 1267.8L1695.7 1269L1691.2 1270.2L1687.2 1271.4L1683.6 1272.6L1680 1273.9L1676.4 1275.4L1672.8 1277L1669.3 1278.8L1666 1280L1663 1280.6L1660.3 1280.6L1657.9 1280L1655.5 1279.3L1653.2 1278.4L1650.8 1277.3L1648.4 1276.1L1646.6 1274.6L1645.4 1272.9L1644.8 1270.8L1644.8 1268.4L1645.7 1266.3L1647.5 1264.5ZM1758.5 1217.1L1762.6 1217.1L1765.9 1217.7L1768.3 1218.9L1769.8 1220.6L1770.4 1223L1770.4 1225.6L1769.8 1228.3L1768.6 1231.1L1766.8 1234.1L1764.7 1235.9L1762.3 1236.5L1759.7 1235.9L1756.7 1234.1L1754.4 1231.8L1752.9 1229.1L1752.2 1226L1752.2 1222.4L1753.2 1219.7L1755.3 1218ZM1674 1199.2L1677.6 1196.8L1680.3 1195.9L1682.1 1196.5L1683 1198.6L1683 1202.1L1682.4 1205.1L1681.2 1207.5L1679.4 1209.3L1677 1210.5L1674.9 1210.8L1673.1 1210.2L1671.6 1208.7L1670.5 1206.3L1670.5 1203.9L1671.6 1201.6Z" fill="#C4DFDA" stroke="#C4DFDA" stroke-width="2.5" stroke-linejoin="round"/>
<path d="M1520.6 1114.1h0M1525.9 1110.2h0M1528.2 1105.9h0M1538 1097.4h0M1538.6 1091.3h0M1572.8 1096.9h0M1566.9 1107.5h0M1567.2 1110.8h0M1726.8 1121.1h0M1586.9 1153.6h0M1595.5 1150.9h0M1602.3 1154.5h0M1616.2 1155.5h0M1615.6 1158.2h0M1623.1 1159.5h0M1627.5 1158.6h0M1635.6 1164.7h0M1639.1 1164.1h0M1646.1 1170.8h0M1656.3 1198.5h0M1650.4 1204.6h0M1644.5 1198.8h0M1644.9 1198.7h0M1632.6 1195.1h0M1628.6 1193.7h0M1717.2 1237.5h0M1765.4 1241.3h0M1633.1 1219.4h0M1563 1231.3h0M1570.3 1236.3h0M1668.5 1189.8h0M1680.5 1191.5h0M1670.3 1185.4h0M1665.8 1197.6h0M1669.1 1198h0M1671.9 1194.5h0M1684.5 1195.2h0M1676.2 1204.3h0M1667.8 1187.3h0M1683.4 1203.2h0M1669.2 1188.2h0M1679.8 1206.1h0M1668.1 1206.3h0M1682.8 1198.1h0M1672.9 1186.1h0M1664.7 1206.6h0M1669 1200.5h0M1669.4 1203.3h0M1676.7 1190.7h0M1667.7 1200.8h0M1665.4 1189.1h0M1675.9 1204h0M1677.1 1190.3h0M1683.6 1188.5h0M1664.2 1190.1h0M1673.5 1185.1h0M1667.7 1192.5h0M1676.2 1186.8h0M1671.7 1204.9h0M1685 1199.3h0M1678.7 1197.6h0M1666.9 1184.5h0M1664.3 1205.4h0M1678.9 1206.6h0M1664.3 1198.8h0M1674.2 1201.1h0M1670.7 1207.5h0M1665.5 1196.7h0M1679.7 1205.1h0M1679.7 1200.4h0M1680.9 1205.5h0M1671.4 1200h0M1683.2 1204.4h0M1672.9 1202.5h0M1682.4 1197.3h0M1677.3 1192.8h0M1676.4 1198.2h0M1665.6 1198.9h0M1685.2 1204.6h0M1679.5 1192.9h0M1700.2 1254.8h0M1674.2 1260.9h0M1642.6 1258.8h0M1637.9 1255.3h0M1677.7 1246.4h0M1696.9 1252.8h0M1689.5 1262.9h0M1657.8 1241.2h0M1661.8 1257.1h0M1653.1 1245h0M1715.2 1256.7h0M1674.3 1262.2h0M1664.1 1256.8h0M1652.8 1251.2h0M1706.4 1262.7h0M1713 1250.1h0M1686.7 1248.5h0M1647.3 1252.8h0M1709.2 1261.2h0M1698.1 1263.6h0M1659.7 1245h0M1675 1247.5h0M1654.2 1250.8h0M1690.5 1252.7h0M1663.1 1261h0M1722 1251.7h0M1641.8 1241.7h0M1712.3 1241.9h0M1697.8 1254.5h0M1662.5 1259.8h0M1636.9 1244.2h0M1675.4 1241.5h0M1708.5 1246.6h0M1647.7 1242.1h0M1690.8 1251.6h0M1690.9 1256.6h0M1706.5 1263.8h0M1695.7 1245.7h0M1677.2 1245.2h0M1636.2 1252.2h0M1698.3 1245.2h0M1659.3 1249.2h0M1696.8 1253.4h0M1689.5 1259h0M1670 1259.8h0M1715.3 1243h0M1717.6 1258.2h0M1646.7 1251.8h0M1690.5 1262.6h0M1668.5 1254.5h0M1712.9 1259.9h0M1718.6 1252h0M1692.8 1245.8h0M1699 1260.5h0M1691.9 1258.1h0M1654.1 1262.4h0M1721.8 1264.3h0M1682.7 1259.8h0M1663.5 1262.6h0M1710.8 1249.2h0M1642.6 1251.5h0M1683.8 1259.3h0M1678.3 1241.6h0M1706.7 1242.5h0M1705.9 1245.1h0M1664.8 1259.7h0M1647.7 1244.5h0M1680.9 1258.2h0M1709.4 1257.4h0M1718.8 1252.7h0M1719.1 1243h0M1654.8 1253.5h0M1660.9 1258.3h0M1691.7 1253.4h0M1709.7 1254.3h0M1662.8 1250h0M1709.9 1262.4h0M1653.6 1261.2h0M1720.8 1253.4h0M1685.8 1245.7h0M1682.6 1252.9h0M1688.7 1241.6h0M1720.9 1253.2h0M1670.6 1260h0M1685 1252.7h0M1696.3 1242.5h0M1682.8 1250.8h0M1719.7 1263h0M1659 1252.2h0M1646.5 1251.3h0M1707.3 1262.4h0M1677.3 1248.5h0M1652.2 1255.7h0M1717 1244h0M1704.1 1241.5h0M1652.4 1246.4h0M1695.9 1248.6h0M1666.6 1255.7h0M1644.5 1258.4h0M1646.1 1253.1h0M1657.4 1245.6h0M1682.1 1251.4h0M1668.4 1250.8h0M1682 1244.7h0M1653.3 1256h0M1691.6 1253.6h0M1710.4 1255.5h0M1710.9 1246.5h0M1700.7 1260.3h0M1715 1248.5h0M1663.1 1263h0M1654.5 1264.8h0M1713.6 1244.1h0M1656.4 1258.3h0M1658.2 1243.2h0M1708.7 1251h0M1705 1243.9h0M1670.8 1257.3h0M1636.8 1245.7h0M1695.5 1262.7h0M1720.8 1243.7h0M1679.9 1259h0M1679.6 1257.3h0M1651.9 1242.6h0M1644.6 1241.8h0M1684 1253.2h0M1685.5 1244.4h0M1651.5 1245.8h0M1709.4 1264.6h0M1717.1 1243.2h0M1601.5 1216.4h0M1630.1 1213.7h0M1620.5 1209.4h0M1634 1208.9h0M1640.1 1202.9h0M1647.3 1214.8h0M1610 1209.2h0M1650 1208.5h0M1611 1205.1h0M1633.8 1203h0M1661 1214.2h0M1647.5 1215.1h0M1642.1 1208.5h0M1640 1210h0M1667.4 1214.3h0M1615.6 1215.8h0M1650.4 1213.9h0M1655.4 1208.6h0M1661.3 1215.3h0M1646.8 1213.7h0M1651.9 1208.6h0M1648.8 1203.8h0M1621.5 1209.5h0M1597.8 1207.8h0M1642.8 1211.7h0M1613.7 1216.3h0M1644.8 1207.6h0M1644.3 1210.9h0M1635.2 1208.3h0M1668.7 1211.9h0M1647.3 1213.7h0M1667.2 1203.1h0M1641.1 1213.3h0M1615.4 1208.5h0M1600.7 1205.5h0M1624 1204.2h0M1615 1215.7h0M1636.4 1210h0M1666.3 1210.9h0M1668.3 1211.9h0M1655 1203.8h0M1639.8 1213.6h0M1600.3 1216.1h0M1608.5 1209.5h0M1609.2 1209.8h0M1640.8 1203.6h0M1664.7 1208.8h0M1634.8 1211.3h0M1623.2 1206.8h0M1644 1210.8h0M1617.4 1213h0M1618.3 1202.9h0M1614.6 1203.4h0M1608.3 1213.6h0M1625 1215.6h0M1650.6 1203.5h0M1667.9 1216.3h0M1602.3 1215.7h0M1627.8 1209.6h0M1666.7 1206.2h0M1634.5 1216.2h0M1648.8 1209.5h0M1667.1 1214.4h0M1640.3 1204.4h0M1641.8 1209.3h0M1611.6 1203.5h0M1634.9 1204.5h0M1628.8 1212.3h0M1629.7 1206.5h0M1638.8 1208.8h0M1652.8 1210.3h0M1668.5 1216.4h0M1649.6 1206.2h0M1605.2 1215.5h0M1653.2 1211.7h0M1622.8 1206.6h0M1646.1 1210.8h0M1639.4 1211.8h0M1651 1205.5h0M1614.9 1216.8h0M1594.2 1214.2h0M1565 1194.6h0M1572.7 1203.3h0M1584.5 1195.6h0M1581.7 1194.9h0M1566.5 1209.3h0M1582 1208.3h0M1576.1 1204.6h0M1570.7 1201.4h0M1588.5 1213.2h0M1566.1 1196.1h0M1590.7 1208.1h0M1589.3 1198.3h0M1577.8 1199.4h0M1590.7 1202h0M1585.5 1216.8h0M1574.5 1206.3h0M1588.6 1215.2h0M1577.9 1202h0M1566.9 1214.1h0M1566.3 1195.2h0M1582.5 1204.8h0M1586.6 1200.3h0M1589.6 1195h0M1570.8 1209h0M1566.4 1200.4h0M1587.9 1209.8h0M1573.1 1196.6h0M1575.6 1210.5h0M1575.9 1196h0M1587.4 1206.8h0M1594.3 1215.6h0M1594.2 1203.7h0M1590.5 1200.5h0M1574.3 1202.7h0M1594.9 1214.6h0M1571.9 1201.8h0M1575.9 1201.9h0M1576.9 1202.4h0M1570.2 1206.7h0M1549.7 1205h0M1550.6 1205.6h0M1536.4 1210.7h0M1551.5 1198.2h0M1533.1 1204.3h0M1544.3 1205.7h0M1553.4 1207.9h0M1549.9 1192.5h0M1544.4 1211.5h0M1534.4 1193h0M1548.5 1214.4h0M1534.4 1207.5h0M1535.7 1210.4h0M1546.6 1197.3h0M1537.4 1210.9h0M1543.8 1210.9h0M1541.1 1199.7h0M1553.4 1208.5h0M1543.2 1204.9h0M1548.1 1209.4h0M1552.3 1201.6h0M1550.4 1208.3h0M1551 1212h0M1550.5 1214.1h0M1553.2 1207.6h0M1543.9 1209.5h0M1549.9 1201.9h0M1541.7 1194.6h0M1548.5 1216.8h0M1540.7 1195.2h0M1601 1268.1h0M1602.6 1278.5h0M1598.2 1265.9h0M1599.3 1272.4h0M1611.9 1263.4h0M1598.3 1268.8h0M1608.2 1277.4h0M1597.8 1262.1h0M1600.6 1264.2h0M1601.6 1273.7h0M1608.4 1264.3h0M1600.6 1265.4h0M1600.4 1274.5h0M1603 1270.5h0M1612.7 1269.2h0M1602 1277h0M1614.5 1266.6h0M1607.5 1278.3h0M1606.3 1264.2h0M1598 1278.1h0M1612.4 1267.4h0M1607.1 1269.9h0M1602.3 1278.9h0M1609.6 1264.6h0M1597.3 1269h0M1604.2 1275.2h0M1610.7 1271.6h0M1600.1 1263h0M1603.2 1265h0M1613.7 1269.9h0M1759.8 1255.1h0M1745.7 1244.1h0M1741.2 1249.8h0M1735.5 1251h0M1767.8 1251h0M1738.6 1237.8h0M1762.9 1233.7h0M1753.8 1242.6h0M1772 1245.4h0M1768.2 1238.6h0M1765.6 1241.3h0M1770.5 1233.6h0M1767 1236.4h0M1756.2 1243.9h0M1741.5 1251.2h0M1747.4 1238.8h0M1738.4 1238.7h0M1753.3 1248.5h0M1749.2 1247.8h0M1739.5 1240.8h0M1753.1 1254.5h0M1767.2 1247h0M1736 1240.4h0M1762.6 1237.1h0M1757 1242.3h0M1735.9 1255.1h0M1766 1236.3h0M1759 1238.3h0M1749.8 1244.3h0M1746.9 1239.4h0M1750.5 1247.3h0M1745.3 1236.2h0M1763.4 1239.2h0M1771.6 1244.8h0M1763.1 1239.3h0M1767.1 1233.6h0M1740.9 1233.6h0M1761.4 1248.3h0M1742.4 1241h0M1767.4 1245.5h0M1738.9 1236.8h0M1741.5 1234.3h0M1751 1233.1h0M1770.6 1241.6h0M1755 1246.8h0M1764.8 1251h0M1750.2 1239.3h0M1751.2 1231.8h0M1750.8 1248.1h0M1773 1250.2h0M1760.7 1245.9h0M1736.2 1239.3h0M1748.6 1246.9h0M1739.5 1240.4h0M1754.9 1250.2h0M1767 1246h0M1741.5 1249.7h0M1770 1244.5h0M1749 1243.3h0M1740.9 1248.4h0M1582.4 1327.2h0M1576 1333.3h0M1563.6 1335.3h0M1573.8 1321.1h0M1560.9 1322h0M1572.6 1330.6h0M1566.7 1335h0M1567.5 1326.1h0M1561.8 1335.9h0M1562.1 1334.6h0M1571.8 1328h0M1572.3 1322.4h0M1580.6 1336.2h0M1578.4 1328.8h0M1561.8 1333h0M1565.8 1334.4h0M1564.6 1328.3h0M1578.7 1320.8h0M1572 1318.8h0M1559.6 1320.7h0M1582.4 1335.2h0M1574.6 1323.2h0M1574.9 1331.4h0M1568 1328.6h0M1578.1 1317.6h0M1563.6 1326.2h0M1562.3 1324.7h0M1572.5 1320.6h0M1571.3 1322.3h0M1572.4 1323.6h0M1572.8 1141.3h0M1573.3 1143.1h0M1577.4 1150.7h0M1570.4 1147.6h0M1572.6 1152.2h0M1574.5 1153.3h0M1570.6 1157.3h0M1575.7 1155h0M1569.5 1147.9h0M1571.8 1155.8h0M1571.2 1149.5h0M1569.8 1155.8h0M1568.2 1141.6h0M1574 1155.7h0M1574.1 1150.7h0M1574.4 1145.8h0M1572.1 1141.9h0M1565.4 1148.2h0M1570.8 1147.3h0M1564.4 1152.3h0" stroke="#C4DFDA" stroke-width="2.6" stroke-linecap="round" fill="none"/>
<path d="M1539.9 1093h0M1566.5 1126.5h0M1561.8 1107.5h0M1559 1091.9h0M1556.2 1118.8h0M1563.5 1082.3h0M1558.3 1084.3h0M1535.4 1099.9h0M1559.4 1105.6h0M1538 1120.3h0M1563.3 1098.6h0M1567 1111.5h0M1564.4 1144.6h0M1686.7 1078.8h0M1657.2 1114.1h0M1714.3 1089.6h0M1683.7 1071.7h0M1731.6 1110.8h0M1736.2 1116.7h0M1665.4 1114.6h0M1683.2 1106.1h0M1700.6 1087.4h0M1665.6 1107.6h0M1689.7 1079.4h0M1720.5 1105.2h0M1458.3 1149.5h0M1491.5 1174.6h0M1585.1 1173h0M1644.9 1190.4h0M1613.3 1162h0M1623.4 1175.9h0M1638.4 1179.6h0M1575.8 1151.7h0M1614.1 1172.7h0M1608 1164.1h0M1659.8 1179.4h0M1619.3 1190.6h0M1585.4 1158.2h0M1593.5 1153h0M1593.9 1182.1h0M1617.3 1164.1h0M1587.2 1158.9h0M1635.7 1192.6h0M1604.6 1169.2h0M1563.6 1175.4h0M1575 1173.7h0M1585.7 1195.6h0M1574.6 1170.6h0M1592 1172.2h0M1567.4 1152.6h0M1587.1 1178.6h0M1585.8 1174h0M1705.2 1205.4h0M1749.7 1218.5h0M1681.8 1208.6h0M1703.7 1222.5h0M1741.2 1217.5h0M1742.8 1211.4h0M1707.3 1229.6h0M1706.4 1226.6h0M1694.5 1205.9h0M1692.2 1215.6h0M1690.8 1199h0M1790.1 1228.2h0M1801.2 1253.7h0M1776.2 1231.6h0M1769.3 1245.8h0M1784.6 1226.6h0M1779.3 1232h0M1753.1 1259.7h0M1737.6 1255.3h0M1762.8 1263.2h0M1755.3 1277.2h0M1607.9 1223.8h0M1631.7 1215.8h0M1664.3 1223.9h0M1657 1230.3h0M1610.2 1226.1h0M1622.2 1214.4h0M1616.5 1232.8h0M1608.7 1223.4h0M1634.3 1231.1h0M1615.5 1236.5h0M1623.6 1237.2h0M1650.1 1217.9h0M1574.9 1251h0M1581 1235.3h0M1575.5 1233.3h0M1571.8 1218.7h0M1562.5 1247h0M1588.9 1255.6h0M1594 1260.9h0M1571.8 1249.9h0M1465.4 1281.8h0M1452.4 1260.4h0M1478.7 1249.9h0M1489 1244.9h0M1458.6 1257.7h0M1487 1233h0M1504.1 1240.7h0M1452.7 1251.4h0M1496.6 1289h0M1494 1288.9h0M1446.4 1256.6h0M1488.8 1276.9h0M1486.4 1249.7h0M1475.5 1309h0M1495.1 1243h0M1504.3 1235h0M1486.5 1280h0M1513.6 1281.3h0M1500.1 1258.6h0M1481.6 1244.5h0M1478.6 1310.8h0M1489.9 1247.9h0M1476.7 1317.9h0M1464.8 1286.8h0M1493.2 1256.8h0M1465.8 1267.3h0M1502.7 1273h0M1500.4 1274.3h0M1474.3 1251.9h0M1523.9 1248.4h0M1508.6 1288.4h0M1518.3 1232.3h0M1500.1 1267h0M1494.9 1254.3h0M1470 1294h0M1492.3 1240.4h0M1466.7 1249.6h0M1460.3 1269.4h0M1568.5 1317h0M1569.3 1299.4h0M1627.6 1271.8h0M1580.2 1303.3h0M1615.8 1285.5h0M1586.4 1320.7h0M1604.3 1297.3h0M1612.2 1284.1h0M1605.7 1333.3h0M1609.3 1295.6h0M1582.7 1318.8h0M1602.4 1301.6h0M1589.4 1289.5h0M1582.5 1295.2h0M1608.2 1321.2h0M1622.3 1278.3h0M1604.2 1278h0M1608.8 1287.1h0M1578.2 1301.5h0M1657.7 1267.9h0M1674.1 1275.9h0M1683.7 1272.2h0M1760.3 1233.2h0M1679.9 1200.5h0" stroke="#A0351A" stroke-width="2.8" stroke-linecap="round" fill="none"/>
<path d="M1550 1332.7h0M1559.5 1357.5h0M1557.1 1345.1h0M1559.3 1358.7h0M1546.4 1354.8h0M1540.8 1344.7h0M1545.4 1353.2h0M1559.5 1344h0M1554 1343.6h0M1543.8 1335.4h0M1544.3 1355.9h0M1540.3 1356h0M1551 1354h0M1538.1 1343.5h0M1549.6 1345.2h0M1543.8 1349.4h0M1561.8 1342.6h0M1546.6 1354.8h0M1539.2 1341.1h0M1555.2 1362.5h0M1543.9 1338.2h0M1538.3 1352.5h0M1545.6 1352.8h0M1540.3 1351.9h0M1562 1359.6h0M1553.7 1348.4h0M1551.7 1336h0M1560.4 1354.3h0M1548.1 1353.5h0M1547 1344.6h0M1540.9 1351.5h0M1551.9 1348.7h0M1547.8 1351.2h0M1552.6 1362h0M1538.4 1347.3h0M1543.6 1355.8h0M1541 1359.1h0M1554.3 1362.2h0M1560.1 1357.7h0M1556.3 1340.3h0M1559.4 1346.8h0M1550.7 1359.9h0M1539.8 1341.3h0M1554.2 1334.7h0M1551.3 1357.4h0M1549.3 1340.1h0M1559.2 1359.5h0M1558.2 1349.8h0M1562.6 1357.7h0M1538.4 1344h0M1544.6 1359.8h0M1539.3 1344.7h0M1560.8 1352h0M1553.7 1360.2h0M1556.9 1338.6h0M1555 1346.1h0M1534 1343.2h0M1543.6 1352.4h0M1542.5 1351.5h0M1555.8 1338.1h0M1537.6 1354.4h0M1548.5 1336.5h0M1553.1 1343.7h0M1555.7 1355.8h0M1545.1 1342.2h0M1546.6 1337h0M1553.8 1345.9h0M1559.8 1345.4h0M1548.2 1348.5h0M1556.1 1339.8h0M1552.1 1341.4h0M1561.5 1341.5h0M1560.9 1353.9h0M1548.1 1362h0M1546 1356h0M1552.8 1346.6h0M1535.6 1345.7h0M1542.5 1346.4h0M1555.8 1353.7h0M1541.4 1345.4h0M1541.6 1345.7h0M1544.5 1358.4h0M1560.8 1351.1h0M1551 1335.5h0M1545.2 1344.3h0" stroke="#A0351A" stroke-width="2.8" stroke-linecap="round" fill="none"/>
<path d="M1415 1038V1390.4H1838.4M1434.3 1390.4v5M1521.7 1390.4v5M1609.2 1390.4v5M1696.6 1390.4v5M1784 1390.4v5M1415 1081.8h-5M1415 1151.7h-5M1415 1221.2h-5M1415 1291.2h-5M1415 1360.6h-5" stroke="#000" stroke-width="1.7" fill="none"/>
<text x="1434.3" y="1416.4" font-size="20" text-anchor="middle" font-family="'Liberation Sans', Arial, sans-serif">−10</text>
<text x="1521.7" y="1416.4" font-size="20" text-anchor="middle" font-family="'Liberation Sans', Arial, sans-serif">−5</text>
<text x="1609.2" y="1416.4" font-size="20" text-anchor="middle" font-family="'Liberation Sans', Arial, sans-serif">0</text>
<text x="1696.6" y="1416.4" font-size="20" text-anchor="middle" font-family="'Liberation Sans', Arial, sans-serif">5</text>
<text x="1784" y="1416.4" font-size="20" text-anchor="middle" font-family="'Liberation Sans', Arial, sans-serif">10</text>
<text x="1406" y="1089" font-size="20" text-anchor="end" font-family="'Liberation Sans', Arial, sans-serif">10</text>
<text x="1406" y="1158.9" font-size="20" text-anchor="end" font-family="'Liberation Sans', Arial, sans-serif">5</text>
<text x="1406" y="1228.4" font-size="20" text-anchor="end" font-family="'Liberation Sans', Arial, sans-serif">0</text>
<text x="1406" y="1298.4" font-size="20" text-anchor="end" font-family="'Liberation Sans', Arial, sans-serif">−5</text>
<text x="1406" y="1367.8" font-size="20" text-anchor="end" font-family="'Liberation Sans', Arial, sans-serif">−10</text>
<text x="1626.6" y="1021.3" font-size="27" font-weight="bold" text-anchor="middle" font-family="'Liberation Sans', Arial, sans-serif">ARHGAP28</text>
<text x="1626.6" y="1444.5" font-size="23" text-anchor="middle" font-family="'Liberation Sans', Arial, sans-serif">UMAP_1</text>
<text x="1358" y="1214" font-size="23" text-anchor="middle" font-family="'Liberation Sans', Arial, sans-serif" transform="rotate(-90 1358 1214)">UMAP_2</text>
<defs><linearGradient id="cbd" x1="0" y1="1" x2="0" y2="0"><stop offset="0" stop-color="#C6F6FA"/><stop offset="0.28" stop-color="#C9CCC6"/><stop offset="0.55" stop-color="#C0907A"/><stop offset="1" stop-color="#8E2A0C"/></linearGradient></defs>
<rect x="1863" y="1155" width="24.5" height="130" fill="url(#cbd)"/>
<path d="M1863 1162.1h4.9M1887.5 1162.1h-4.9M1863 1188.6h4.9M1887.5 1188.6h-4.9M1863 1215.1h4.9M1887.5 1215.1h-4.9M1863 1241.5h4.9M1887.5 1241.5h-4.9M1863 1267.5h4.9M1887.5 1267.5h-4.9" stroke="#fff" stroke-width="1" fill="none"/>
<text x="1900" y="1169.3" font-size="20" font-family="'Liberation Sans', Arial, sans-serif">4</text>
<text x="1900" y="1195.8" font-size="20" font-family="'Liberation Sans', Arial, sans-serif">3</text>
<text x="1900" y="1222.3" font-size="20" font-family="'Liberation Sans', Arial, sans-serif">2</text>
<text x="1900" y="1248.7" font-size="20" font-family="'Liberation Sans', Arial, sans-serif">1</text>
<text x="1900" y="1274.7" font-size="20" font-family="'Liberation Sans', Arial, sans-serif">0</text>
<path d="M1446.4 1768.1L1449.4 1763.9L1452.4 1759.6L1455.4 1755.1L1458.3 1750.5L1461.3 1745.7L1464.2 1741.1L1466.8 1736.6L1469.4 1732.3L1471.8 1728.1L1473.9 1723.5L1475.6 1718.4L1477.1 1712.9L1478.3 1706.9L1479.3 1701.3L1480 1695.9L1480.6 1690.8L1480.9 1686L1481.2 1681.4L1481.5 1676.9L1481.8 1672.6L1482.1 1668.4L1482.6 1664.4L1483.3 1660.5L1484.3 1656.8L1485.5 1653.2L1487.3 1649.8L1489.7 1646.5L1492.6 1643.4L1496.2 1640.4L1500.1 1637.3L1504.3 1634L1508.8 1630.5L1513.5 1627L1518.3 1623.4L1523.1 1619.8L1527.9 1616.2L1532.6 1612.6L1537.4 1609.1L1542.2 1605.5L1546.9 1601.9L1551.7 1598.3L1556.5 1594.6L1561.3 1590.7L1566 1586.7L1570.8 1582.5L1575.3 1578.8L1579.5 1575.5L1583.3 1572.7L1586.9 1570.3L1590.5 1568.3L1594.1 1566.9L1597.7 1565.8L1601.2 1565.2L1604.4 1565.2L1607.1 1565.8L1609.3 1567L1611.1 1568.8L1612.4 1571.2L1613.3 1574.2L1613.8 1577.7L1613.8 1581.9L1613.3 1585.7L1612.4 1588.9L1611.1 1591.8L1609.3 1594.2L1607.4 1596.4L1605.3 1598.5L1603 1600.4L1600.6 1602.2L1598 1604.1L1595 1606.2L1591.7 1608.5L1588.1 1610.9L1584.7 1613.4L1581.4 1616.1L1578.3 1618.9L1575.3 1621.9L1572.2 1624.7L1568.9 1627.4L1565.4 1630L1561.9 1632.3L1558.7 1635L1556 1638L1553.8 1641.3L1552 1644.9L1549.9 1648.3L1547.5 1651.6L1544.9 1654.7L1541.9 1657.7L1538.6 1660.5L1535 1663.2L1531.1 1665.8L1527 1668.1L1522.8 1670.4L1518.6 1672.5L1514.4 1674.4L1510.3 1676.2L1506.4 1677.8L1502.8 1679.3L1499.5 1680.7L1496.5 1681.9L1493.7 1683.4L1491 1685.1L1488.5 1687.2L1486.1 1689.6L1484.4 1692.6L1483.6 1696.2L1483.4 1700.4L1484 1705.1L1484.8 1709.9L1485.9 1714.7L1487.1 1719.5L1488.6 1724.2L1489.8 1729.3L1490.7 1734.7L1491.3 1740.3L1491.6 1746.3L1491.5 1752.1L1491.1 1757.8L1490.3 1763.3L1489.1 1768.7L1487.6 1773L1485.8 1776.3L1483.7 1778.5L1481.3 1779.7L1478.5 1780.5L1475.2 1780.8L1471.5 1780.6L1467.3 1780L1463.3 1779.5L1459.4 1779L1455.7 1778.7L1452.1 1778.4L1449.1 1777.9L1446.7 1777.3L1444.9 1776.6L1443.7 1775.7L1443.6 1774L1444.5 1771.4ZM1598.9 1607.6L1600 1609.4L1601.5 1610.9L1603.3 1612.1L1605.4 1612.9L1607.8 1613.5L1610.5 1614.3L1613.5 1615.2L1616.8 1616.2L1620.3 1617.4L1623.9 1618.8L1627.5 1620.5L1631.1 1622.3L1634.7 1624.4L1637.2 1626.2L1638.7 1627.6L1639.1 1628.7L1638.5 1629.5L1637 1629.6L1634.7 1629L1631.4 1627.7L1627.2 1625.7L1623.3 1624.2L1619.7 1623.1L1616.5 1622.3L1613.5 1622L1611.2 1622.3L1609.5 1623L1608.6 1624.3L1608.3 1626.1L1607.4 1627.4L1605.9 1628.4L1603.8 1628.9L1601.1 1629.1L1599.2 1628.4L1598.2 1626.9L1598 1624.6L1598.6 1621.5L1598.9 1618.4L1598.9 1615.4L1598.6 1612.4L1598 1609.4L1597.8 1607.6L1598.1 1607ZM1645.8 1607L1647.3 1605.2L1649 1603.8L1651 1602.7L1653.2 1602.1L1655.5 1601.8L1657.9 1601.8L1660.3 1602.1L1662.7 1602.7L1665.1 1603.6L1666.7 1604.6L1667.6 1605.8L1667.8 1607.1L1667.2 1608.6L1666 1609.9L1664.2 1610.9L1661.8 1611.8L1658.8 1612.4L1656 1612.8L1653.3 1613.1L1650.8 1613.2L1648.4 1613.2L1646.5 1613L1645.2 1612.6L1644.3 1611.9L1644.1 1611L1644.2 1609.9L1644.8 1608.5ZM1704.9 1597.4L1707.6 1595.6L1710.7 1594L1714.1 1592.5L1717.9 1591.2L1722.1 1590L1725.9 1589.7L1729.5 1590.3L1732.8 1591.8L1735.8 1594.2L1738.5 1597.1L1740.9 1600.7L1742.9 1604.9L1744.7 1609.7L1746.2 1614.3L1747.4 1618.8L1748.3 1623.1L1748.9 1627.3L1749.1 1631.3L1748.8 1635.2L1748 1638.9L1746.8 1642.5L1745.5 1645.6L1744 1648.3L1742.4 1650.5L1740.6 1652.3L1738.9 1654.3L1737.4 1656.4L1736.1 1658.6L1734.9 1661L1734.1 1663.7L1733.8 1666.6L1734 1669.9L1734.6 1673.5L1735.3 1676.3L1736.2 1678.4L1737.3 1679.8L1738.5 1680.4L1738.8 1680.8L1738.2 1681.1L1736.7 1681.3L1734.3 1681.3L1732.4 1680.2L1730.9 1678.1L1729.8 1675L1729.2 1670.8L1728.5 1667.2L1727.6 1664.3L1726.5 1661.9L1725.3 1660.1L1723.9 1659.2L1722.1 1659.2L1720 1660.1L1717.6 1661.9L1715.4 1663.2L1713.3 1664.1L1711.3 1664.6L1709.5 1664.6L1707.9 1663.7L1706.4 1661.9L1705.1 1659.2L1703.9 1655.6L1703 1651.6L1702.4 1647.1L1702.1 1642.2L1702.1 1636.8L1702.1 1631.7L1702.1 1627L1702.1 1622.5L1702.1 1618.3L1702 1614.4L1701.9 1610.9L1701.6 1607.6L1701.3 1604.6L1701.8 1601.9L1703 1599.5ZM1646.7 1655L1648.8 1655L1650.5 1655.6L1651.9 1656.8L1652.9 1658.6L1653.4 1661L1654 1663.7L1654.4 1666.6L1654.8 1669.9L1655.1 1673.5L1655.4 1676.9L1655.7 1680.2L1656 1683.4L1656.3 1686.3L1656.1 1688.7L1655.5 1690.5L1654.5 1691.7L1653 1692.3L1651.7 1692L1650.7 1690.8L1649.9 1688.7L1649.3 1685.7L1648.7 1682.8L1648.1 1679.8L1647.5 1676.8L1646.9 1673.8L1646.3 1670.7L1645.7 1667.4L1645.1 1664L1644.5 1660.4L1644.6 1657.7L1645.3 1655.9ZM1568.1 1669.9L1571.1 1668.7L1574.4 1667.7L1578 1666.8L1581.8 1666.1L1586 1665.5L1589.9 1665.2L1593.5 1665.2L1596.8 1665.5L1599.7 1666.1L1601.8 1666.8L1603 1667.7L1603.3 1668.7L1602.7 1669.9L1601.4 1671.2L1599.3 1672.5L1596.5 1674L1592.9 1675.4L1589.3 1676.5L1585.7 1677.1L1582.1 1677.2L1578.6 1676.9L1575.3 1676.4L1572.3 1675.7L1569.6 1674.7L1567.2 1673.5L1566.2 1672.3L1566.5 1671.1ZM1534.7 1686.9L1537.7 1687.5L1540.8 1688.2L1544.1 1688.9L1547.5 1689.8L1551.1 1690.7L1554.3 1691.3L1556.9 1691.6L1559.2 1691.6L1561 1691.3L1562.9 1691.2L1565 1691.3L1567.2 1691.7L1569.6 1692.3L1571.6 1693.3L1573 1694.8L1574.1 1696.8L1574.7 1699.2L1574.4 1701L1573.2 1702.1L1571.1 1702.7L1568.1 1702.7L1565.3 1702.7L1562.6 1702.7L1560.1 1702.7L1557.7 1702.7L1555.1 1702.3L1552.5 1701.4L1549.6 1700.1L1546.6 1698.3L1543.8 1696.6L1541.1 1695.1L1538.6 1693.8L1536.2 1692.6L1534.3 1691.4L1532.8 1690.2L1531.7 1689L1531.1 1687.8L1531.4 1687.1L1532.6 1686.8ZM1601.5 1697.8L1604.5 1696.9L1607.5 1696.2L1610.5 1695.6L1613.5 1695.1L1616.5 1694.8L1619.4 1694.8L1622.4 1695.1L1625.4 1695.7L1628.4 1696.6L1630.5 1697.6L1631.7 1698.6L1632 1699.8L1631.4 1701L1630.5 1702.1L1629.3 1703.3L1627.8 1704.5L1626 1705.7L1624.5 1707.1L1623.3 1708.6L1622.4 1710.2L1621.8 1712L1621.1 1712.9L1620.2 1712.9L1619.1 1712L1617.9 1710.2L1616.5 1708.7L1614.7 1707.5L1612.6 1706.6L1610.2 1706L1608 1705.4L1605.9 1704.8L1603.9 1704.2L1602.1 1703.6L1600.6 1703L1599.5 1702.2L1598.6 1701.4L1598 1700.5L1598.3 1699.6L1599.5 1698.7ZM1676.1 1702.9L1677.9 1701.4L1679.6 1700.5L1681.3 1700.2L1682.8 1700.5L1684.3 1701.4L1685.2 1702.7L1685.5 1704.3L1685.2 1706.3L1684.3 1708.7L1683.2 1710.7L1681.9 1712.1L1680.3 1713.2L1678.5 1713.8L1677 1713.6L1675.8 1712.7L1674.9 1711.1L1674.3 1708.7L1674.3 1706.5L1674.9 1704.6ZM1617.9 1740.3L1619.1 1736.8L1620.8 1733.6L1622.9 1730.9L1625.4 1728.7L1628.4 1726.9L1631.7 1725.4L1635.3 1724.2L1639.1 1723.3L1643.3 1722.7L1647.3 1722.3L1651.2 1722L1654.9 1721.8L1658.5 1721.8L1661.5 1722.4L1663.9 1723.6L1665.7 1725.4L1666.9 1727.8L1667.9 1730.5L1668.8 1733.5L1669.6 1736.8L1670.2 1740.3L1670.3 1743.8L1670 1747L1669.3 1750.2L1668.1 1753.2L1666.7 1756L1665.2 1758.7L1663.6 1761.2L1661.8 1763.6L1659.6 1765.8L1656.9 1767.7L1653.7 1769.4L1650.2 1770.9L1646.7 1772L1643.5 1772.8L1640.3 1773.2L1637.3 1773.2L1634.4 1772.6L1631.4 1771.6L1628.4 1770L1625.4 1767.9L1622.9 1765.8L1620.8 1763.5L1619.1 1761.2L1617.9 1758.8L1617.1 1756.4L1616.5 1754.1L1616.2 1751.7L1616.2 1749.3L1616.5 1746.6L1617.1 1743.6ZM1544 1761.2L1545.2 1758.8L1546.6 1756.8L1548.4 1755.2L1550.5 1753.9L1552.9 1753L1555.4 1752.4L1558.1 1752.1L1561 1752.1L1563.9 1752.4L1566.8 1752.9L1569.5 1753.7L1572 1754.7L1574.4 1755.8L1576.3 1756.1L1577.8 1755.5L1578.9 1754.1L1579.5 1751.7L1580.1 1749.7L1580.9 1748.2L1581.7 1747.2L1582.6 1746.6L1583.2 1746.7L1583.5 1747.6L1583.5 1749.3L1583.2 1751.7L1582.8 1754.1L1582.4 1756.4L1581.8 1758.8L1581.3 1761.2L1580.7 1763.9L1580.1 1766.9L1579.5 1770.2L1578.9 1773.7L1578.1 1777.3L1577.2 1780.9L1576.2 1784.5L1575 1788.1L1573.8 1791.2L1572.6 1793.9L1571.4 1796.1L1570.2 1797.9L1568.9 1799.5L1567.4 1800.8L1565.7 1801.9L1563.9 1802.8L1562.2 1803.1L1560.4 1802.8L1558.6 1801.9L1556.8 1800.4L1555.1 1798.6L1553.7 1796.3L1552.3 1793.7L1551.1 1790.8L1549.9 1787.8L1548.7 1784.8L1547.5 1781.8L1546.3 1778.8L1545.3 1776L1544.4 1773.3L1543.7 1770.8L1543.1 1768.4L1542.9 1766L1543.2 1763.6ZM1689.5 1791.3L1690.7 1788.4L1692.1 1785.8L1693.6 1783.7L1695.2 1782.1L1697 1780.9L1698.9 1780.2L1701 1779.9L1703.3 1780L1705.7 1780.6L1707.9 1781.4L1710 1782.2L1711.9 1783.3L1713.7 1784.5L1715.5 1784.6L1717.3 1783.7L1719.1 1781.8L1720.9 1778.8L1722.7 1775.7L1724.5 1772.4L1726.2 1769L1728 1765.4L1729.7 1761.8L1731.2 1758.2L1732.5 1754.7L1733.7 1751.1L1735 1747.5L1736.5 1743.9L1738.2 1740.3L1740 1736.8L1742.1 1733.5L1744.4 1730.5L1747.1 1727.8L1750.1 1725.4L1753.2 1723.3L1756.5 1721.5L1760 1720L1763.5 1718.9L1767 1717.7L1770.2 1716.5L1773.4 1715.3L1776.4 1714.1L1779 1712.7L1781.4 1711.2L1783.5 1709.6L1785.3 1707.8L1787.5 1706.3L1790.2 1705.1L1793.4 1704.2L1796.9 1703.6L1800.2 1703.5L1803.2 1703.8L1805.9 1704.5L1808.3 1705.7L1810.1 1707.2L1811.5 1709L1812.3 1711.1L1812.6 1713.5L1812.2 1715.7L1811 1717.8L1809 1719.7L1806.3 1721.5L1803.4 1723L1800.3 1724.2L1796.9 1725.1L1793.4 1725.7L1789.5 1726.3L1785.3 1726.9L1780.8 1727.5L1776.1 1728.1L1771.7 1728.7L1767.9 1729.3L1764.4 1729.9L1761.4 1730.5L1758.8 1731.5L1756.4 1733L1754.3 1735L1752.5 1737.4L1750.7 1740.3L1748.9 1743.9L1747.1 1748.1L1745.3 1752.9L1743.8 1757.5L1742.6 1762L1741.8 1766.3L1741.2 1770.5L1741 1774.3L1741.3 1777.9L1742.1 1781.2L1743.2 1784.2L1744.3 1787.3L1745.2 1790.6L1745.9 1794L1746.5 1797.6L1746.5 1800.7L1745.9 1803.4L1744.7 1805.7L1742.9 1807.5L1740.9 1809.1L1738.5 1810.6L1735.8 1811.9L1732.8 1813.1L1729.5 1814.1L1725.9 1814.8L1722.1 1815.4L1717.9 1815.7L1713.9 1815.5L1710 1814.9L1706.3 1813.9L1702.7 1812.4L1699.5 1810.8L1696.9 1809.2L1694.6 1807.5L1692.8 1805.7L1691.3 1803.9L1690.1 1802.1L1689.2 1800.3L1688.7 1798.5L1688.5 1796.4L1688.8 1794ZM1767.1 1784.5L1770.7 1784L1774.6 1783.7L1778.7 1783.4L1783.2 1783.1L1788 1783L1791.5 1783.1L1793.7 1783.6L1794.7 1784.5L1794.4 1785.7L1793.1 1786.6L1790.7 1787.2L1787.2 1787.5L1782.8 1787.5L1778.7 1787.5L1774.9 1787.5L1771.6 1787.5L1768.6 1787.5L1766.2 1787.3L1764.4 1787L1763.2 1786.6L1762.6 1786L1763.1 1785.4L1764.6 1784.9ZM1503.4 1839.2L1504.6 1837.1L1505.9 1835.1L1507.2 1833.2L1508.6 1831.3L1510.1 1829.5L1511.4 1828.5L1512.4 1828.2L1513.2 1828.6L1513.8 1829.8L1514.3 1831.3L1514.6 1833.1L1514.7 1835.2L1514.7 1837.6L1514.2 1839.5L1513.2 1841L1511.6 1842.1L1509.5 1842.7L1507.6 1843L1506 1843.2L1504.6 1843.1L1503.4 1842.8L1502.8 1842.1L1502.8 1840.9ZM1582.3 1845L1584.4 1844.5L1586.5 1844.2L1588.8 1844.2L1591.1 1844.5L1593.5 1845L1595.6 1845.9L1597.4 1847.1L1598.9 1848.6L1600 1850.4L1601.5 1852.7L1603.3 1855.3L1605.4 1858.5L1607.8 1862.1L1609.6 1865.1L1610.8 1867.6L1611.4 1869.7L1611.4 1871.2L1610.8 1872L1609.6 1872.3L1607.8 1872L1605.4 1871.2L1603 1870.2L1600.6 1869.1L1598.3 1868L1595.9 1866.8L1593.5 1865.6L1591.1 1864.4L1588.7 1863.2L1586.3 1862.1L1584.4 1860.7L1582.9 1859.2L1581.8 1857.6L1581.3 1855.8L1580.7 1854L1580.3 1852.2L1579.9 1850.4L1579.6 1848.6L1579.9 1847.1L1580.8 1845.9ZM1614.1 1842.5L1615.9 1841L1617.4 1839.3L1618.5 1837.4L1619.4 1835.2L1620 1832.8L1620.9 1831.2L1622.1 1830.3L1623.6 1830.1L1625.4 1830.7L1627.5 1831.5L1629.9 1832.4L1632.6 1833.4L1635.5 1834.6L1638.4 1835.9L1641.1 1837.4L1643.6 1839.1L1646 1840.9L1647.6 1842.5L1648.5 1844L1648.7 1845.3L1648.1 1846.5L1646.9 1847.2L1645.1 1847.4L1642.7 1847L1639.7 1846.1L1636.6 1845.4L1633.3 1845L1629.9 1844.7L1626.3 1844.7L1623 1844.7L1620 1844.7L1617.4 1844.7L1615 1844.7L1613.6 1844.4L1613.3 1843.6ZM1497.1 1750.2L1498.9 1748.4L1500.6 1747.2L1502.3 1746.6L1503.8 1746.6L1505.3 1747.2L1506.5 1748.7L1507.4 1751.1L1508 1754.4L1508.3 1758.5L1508.1 1761.7L1507.3 1764L1506.1 1765.2L1504.3 1765.5L1502.6 1765.4L1500.9 1764.8L1499.4 1763.8L1497.9 1762.3L1496.7 1760.7L1495.8 1759.1L1495.2 1757.3L1494.9 1755.5L1495.1 1753.8L1495.9 1752Z" fill="#BEEBEC" stroke="#BEEBEC" stroke-width="2.5" stroke-linejoin="round"/>
<path d="M1475.9 1707.3h0M1554.5 1597.9h0M1559 1590.4h0M1561.1 1587.1h0M1565.5 1586.6h0" stroke="#BEEBEC" stroke-width="2.6" stroke-linecap="round" fill="none"/>
<path d="M1500.9 1652.4h0M1453.9 1762.4h0M1549.3 1600.5h0M1472.7 1741h0M1511.7 1655.5h0M1504.2 1643.5h0M1505.4 1675.4h0M1609.2 1614.8h0M1609.5 1617.8h0M1605.6 1623.9h0M1714.1 1660.3h0M1647.3 1655.3h0M1650.4 1655.9h0M1654.3 1678.9h0M1647.2 1674.7h0M1650.1 1678.4h0M1650.6 1681h0M1652.8 1663h0M1647.9 1664.5h0M1629.2 1744.2h0M1650 1769h0M1638.8 1752h0M1647.6 1739.7h0M1636.1 1759.6h0M1646.7 1722.7h0M1654.6 1768.2h0M1665.5 1749.3h0M1658.9 1741.3h0M1621.5 1740h0M1633.1 1769.8h0M1653.5 1749.6h0M1649.8 1728.2h0M1645.1 1757.8h0M1637.5 1734.4h0M1638.2 1738.4h0M1653.3 1729.1h0M1621.1 1737.9h0M1653.8 1760.8h0M1651.9 1769.8h0M1642.6 1744.6h0M1625.9 1756.1h0M1634.6 1734.1h0M1633.9 1770.3h0M1631.3 1732.2h0M1639.6 1733.1h0M1665.9 1747.5h0M1654 1730.2h0M1641.3 1753h0M1553.1 1772.6h0M1552.1 1777h0M1573.8 1768.9h0M1570.2 1784.1h0M1570.5 1766.4h0M1572.6 1764.8h0M1563.2 1767h0M1555.4 1754.3h0M1552.1 1777.4h0M1575.5 1762.7h0M1558.7 1796h0M1579.3 1764.7h0M1548 1782.8h0M1577.1 1781h0M1574.7 1769.9h0M1568 1761.5h0M1559.4 1768.1h0M1558.5 1769.2h0M1575.7 1756.2h0M1551.2 1761h0M1557.5 1788.1h0M1555.3 1754.4h0M1543.9 1764h0M1555 1757.3h0M1550.4 1764.2h0M1564.7 1772h0M1564.3 1783.4h0M1575.4 1775.2h0M1568.7 1773h0M1568.6 1768.6h0M1559.8 1775.8h0M1571.9 1762.3h0M1560.2 1769.5h0M1567.6 1789.2h0M1581.4 1748.2h0M1562.2 1758.3h0M1573.6 1770.5h0M1565 1764.5h0M1567.5 1800.5h0M1567.3 1784.4h0M1562.5 1787.9h0M1556.7 1768.2h0M1562.6 1757.6h0M1568.3 1776.9h0M1557.6 1759.6h0M1558.6 1781.2h0M1548.1 1777.2h0M1553.1 1770.3h0M1568.6 1756.4h0M1565.2 1780.3h0M1566.3 1768h0M1555.5 1766.7h0M1563.3 1772.6h0M1549.9 1769.2h0M1551.2 1764.8h0M1557.8 1766.4h0M1556.4 1783.8h0M1559 1775.8h0M1553.1 1792.4h0M1549.9 1771.4h0M1554.4 1794.2h0M1552.4 1757.7h0M1568.8 1782.6h0M1566.8 1773.7h0M1561.8 1766.9h0M1571.9 1789.1h0M1552.6 1776.3h0M1572.4 1775h0M1569.8 1781.4h0M1571.9 1766.7h0M1558.8 1801.3h0M1579.5 1755.2h0M1576.9 1770.4h0M1555.7 1761.2h0M1555.4 1755.6h0M1558.3 1774.3h0M1804.3 1719.9h0M1716.8 1800h0M1711.9 1805.6h0M1711.5 1797.5h0M1734.7 1804.5h0M1596.4 1861.7h0M1603.3 1858.9h0M1604.3 1863.2h0M1607.2 1862.5h0M1591.2 1852.2h0M1582.2 1847.6h0M1596.5 1849.1h0M1605.9 1868.4h0M1592.4 1862.8h0M1588.6 1860.2h0M1601.9 1865.3h0M1640 1837.6h0M1635.3 1836.3h0M1628 1835.7h0M1633.3 1839.4h0M1636.7 1842.3h0M1620.6 1832.2h0M1500.7 1762.1h0" stroke="#B4634A" stroke-width="2.4" stroke-linecap="round" fill="none"/>
<path d="M1512.1 1834.7h0M1513.7 1832.9h0M1503.4 1842.6h0M1513.3 1838.1h0M1508.9 1838.3h0M1508.4 1839.8h0M1512.9 1838.4h0M1509.8 1830.7h0M1508.4 1834.9h0M1510.2 1833.1h0M1509 1834.7h0M1510.5 1837.9h0M1509.8 1830.7h0M1505.6 1839.1h0M1508.6 1841.5h0M1514 1837.3h0M1511.1 1836.5h0M1504.6 1842.8h0M1508.7 1841.8h0M1509.3 1831.9h0M1513.1 1832.1h0M1506 1842.4h0M1513.3 1838.2h0M1512.7 1830.1h0M1513.1 1830.9h0M1503.5 1841.8h0M1513.4 1832.1h0M1511.4 1830h0M1510.6 1830.7h0M1509.9 1839.3h0M1513.3 1834.7h0M1514.5 1834.3h0M1506.1 1838.6h0M1513.4 1832h0M1512 1835.3h0M1513.9 1838.4h0M1507.5 1838.6h0M1510.6 1838.6h0M1503.9 1841.5h0M1511 1839.4h0M1512.7 1832.9h0M1506.3 1839.1h0M1503.4 1841.3h0M1506.5 1838.9h0M1513.9 1839h0M1511.6 1831.6h0M1504.1 1842.9h0M1511 1839h0M1504.5 1840.1h0M1505.3 1842.7h0M1510.2 1829.6h0M1503.8 1839.4h0M1507 1835.4h0M1508.7 1834.6h0M1512 1838.8h0M1507.8 1834.4h0M1503.7 1841.1h0M1503.5 1841.6h0M1509.7 1837.9h0M1508.5 1841h0" stroke="#A9573C" stroke-width="2.4" stroke-linecap="round" fill="none"/>
<path d="M1411.6 1542.7V1892.9H1833.7M1471.6 1892.9v5M1540.1 1892.9v5M1608.7 1892.9v5M1677.2 1892.9v5M1745.8 1892.9v5M1813.8 1892.9v5M1411.6 1580.5h-5M1411.6 1690.2h-5M1411.6 1800.3h-5" stroke="#000" stroke-width="1.7" fill="none"/>
<text x="1471.6" y="1918.9" font-size="20" text-anchor="middle" font-family="'Liberation Sans', Arial, sans-serif">−10</text>
<text x="1540.1" y="1918.9" font-size="20" text-anchor="middle" font-family="'Liberation Sans', Arial, sans-serif">−5</text>
<text x="1608.7" y="1918.9" font-size="20" text-anchor="middle" font-family="'Liberation Sans', Arial, sans-serif">0</text>
<text x="1677.2" y="1918.9" font-size="20" text-anchor="middle" font-family="'Liberation Sans', Arial, sans-serif">5</text>
<text x="1745.8" y="1918.9" font-size="20" text-anchor="middle" font-family="'Liberation Sans', Arial, sans-serif">10</text>
<text x="1813.8" y="1918.9" font-size="20" text-anchor="middle" font-family="'Liberation Sans', Arial, sans-serif">15</text>
<text x="1402.6" y="1587.7" font-size="20" text-anchor="end" font-family="'Liberation Sans', Arial, sans-serif">10</text>
<text x="1402.6" y="1697.4" font-size="20" text-anchor="end" font-family="'Liberation Sans', Arial, sans-serif">0</text>
<text x="1402.6" y="1807.5" font-size="20" text-anchor="end" font-family="'Liberation Sans', Arial, sans-serif">−10</text>
<text x="1622.9" y="1525.2" font-size="27" font-weight="bold" text-anchor="middle" font-family="'Liberation Sans', Arial, sans-serif">Arhgap28</text>
<text x="1622.9" y="1947" font-size="23" text-anchor="middle" font-family="'Liberation Sans', Arial, sans-serif">UMAP_1</text>
<text x="1356" y="1717.6" font-size="23" text-anchor="middle" font-family="'Liberation Sans', Arial, sans-serif" transform="rotate(-90 1356 1717.6)">UMAP_2</text>
<defs><linearGradient id="cbe" x1="0" y1="1" x2="0" y2="0"><stop offset="0" stop-color="#C6F6FA"/><stop offset="0.28" stop-color="#C9CCC6"/><stop offset="0.55" stop-color="#C0907A"/><stop offset="1" stop-color="#8E2A0C"/></linearGradient></defs>
<rect x="1857.3" y="1658.5" width="25.5" height="130" fill="url(#cbe)"/>
<path d="M1857.3 1662.3h5.1M1882.8 1662.3h-5.1M1857.3 1686.9h5.1M1882.8 1686.9h-5.1M1857.3 1710.5h5.1M1882.8 1710.5h-5.1M1857.3 1734.1h5.1M1882.8 1734.1h-5.1M1857.3 1757.8h5.1M1882.8 1757.8h-5.1M1857.3 1782.3h5.1M1882.8 1782.3h-5.1" stroke="#fff" stroke-width="1" fill="none"/>
<text x="1895" y="1669.5" font-size="20" font-family="'Liberation Sans', Arial, sans-serif">5</text>
<text x="1895" y="1694.1" font-size="20" font-family="'Liberation Sans', Arial, sans-serif">4</text>
<text x="1895" y="1717.7" font-size="20" font-family="'Liberation Sans', Arial, sans-serif">3</text>
<text x="1895" y="1741.3" font-size="20" font-family="'Liberation Sans', Arial, sans-serif">2</text>
<text x="1895" y="1765" font-size="20" font-family="'Liberation Sans', Arial, sans-serif">1</text>
<text x="1895" y="1789.5" font-size="20" font-family="'Liberation Sans', Arial, sans-serif">0</text>
<path d="M251.8 2436.7h0M107.7 2328h0M217 2314.7h0M155.8 2409.4h0M197.5 2347.3h0M193.1 2432.7h0M212 2340.8h0M234.1 2432.4h0M242.3 2443.3h0M143.8 2413h0M154.4 2450h0M206.6 2372.8h0M219.3 2320.5h0M189.7 2328h0M231.2 2414h0M194.6 2402.6h0M172.6 2408.7h0M200.5 2314h0M161.8 2409.3h0M160.9 2372.4h0M178 2390.2h0M116.6 2334h0M116.5 2336.1h0M163.4 2394.9h0M227.1 2379.2h0M241.5 2371.8h0M145.4 2327.2h0M171.3 2410.3h0M196.5 2431.6h0M138.2 2390.4h0M192.2 2345.7h0M147.1 2349.5h0M210.5 2318.7h0M196.9 2345.2h0M179.3 2386h0M144.3 2402.3h0M147.5 2359.1h0M146.5 2430.4h0M138.5 2430.7h0M119.7 2426.4h0M174.5 2388.4h0M197.9 2348.7h0M181.4 2336.9h0M158.9 2445.2h0M215.5 2400.9h0M173.3 2399.2h0M215.2 2333.3h0M133.4 2363.3h0M156.4 2364.5h0M217.5 2352.1h0M201.3 2327.6h0M158.4 2365.4h0M243.1 2389.9h0M241.7 2410.9h0M150.2 2434.1h0M210.9 2384h0M137.8 2372.3h0M124.4 2435.8h0M232.3 2350h0M154.1 2382.5h0M200.8 2319.6h0M259.9 2341.5h0M139.1 2375.7h0M118.7 2379.7h0M178.5 2388.1h0M173.7 2340h0M160.3 2367.8h0M133.7 2385.5h0M237.2 2388.2h0M136.7 2437.1h0M180.2 2317.5h0M234.3 2368.9h0M190.8 2397.9h0M139.6 2398.7h0M244.4 2413.4h0M184.4 2396h0M227.4 2405.5h0M139.8 2404.6h0M232.8 2339.9h0M190.8 2334.2h0M234.1 2334.6h0M250 2336.1h0M174.3 2371h0M237.3 2383.5h0M205.5 2333.5h0M142.4 2427.3h0M162.4 2353.5h0M204.2 2317.8h0M228.7 2344.4h0M178.8 2319.9h0M194.9 2331.2h0M119 2402.7h0M156.3 2391.9h0M249.5 2375.9h0M176.6 2367.4h0M207 2435.3h0M167 2372.5h0M196.7 2387.4h0M142.9 2388.6h0M189.9 2399.7h0M122.6 2393.6h0M213.9 2335.4h0M134.4 2404.7h0M176.8 2384.4h0M197.2 2363.4h0M186.7 2399.5h0M107.6 2438h0M240.7 2415.5h0M128.3 2351.6h0M137.5 2354h0M247.3 2438.9h0M222.8 2378.5h0M231.2 2435.1h0M189.5 2414.2h0M168.6 2443.4h0M165.7 2386.3h0M151.5 2352.3h0M153.5 2334.9h0M130.8 2376.3h0M182.9 2379.2h0M230.7 2412.1h0M222.8 2325.2h0M151.2 2383.3h0M164.6 2440.5h0M183.5 2449.2h0M158.3 2425.1h0M224 2307.9h0M231 2389.9h0M235.5 2398.3h0M156.2 2439.1h0M191.6 2380h0M214.3 2305.5h0M132.7 2391.6h0M233.2 2350.3h0M173.2 2383.4h0M113.9 2408.4h0M107.6 2316h0M148.3 2447.9h0M173 2380h0M119.9 2403.6h0M229.3 2363.9h0M178.1 2357.7h0M242.9 2401h0M116.5 2390h0M220 2356.9h0M141.9 2369.6h0M172.9 2403.1h0M138 2382.7h0M236.8 2364.6h0M151.2 2377.2h0M107.6 2393.6h0M156.2 2399.9h0M221.5 2320.6h0M141.3 2381.9h0M157.3 2382.4h0M202 2382h0M194 2367.5h0M247.5 2400h0M215.7 2338.1h0M131.7 2381.3h0M187 2431.9h0M212.4 2358.2h0M139.1 2428.9h0M107.6 2364.7h0M140.9 2394.2h0M122.6 2422.1h0M189.8 2384.5h0M162.2 2395h0M218.6 2329.9h0M218.6 2396.4h0M164.5 2416.2h0M190.6 2398.2h0M127.4 2425.1h0M197.7 2333.4h0M251.2 2338.7h0M237.8 2369.1h0M119.6 2378.1h0M205.1 2318h0M250.7 2381.2h0M135.7 2405.8h0M200.8 2331.2h0M243.6 2437.7h0M145.4 2392.5h0M196.6 2366h0M166.7 2375.2h0M166.4 2338.9h0M132.8 2357.4h0M222.6 2347.2h0M229 2375h0M125.6 2394.9h0M118.5 2397.3h0M203.7 2333.8h0M238.3 2375.8h0M188 2449.8h0M206 2360.9h0M202.1 2390.9h0M209.6 2326.5h0M147.1 2385.1h0M164.4 2389.5h0M158.1 2433.2h0M186.5 2392.6h0M197.1 2442.8h0M201.5 2316.5h0M167.3 2441.2h0M210.5 2324.9h0M116.7 2383.9h0M131.8 2384.6h0M107.6 2342.7h0M170.6 2387.2h0M123.5 2402.4h0M177.3 2390.8h0M226.6 2399.8h0M232.5 2381.4h0M125.8 2390.8h0M168.8 2308.6h0M160.4 2364.6h0M123.7 2345h0M119.3 2421h0M170.1 2443.4h0M246.8 2406.1h0M127.6 2325h0M240.2 2307h0M119.1 2390h0M163.2 2443.7h0M139.8 2381.2h0M198.9 2322h0M132.6 2435.7h0M115.8 2398.7h0M236.1 2402.7h0M165.5 2364.8h0M153.7 2392.9h0M185.4 2366.4h0M152.4 2452.3h0M141.6 2404.9h0M115.5 2363.9h0M175.8 2357.7h0M195.6 2353.3h0M182.9 2376.6h0M143.4 2424.5h0M107.6 2355.8h0M125.4 2375.7h0M159.1 2389.6h0M188.1 2333.3h0M203.7 2419.1h0M188.1 2358.6h0M250.4 2376.5h0M139 2432.4h0M232.6 2330h0M141.1 2401.7h0M118.7 2334.5h0M133.4 2395.6h0M146.3 2394.6h0M207.8 2364.8h0M228.3 2306.1h0M143.8 2395h0M176.3 2385.3h0M236.7 2422.4h0M240.4 2373.7h0M189 2319.9h0M128.1 2390.6h0M193.9 2347.6h0M142.3 2384.6h0M107.6 2424.6h0M144 2420.4h0M137.9 2415.2h0M124.6 2431.9h0M192.4 2333.6h0M203.9 2374.7h0M107.6 2342.8h0M128.7 2370.8h0M176.8 2312.3h0M168.3 2428.2h0M179 2390.4h0M151 2411.8h0M223 2334.9h0M211.5 2334.6h0M112 2452.1h0M233.1 2350.4h0M116.2 2330.1h0M159.6 2372.9h0M163.2 2389.5h0M203.3 2366.5h0M130.5 2418.6h0M214.4 2340.6h0M208.2 2334.3h0M126.6 2347.3h0M214.7 2391.3h0M157.6 2390.3h0M158 2354.5h0M172.9 2388.3h0M240.5 2411.7h0M126.6 2450.4h0M253.5 2396.6h0M211.4 2376h0M162.7 2329.5h0M232.3 2378.8h0M236.3 2366.7h0M176.6 2445.1h0M143.7 2378h0M154.2 2381.9h0M195.8 2376h0M142.9 2385.5h0M112.6 2346.7h0M225.3 2309.3h0M160.4 2380h0M175.3 2379.9h0M220.6 2314h0M143.7 2369.6h0M154.7 2389.9h0M173.5 2391.9h0M189.5 2441.3h0M256.7 2336.3h0M145.6 2410.9h0M182.5 2413h0M229.4 2359.8h0M107.6 2428.9h0M190.7 2449.5h0M123.5 2392.1h0M171.5 2318.2h0M176.9 2368.5h0M199.3 2345.2h0M156.6 2447.3h0M241.8 2416.6h0M226.9 2386.2h0M107.6 2427.5h0M183.6 2388.6h0M249.2 2410.5h0M235.1 2420.2h0M199.7 2333.4h0M129.7 2431.2h0M132.1 2346.4h0M226 2357.6h0M189.8 2398.7h0M187.3 2447h0M120 2329h0M233.4 2372.6h0M119.8 2378.8h0M165.6 2382.4h0M172.2 2335.7h0M241.1 2419.7h0M157.6 2413.1h0M107.6 2443.5h0M191.5 2432.5h0M226.3 2322.2h0M117.8 2420.1h0M184.5 2343.3h0M181.3 2453.1h0M251.9 2394.1h0M171.4 2432h0M170.6 2376.2h0M197.6 2316.1h0M176.6 2395.5h0M240.5 2434.7h0M165.9 2379.6h0M142.3 2417.8h0M194.1 2374.9h0M231.1 2353.6h0M194.3 2352.5h0M144.8 2360.3h0M218.3 2379.5h0M238.2 2374.4h0M111.3 2327.9h0M107.6 2435.3h0M161.2 2332.3h0M180.2 2443.5h0M137.3 2383h0M209 2369.8h0M208.3 2374.1h0M146 2414.6h0M175.8 2382.2h0M125.3 2386.5h0M246.3 2389.8h0M254.6 2319.1h0M126.2 2361.1h0M156.4 2412.8h0M150.5 2381.5h0M183.9 2365.1h0M188.3 2396.9h0M251.4 2408.9h0M242.4 2437.8h0M247.9 2418.2h0M163.2 2374.3h0M200.2 2346.8h0M177.2 2365h0M175.5 2382.6h0M224 2376.2h0M154.4 2423.5h0M125.1 2380.3h0M170.2 2358.7h0M236.5 2415.6h0M239.1 2401.2h0M200.8 2391.9h0M235.3 2316.8h0M165.5 2377.5h0M207.9 2377.9h0M164.8 2337.9h0M146.3 2390.3h0M230.6 2411.5h0M137.1 2343.5h0M177.8 2412.4h0M203.5 2317.5h0M185.5 2428.5h0M228.3 2400.8h0M198.6 2377.6h0M201.6 2319.8h0M145.5 2453.1h0M190.1 2379.8h0M213.8 2316.3h0M120.9 2371.1h0M234.6 2409.3h0M107.6 2348.3h0M236.7 2402.8h0M240.8 2347.6h0M137.4 2344h0M228.8 2425.9h0M232.7 2449.3h0M211.6 2319.6h0M196 2351.8h0M107.6 2393.9h0M195.4 2361.3h0" stroke="#E64B35" stroke-width="8.6" stroke-linecap="round" fill="none"/>
<path d="M297.6 2190.7h0M268 2277.1h0M277.3 2185.9h0M313 2186.7h0M266 2163h0M291.1 2176h0M267 2148h0M264.7 2169h0M315.6 2298.3h0M276.2 2148h0M270.5 2186.6h0M274.3 2157.5h0M278.3 2154.3h0M297.9 2208.1h0M213.8 2272.8h0M311 2265.9h0M341.3 2233h0M212.8 2282.3h0M306.4 2263.5h0M282.2 2251.5h0M282.1 2155.1h0M295.7 2159.2h0M220.9 2270.6h0M301.3 2186.7h0M293.6 2180.4h0M313.9 2199.8h0M343.3 2252.3h0M312.8 2196.2h0M274.7 2163.7h0M320.1 2191h0M302.2 2148h0M269.1 2189.1h0M218.2 2296.4h0M276.2 2265.2h0M286.8 2196.5h0M283.9 2192h0M345.1 2281.3h0M271.1 2254.5h0M311.5 2193.6h0M315 2231.6h0M290 2161.9h0M328.5 2217.3h0M279.5 2159.5h0M313.7 2220.5h0M302.7 2178.9h0M323.6 2254.9h0M202.8 2276.8h0M268.8 2153h0M298.7 2168.7h0M202.9 2285.9h0M263.4 2190.6h0M330.2 2283.8h0M260.7 2179.1h0M281.1 2271.8h0M304.7 2166h0M351.2 2273.8h0M243.5 2267h0M260.8 2263.9h0M312.6 2293.9h0M296 2174.6h0M267.2 2314.3h0M204.6 2272h0M243.3 2266.6h0M299.5 2187.2h0M210.2 2238.8h0M311.4 2253.9h0M275.6 2148h0M210.5 2236.5h0M265.2 2296.3h0M310.6 2206.1h0M275.7 2201.8h0M184.9 2224h0M229.2 2260.5h0M335.1 2205h0M312.8 2306.2h0M269.6 2197h0M281 2167.2h0M310.2 2191h0M282.6 2186.9h0M303.2 2148h0M308.1 2215.8h0M274.9 2149.6h0M312.8 2262.2h0M277.5 2177.1h0M284.3 2206.3h0M327 2188.8h0M310.1 2179.3h0M304.6 2175.6h0M315 2185h0M210.1 2256.1h0M199.9 2274.4h0M206.1 2251.2h0M206.2 2240.4h0M281 2294.3h0M287.1 2201h0M297.8 2153.6h0M298.9 2311.8h0M300.2 2163.9h0M307.4 2211.1h0M297.8 2276.8h0M280.4 2187.3h0M345.5 2226.2h0M259.4 2300.9h0M271.6 2164.3h0M290.8 2185.7h0M230.7 2308.6h0M331.5 2196.9h0M287.4 2171.2h0M318.8 2178.8h0M257.4 2280.9h0M276.9 2206.4h0M300.4 2196.4h0M338.8 2235.5h0M200.4 2264.7h0M218.4 2251.7h0M316 2293.7h0M333.2 2230.4h0M338.3 2221.8h0M347.2 2246.4h0M303.9 2164.7h0M269.7 2177.9h0M319.9 2260.4h0M301.6 2173.9h0M192.6 2228.2h0M181.6 2280.7h0M243.2 2280h0M292.4 2278.2h0M211.1 2259h0M288 2178h0M312.2 2213.1h0M316.7 2280.3h0M310.4 2155.5h0M263.2 2148.8h0M278 2165.3h0M267.1 2285.9h0M273.6 2200.2h0M283.6 2168.2h0M313.7 2250.2h0M309.1 2155.9h0M286 2152.2h0M274.7 2151.2h0M313.3 2182.9h0M201.9 2262.8h0M287 2260.1h0M271.6 2153.8h0M248.1 2273.6h0M314.1 2204.3h0M272.9 2199.8h0M292.3 2190.6h0M302.2 2265.1h0M282.4 2221.8h0M263.4 2266.8h0M329.5 2266.1h0M277.4 2282.2h0M312.9 2291.2h0M170.5 2268.8h0M310.3 2274h0M332.6 2283.5h0M297.2 2178.6h0M322.6 2188.9h0M226.7 2273.7h0M276.8 2182.4h0M307.7 2179.5h0M206.1 2259h0M279.9 2162h0M299.3 2265.9h0M283.3 2201.4h0M292.2 2161h0M316.7 2182.2h0M303 2163.5h0M301.6 2260.8h0M172.9 2276.9h0M323.5 2265.9h0M270.6 2186.7h0M300.9 2148h0M307.8 2220.7h0M298.2 2173.8h0M305.8 2159.1h0M325.2 2160.9h0M287.7 2180.6h0M305.4 2229.5h0M267.7 2148h0M211 2247h0M310.9 2280.3h0M285.5 2200.7h0M350.3 2229.7h0M243.7 2280.7h0M283 2191.6h0M319.7 2257.7h0M250.4 2278.8h0M323.9 2260.3h0M282.6 2148h0M333.1 2182.6h0M238.6 2241.2h0M261.6 2188.6h0M294.8 2169.8h0M265 2279.2h0M184.5 2263.7h0M280.2 2205.3h0M272.7 2176.5h0M295.9 2219.9h0M290.6 2153.2h0M313.6 2212.8h0M263 2179.9h0M271.9 2156h0M340.1 2253.8h0M324.8 2161.1h0M329.2 2216.5h0M303 2167.2h0M257.8 2282.6h0M289.3 2206.2h0M290.5 2205h0M256.3 2271.3h0M297.4 2167.9h0M314.5 2192.4h0M277.8 2178.2h0M347.5 2237.4h0M292 2203.8h0M209.1 2303.7h0M241.5 2274.6h0M279.9 2175.4h0M331.4 2206.3h0M319.3 2177.6h0M313.2 2188.6h0M295.4 2166.8h0M282.3 2187.8h0M323.5 2198.6h0M285.5 2202.7h0M248.5 2258.6h0M301.4 2165.7h0M275.2 2211.8h0M315.7 2271.4h0M324.9 2170.6h0M207.2 2261.2h0M248.8 2273h0M309.2 2174h0M289.6 2168.7h0M268.6 2190.5h0M324.3 2255.7h0M286.7 2170.5h0M323.1 2159.8h0M263.1 2149.5h0M290.4 2159h0M254.8 2187.5h0M278 2254.4h0M312.5 2254.1h0M327.4 2232.7h0M295.2 2282.2h0M278.4 2186.9h0M287.1 2148h0M236.5 2249.1h0M309.5 2168.8h0M296.7 2299.4h0M208.9 2259.3h0M255.8 2306.2h0M323.5 2207.4h0M276.8 2277.2h0M306.8 2148h0M293.8 2209.9h0M214.5 2263.8h0M334.2 2289.7h0M287.8 2165.6h0M256.7 2267.7h0M277 2231.2h0M302.3 2266.2h0M206.9 2249.5h0M275.9 2279.7h0M308.8 2177.3h0M211.3 2289.2h0M327.5 2216.1h0M287.2 2292.7h0M290.9 2158.7h0M289.3 2149.7h0M229 2261.4h0M235.5 2260.6h0M270 2179.9h0M271.5 2225.4h0M195.8 2214.9h0M295.9 2154.8h0M318.4 2207.6h0M304.1 2167.5h0M312.5 2286.1h0M280.4 2172.2h0M251.3 2286.2h0M297.1 2163.5h0M208.3 2270.1h0M268 2268.5h0M294.1 2272.1h0M305.4 2148h0M242.6 2288.8h0M310.6 2198.5h0M285.6 2213.7h0M274.5 2202.4h0M211 2278.4h0M289.1 2174.9h0M312.6 2177.8h0M312.5 2148.4h0M228.5 2232.7h0M341.7 2161.4h0M322.9 2197h0M224.1 2261.7h0M288.2 2212h0M284.1 2177.3h0M320 2199.6h0M305.5 2172h0M311.6 2154h0M314.8 2167.7h0M299.2 2214.6h0M203.8 2280.2h0M324.5 2277.1h0M312.5 2183.9h0M334.6 2171h0M319.3 2161.1h0M285.9 2155.3h0M334.4 2235.7h0M308.7 2177.7h0M321.5 2180h0M308.3 2192.1h0M293.9 2169.8h0M362.8 2263.4h0M259.2 2280.8h0M286.9 2156.4h0M346.6 2241.4h0M301.3 2196.7h0M269.4 2189.2h0M309.6 2169.8h0M187.4 2231.9h0M283.8 2265.9h0M312.9 2265.4h0M301.3 2168.1h0M303.7 2169.1h0M289.3 2277.5h0M277.4 2168.9h0M257.9 2273.2h0M312.6 2278.1h0M315 2194.5h0M323.8 2183.7h0M291.1 2197.6h0M222.1 2225h0M316.7 2282.2h0M201.7 2276.4h0M321.8 2301.8h0M313.1 2178.6h0M260.1 2266.2h0M276 2169.3h0M298 2157.3h0M263 2180.4h0M238.5 2288.8h0M213.3 2261.5h0M300.3 2200.9h0" stroke="#4DBBD5" stroke-width="8.6" stroke-linecap="round" fill="none"/>
<path d="M303.8 2418.2h0M304.7 2335.2h0M385.5 2331.9h0M376.1 2321.3h0M355.6 2394.7h0M307.3 2342.7h0M295.5 2421.1h0M267.2 2438.5h0M328.5 2399.1h0M374 2390h0M381.7 2324.9h0M288.2 2338h0M324.5 2404.4h0M421.5 2399.4h0M271.7 2344h0M393 2390.8h0M333.8 2315h0M391.1 2338.9h0M265.5 2347h0M285.8 2432.4h0M306.4 2377.1h0M390.3 2384.7h0M385.1 2361.2h0M367.7 2398.8h0M268.6 2439.6h0M325.2 2380.9h0M354.7 2322.4h0M329.7 2323.5h0M382.9 2417h0M299.6 2418.4h0M278 2426.8h0M298 2414.9h0M344.3 2326.7h0M267.3 2418.6h0M372.4 2320.3h0M327 2396.8h0M305.7 2331.1h0M350.9 2323.1h0M313.9 2431.6h0M284.2 2419.9h0M311.5 2396.7h0M328.4 2392.3h0M352.1 2389.6h0M324.6 2333.8h0M317.7 2325h0M363.2 2398.4h0M386.6 2336.2h0M294.8 2404.4h0M328.4 2324.1h0M331.2 2402.6h0M353.2 2327.7h0M393.1 2396.4h0M287 2425.3h0M379.9 2378h0M337.9 2321.1h0M318.4 2411h0M306.1 2384.8h0M382.7 2434h0M317.1 2410.1h0M293.3 2426.4h0M353.6 2339.1h0M367.8 2336.1h0M389.5 2337.9h0M257.6 2339.3h0M379.5 2422.4h0M311.8 2413.1h0M274.4 2345.4h0M316.7 2324.6h0M359.4 2416.3h0M298.5 2335.1h0M358.7 2340.7h0M411.9 2367.5h0M364.6 2325.1h0M385.2 2360.8h0M308.1 2395.2h0M309.9 2416.4h0M315.1 2337.2h0M347.7 2341.7h0M391.8 2378.3h0M362.5 2324.1h0M369.2 2370.4h0M368.7 2333.2h0M285.8 2413.3h0M305.1 2427.7h0M415.3 2343.9h0M256.1 2335.5h0M399.8 2397.4h0M338.4 2326.8h0M305 2387.3h0M384.1 2387.9h0M283.4 2415.8h0M267.9 2335.8h0M306 2396.2h0M299.8 2412.9h0M359.3 2379.3h0M379.5 2382.9h0M299.7 2426.1h0M330.8 2333.7h0M284.6 2415.6h0M387.6 2327.2h0M290.5 2421.9h0M362 2319.4h0M291.6 2420.6h0M395.8 2358.1h0M305.3 2381h0M359.1 2333.9h0M377.2 2386.6h0M303.6 2413.8h0M317 2396.9h0M288.7 2409.4h0M305.7 2418.2h0M261.2 2349.1h0M297.7 2429.7h0M380.8 2369.7h0M356.2 2325.9h0M281 2343.8h0M403.8 2403.7h0M407.7 2394.4h0M390.3 2358.9h0M376.4 2388.9h0M371.5 2334.4h0M262.1 2332.4h0M297.1 2434.6h0M269.3 2347.4h0M294.5 2406.7h0M396 2383.4h0M354.3 2390.5h0M293.2 2428.3h0M298.2 2322.8h0M309.2 2423.7h0M379.6 2388.2h0M275.7 2421.5h0M392.7 2379.6h0M384 2394.5h0M412.7 2395.5h0M288.6 2420.3h0M303.7 2379.5h0M391.2 2417.8h0M334.9 2320.8h0M285 2430.8h0M295.4 2337h0M347 2392.4h0M400.2 2406.1h0M324.5 2339.4h0M371.3 2329.6h0M311.5 2354.5h0M351.1 2411.8h0M325.5 2372.7h0M395.6 2375.4h0M285.5 2333.8h0M367.4 2406h0M399.3 2401.6h0M299.1 2418.3h0M379.9 2369.9h0M412.4 2390.4h0M375.3 2400.2h0M346.2 2329.5h0M379.5 2352.4h0M382.8 2431h0M362.5 2324.7h0M266.8 2342h0M355.9 2313.1h0M297.1 2326.4h0M268.2 2342.7h0M337.1 2332.6h0M291.3 2419.2h0M356 2344.6h0M372.6 2343h0M285.8 2435.2h0M404.5 2368h0M279.2 2422.2h0M362.7 2333.2h0M385.3 2409h0M397.4 2410h0M305.4 2390.5h0M366.1 2333.7h0M374.7 2312h0M393 2412.1h0M337.3 2404.1h0M379 2367.4h0M377.5 2367.8h0M286.3 2425.4h0M303.8 2413.4h0M410.7 2374.6h0M407.1 2402.4h0M399.5 2352.1h0M345.3 2338h0M359.9 2376h0M324.2 2334.3h0M379.8 2331.4h0M364.4 2331h0M326.1 2315.6h0M308.6 2427.1h0M337.5 2375.4h0M324.4 2344.3h0M380.9 2324.2h0M279.9 2431h0M329.5 2398.2h0M362.6 2336.9h0M379.6 2375.1h0M368.7 2376.7h0M384.1 2431h0M317.3 2400.6h0M397.7 2393.7h0M279.3 2419.9h0M379 2364.7h0M308.6 2315.9h0M365.2 2383.6h0M357.3 2324h0M381.8 2401.6h0M389.4 2351.7h0M390.4 2370.6h0M321.3 2371.4h0M329.7 2378.7h0M307.3 2340.3h0M341.2 2325.6h0M408.8 2386.5h0M384.8 2364.5h0M269.8 2335.3h0M310.4 2422.1h0M416.9 2406h0M365 2336.2h0M264.1 2347h0M286.7 2430.6h0M390.9 2379.8h0M313 2325.7h0M369.8 2333.6h0M392 2420.8h0M284.9 2402.4h0M361.4 2377.4h0M326.3 2347.6h0M393.9 2404h0M393.2 2393.2h0M366 2381.9h0M380.5 2386.4h0M369.4 2373.6h0M376.4 2387.6h0M287.3 2434.7h0M366.6 2338.9h0M369.8 2346.7h0M272.8 2348.3h0M389.3 2393.4h0M386 2409.9h0M375.1 2318.9h0M309.4 2377.3h0" stroke="#00A087" stroke-width="8.6" stroke-linecap="round" fill="none"/>
<path d="M413 2322.3h0M408.5 2238.7h0M415.2 2320.5h0M414.4 2280.3h0M410.1 2232.1h0M445.9 2282.9h0M426.3 2296.2h0M435.4 2298.1h0M397.8 2240.5h0M441 2292.4h0M415.8 2256.2h0M397.2 2251.1h0M432.7 2284h0M386.4 2291.4h0M379.3 2242h0M396.5 2248.5h0M409.8 2243.7h0M439.5 2215h0M420.5 2207.9h0M449.9 2237.5h0M440.3 2305.5h0M434.3 2309.9h0M433.1 2280.4h0M400.4 2253.3h0M429.5 2324h0M439.9 2291.9h0M407.4 2223.2h0M441.1 2268.7h0M393.6 2266.8h0M406.1 2237.4h0M402.8 2294.1h0M430.2 2311.7h0M420.2 2253.7h0M414.5 2223.4h0M420.7 2236.5h0M386.3 2223.3h0M438.5 2243.6h0M436.8 2223.8h0M392 2227h0M434.5 2227h0M410.2 2305.4h0M433.6 2349.9h0M433.3 2238.3h0M432.1 2271.2h0M387.6 2229.7h0M401.7 2264.8h0M419.1 2263.7h0M388.7 2255.2h0M421.6 2304.2h0M417.4 2282h0M390.1 2283.1h0M415.8 2332h0M441.6 2287.2h0M441.4 2275.8h0M390.6 2231h0M392.2 2252.3h0M437.2 2239.6h0M401.6 2221.1h0M416.4 2239.8h0M438.8 2286.2h0M421.5 2239h0M398.8 2280.8h0M445.7 2307.6h0M436.9 2233h0M421.2 2311.7h0M441.6 2217.2h0M439.5 2238.1h0M437.2 2227.5h0M437.1 2253.4h0M439.5 2342.2h0M406 2265.4h0M407.9 2300.4h0M402.1 2242.2h0M433.3 2311.3h0M418.9 2288.9h0M384.4 2255.6h0M428.8 2345.9h0M400.5 2226.3h0M436.1 2275.5h0M441.8 2285.3h0M448.5 2292.7h0M399.7 2268.8h0M392.4 2277.6h0M413 2301.2h0M425.6 2239.5h0M433 2234.4h0M430.7 2265.4h0M401.2 2269.1h0M390.3 2240.6h0M389 2272.4h0M385.9 2235h0M408.8 2282.4h0M443.9 2293.4h0M420.6 2222.8h0M424.5 2291h0M385.2 2290.7h0M443.3 2351.2h0M407.9 2274.4h0M378.5 2252.4h0M419.8 2320.6h0M404.3 2238.2h0M419.8 2328.8h0M395.7 2245.2h0M397.7 2232.5h0M401.6 2243.9h0M440.3 2293.2h0M415.9 2242.2h0M423.6 2310.3h0M414.9 2295.7h0M370.1 2243.1h0M392.9 2292.1h0M441.7 2296.4h0M442.1 2291.7h0M416.2 2284.5h0M437.4 2274.9h0M393.7 2252.1h0M387 2234.8h0M409.6 2294.6h0M383.7 2235.7h0M424.3 2313.5h0M426.9 2287h0M415.3 2217.1h0M446.1 2301.8h0M411.5 2228.3h0M403 2217.1h0M389.2 2233.7h0M401.2 2255.7h0M381.9 2244.1h0M438.7 2251.9h0M437.9 2277.4h0M427.5 2316.9h0M449.9 2287.9h0M412.1 2248h0M434.2 2276.4h0M439.5 2307h0M408 2302.3h0M409.3 2263.1h0M411.4 2226.1h0M432 2304.5h0M431.7 2239.5h0M412.9 2245.1h0M402.1 2246.6h0M392.8 2275.8h0M402 2259.7h0M423.5 2244.6h0M424.2 2219.6h0M429.5 2337.8h0M386.2 2210.8h0M428 2283h0M422.1 2344.8h0M390.2 2249.3h0M434.6 2331.6h0M413.1 2270.8h0M400 2242.4h0M426.4 2300.5h0M397.6 2220.5h0M445 2235.3h0M394.4 2279.9h0M413.2 2225.6h0M416.6 2236.9h0M432.4 2339.2h0M368.5 2238h0M431.6 2276.7h0M432.5 2265.9h0M420 2242.1h0M390.4 2264.9h0M442.1 2308.5h0M393.9 2229.1h0M427.6 2308.9h0M431.9 2268.5h0M418.5 2299.4h0M414 2207.3h0M393.6 2237.4h0M413.3 2325.2h0M429.9 2277.9h0M395.6 2228.1h0M429.5 2240.3h0M444.8 2335.3h0M424.9 2303.6h0M397.5 2277.1h0M434 2228.9h0M389.1 2244.8h0M431.7 2225.8h0M424.4 2278.2h0M388.2 2238.6h0M425.3 2346.6h0M430.5 2292.9h0M425.2 2236.8h0M427.7 2309.4h0M414.8 2227.9h0M434.4 2311.2h0M389.5 2244.6h0M394.9 2215.5h0M399.8 2229.7h0M443.6 2314.5h0M426.3 2222.7h0M431.9 2249h0M404.5 2253.2h0M395.4 2232.6h0M440.2 2268.2h0M422.8 2353.9h0M410.8 2315h0M428.3 2275.8h0M435.5 2324.4h0M396.1 2237.6h0M415.9 2249.6h0M428.7 2253.7h0M401.3 2229.2h0M426.1 2252.4h0M405 2214.7h0M441.6 2227.3h0M423 2281.1h0M394.1 2214.6h0M435 2291.7h0M434.4 2333.7h0M424.6 2251.4h0M437.1 2310.2h0" stroke="#3C5488" stroke-width="8.6" stroke-linecap="round" fill="none"/>
<path d="M132.5 2226.8h0M189.4 2159.6h0M176.9 2197.7h0M151.3 2224.6h0M182.2 2192.8h0M148.5 2234.3h0M187.2 2171h0M151.8 2235.4h0M201.6 2167.2h0M177.5 2193.1h0M144.7 2212.6h0M136.6 2247.5h0M146 2230.8h0M181.1 2169.7h0M167.4 2197.8h0M168.9 2164.6h0M152.2 2203.1h0M195.8 2185.5h0M161 2223.8h0M178.5 2189h0M165.8 2213.6h0M186 2170.5h0M162.4 2160.4h0M160.2 2202.2h0M194.2 2204h0M165.9 2222.9h0M183.5 2203h0M131.9 2219.2h0M176 2215.4h0M125.7 2249.4h0M121.1 2237.4h0M169.3 2192.7h0M157.6 2222.5h0M130.4 2241.3h0M166.4 2225.6h0M176.1 2199.5h0M150 2229.6h0M181.5 2203.4h0M158 2232.2h0M158.9 2226.6h0M181.6 2165.2h0M200.2 2204.2h0M139.4 2221.1h0M179.5 2215.3h0M168.8 2218.2h0M169.8 2206.1h0M186.8 2213.5h0M179 2170h0M171.9 2185.4h0M144.2 2238.1h0M186.3 2166.5h0M157.2 2224.8h0M147.2 2241.6h0M179 2165.3h0M198.4 2194.1h0M177.5 2197h0M140 2245.1h0M182.2 2176.5h0M146.6 2245.4h0M141 2221.9h0M143.2 2241.5h0M152.7 2220.3h0M168 2222.8h0M145 2227.3h0M185 2168.3h0M174.7 2221.4h0M184 2219.6h0M114.1 2238.1h0M160.5 2232.2h0M134.3 2226h0M201 2182h0M173.9 2165.7h0M159.5 2216.3h0M138.7 2238.5h0M152.7 2230.9h0M200.5 2172.2h0M186.7 2168h0M174.8 2207.2h0M143.9 2242.5h0M193.8 2181.5h0M135.2 2239.3h0M185.7 2163.5h0M185.6 2153.8h0M175.3 2217.6h0M187.3 2169.8h0M128.4 2237.6h0M167.7 2160.3h0M136.2 2238.3h0M156.9 2212.6h0M144.2 2213h0M161.6 2211h0M123 2244.1h0M180.5 2193.5h0M163.7 2228.7h0M169.5 2215.7h0M177.2 2164.6h0M163.4 2203.7h0M197.3 2178h0M188.9 2161.4h0M185.5 2207h0M169.8 2199.2h0M174.2 2207.9h0M186.3 2207.3h0M188.9 2166.8h0M170.7 2208h0M153.5 2204.6h0M184.3 2165h0M138.9 2242.6h0M165.2 2196.1h0M188.3 2182.3h0M155.9 2219.4h0M160.7 2212.1h0M166.7 2212.7h0M154.2 2245.9h0M195 2201.7h0M149.6 2236.2h0M144.2 2242.9h0M186.7 2209.2h0M169.7 2217h0M145.3 2224.4h0M155.1 2208.3h0M122.7 2234.4h0" stroke="#F39B7F" stroke-width="8.6" stroke-linecap="round" fill="none"/>
<rect x="90.5" y="2132.7" width="376.5" height="335.7" fill="none" stroke="#7F7F7F" stroke-width="1.4"/>
<text x="179" y="2389.1" font-size="18.5" text-anchor="middle" font-family="'Liberation Sans', Arial, sans-serif">0</text>
<text x="290.7" y="2242.9" font-size="18.5" text-anchor="middle" font-family="'Liberation Sans', Arial, sans-serif">1</text>
<text x="348" y="2384.5" font-size="18.5" text-anchor="middle" font-family="'Liberation Sans', Arial, sans-serif">2</text>
<text x="419.6" y="2268.1" font-size="18.5" text-anchor="middle" font-family="'Liberation Sans', Arial, sans-serif">3</text>
<text x="166.6" y="2220" font-size="18.5" text-anchor="middle" font-family="'Liberation Sans', Arial, sans-serif">4</text>
<circle cx="497" cy="2263" r="5.3" fill="#E64B35"/>
<text x="514" y="2269.3" font-size="17.5" font-family="'Liberation Sans', Arial, sans-serif">0</text>
<circle cx="497" cy="2284.2" r="5.3" fill="#4DBBD5"/>
<text x="514" y="2290.6" font-size="17.5" font-family="'Liberation Sans', Arial, sans-serif">1</text>
<circle cx="497" cy="2305.5" r="5.3" fill="#00A087"/>
<text x="514" y="2311.8" font-size="17.5" font-family="'Liberation Sans', Arial, sans-serif">2</text>
<circle cx="497" cy="2326.8" r="5.3" fill="#3C5488"/>
<text x="514" y="2333.1" font-size="17.5" font-family="'Liberation Sans', Arial, sans-serif">3</text>
<circle cx="497" cy="2348" r="5.3" fill="#F39B7F"/>
<text x="514" y="2354.3" font-size="17.5" font-family="'Liberation Sans', Arial, sans-serif">4</text>
<text x="278" y="2492.5" font-size="18.5" text-anchor="middle" font-family="'Liberation Sans', Arial, sans-serif">tSNE_1</text>
<text x="77" y="2301" font-size="18.5" text-anchor="middle" font-family="'Liberation Sans', Arial, sans-serif" transform="rotate(-90 77 2301)">tSNE_2</text>
<path d="M790.3 2211.3h0M639.7 2241.5h0M891.3 2251.5h0M804.3 2207.9h0M796.7 2332.5h0M761.4 2188h0M784.3 2199h0M760.2 2193.1h0M806.7 2301.5h0M861.8 2320.8h0M897.5 2320.1h0M892.8 2246h0M925.5 2288.6h0M770.8 2175.4h0M691.6 2185.2h0M765.5 2207.9h0M769 2183.4h0M659.7 2428.7h0M790.5 2225.8h0M907.6 2299.8h0M762.5 2419.1h0M691.9 2326.4h0M915.9 2301.3h0M656.9 2239.7h0M818.4 2386h0M859.9 2378.4h0M881.6 2253.1h0M830 2246.8h0M713 2288.1h0M798.3 2272.3h0M776.2 2262.3h0M776.1 2181.5h0M657.4 2248.8h0M788.5 2184.9h0M720.3 2278.3h0M793.6 2207.9h0M897.9 2266.2h0M913.4 2289.5h0M871.2 2295.7h0M864.7 2254.3h0M680.7 2213.3h0M877.2 2379.1h0M650.9 2229.6h0M786.6 2202.6h0M880.4 2259.8h0M805.1 2218.9h0M831.9 2262.9h0M892.5 2255.7h0M919.6 2231.7h0M804.1 2215.9h0M769.4 2188.7h0M810.8 2211.6h0M643.5 2258.9h0M794.4 2175.4h0M764.3 2209.9h0M717.9 2299.9h0M902.2 2225.7h0M663.9 2424.7h0M770.7 2273.7h0M652 2244.9h0M780.4 2216.2h0M854.1 2385.8h0M929 2250.5h0M763.8 2420h0M920.3 2307.5h0M914.8 2311.2h0M815.4 2370.8h0M913.7 2286.5h0M884 2263.8h0M833.5 2287.2h0M802.9 2213.7h0M910.4 2323.1h0M783.3 2187.2h0M818.4 2233.6h0M773.8 2185.1h0M805 2236.2h0M920 2296.1h0M794.9 2201.4h0M890.4 2238.6h0M814 2265.1h0M921.1 2276.7h0M703.9 2283.5h0M764 2179.7h0M790.6 2399.3h0M759.1 2211.2h0M819.9 2289.4h0M775.2 2279.3h0M877.8 2275.1h0M671.6 2217.2h0M796.7 2190.5h0M889.2 2250.4h0M839.1 2281h0M911.1 2312.7h0M902 2264.1h0M896.8 2238.7h0M740.9 2275.3h0M756.7 2272.7h0M803.9 2297.9h0M788.8 2197.8h0M692.9 2385h0M818.3 2380.4h0M902.5 2249.7h0M705.5 2279.5h0M740.8 2274.9h0M792 2208.4h0M697.4 2207h0M710.5 2251.6h0M665.7 2239h0M871.1 2238.6h0M918.7 2255.7h0M692.9 2331.6h0M770.2 2175.4h0M917.1 2239h0M876.2 2241.7h0M915 2241.7h0M670.1 2230.5h0M808.5 2323.9h0M892.8 2307.5h0M760.7 2299.9h0M802.1 2224.2h0M850.1 2385.4h0M770.3 2220.6h0M871.3 2333.3h0M727.9 2269.8h0M824.4 2223.3h0M804.1 2308.1h0M775.1 2191.6h0M801.8 2211.5h0M913.9 2251.2h0M818.3 2323.1h0M665 2221h0M696 2222.4h0M670.2 2238.3h0M681.9 2319.6h0M799.8 2232.3h0M686.3 2221.6h0M769.6 2176.9h0M872.3 2244h0M804.1 2271.3h0M772 2199.8h0M778.2 2224.3h0M817 2209.7h0M801.6 2201.7h0M806.1 2206.5h0M710.4 2266.1h0M885.1 2273.4h0M901 2272.5h0M701.2 2281.5h0M706.9 2262h0M706.9 2252.9h0M873.2 2265.4h0M630.7 2381.5h0M899.5 2287.8h0M874.6 2288.7h0M780.6 2408h0M865.3 2368.4h0M775.1 2298.2h0M780.7 2219.9h0M898 2329.8h0M790.4 2180.2h0M791.5 2312.8h0M921.5 2292.2h0M798 2374.1h0M921.3 2282.7h0M792.6 2188.8h0M799.2 2228.4h0M790.4 2283.5h0M874 2334.7h0M875 2245.1h0M876.4 2262.9h0M917.5 2252.3h0M774.6 2208.4h0M833.9 2241.1h0M864.9 2405.5h0M755.4 2303.7h0M885 2236.7h0M898.5 2252.5h0M629.4 2250.5h0M662.6 2238h0M784.1 2207.1h0M791.1 2332.4h0M729.3 2310.1h0M658.9 2332.2h0M781 2194.9h0M845.9 2337.1h0M637.9 2253.7h0M903.2 2251.8h0M882.5 2286.8h0M809.6 2201.3h0M925.2 2309.3h0M799.8 2382.7h0M917.2 2246.7h0M771.4 2224.5h0M902.9 2312.8h0M921.5 2233.5h0M792.8 2216.1h0M827.8 2248.9h0M701.6 2273.3h0M718 2262.4h0M917.4 2242.2h0M679.5 2218.7h0M822.7 2244.6h0M917.4 2263.8h0M835.9 2337.9h0M876.1 2368.6h0M855.5 2362h0M827.3 2237.4h0M919.6 2338.3h0M889 2273.9h0M890.8 2303.2h0M885.4 2254.4h0M796 2189.5h0M797.1 2410h0M913.9 2312.4h0M869.3 2265.7h0M752.4 2332.7h0M663 2246.1h0M663.8 2241.4h0M909.8 2341.5h0M884 2241.1h0M793.9 2197.2h0M694.5 2242.7h0M921.7 2290.6h0M740.7 2286.1h0M796.9 2376.1h0M785.5 2284.6h0M646 2236.8h0M682.6 2231.9h0M711.4 2268.5h0M927.8 2296.8h0M876.7 2284.1h0M895.4 2304h0M777.3 2400h0M673.8 2224.2h0M803.5 2230.1h0M906.9 2252.2h0M807.7 2286.4h0M689.3 2230.4h0M763.1 2332.9h0M797.9 2383.6h0M911.6 2273.9h0M884.7 2277h0M682.1 2193.9h0M874.8 2253.2h0M873.5 2279.8h0M645.8 2411h0M870.7 2248.4h0M772.3 2190h0M891.6 2288.2h0M792.3 2397.6h0M846.5 2369.4h0M762.5 2291.1h0M768.4 2219.2h0M864.9 2372.4h0M923.6 2297.4h0M777.4 2192.4h0M792.2 2408.6h0M902.3 2238.2h0M778.4 2399.8h0M783.7 2405.1h0M905.9 2295.4h0M779.7 2179h0M705.9 2318h0M662.2 2239.9h0M870.1 2295.1h0M923 2345.9h0M769.3 2178.2h0M804.6 2204.7h0M795.7 2398.4h0M782.1 2394.7h0M797.7 2402h0M864 2263h0M757.1 2344.1h0M703 2271.8h0M780.6 2269.5h0M901.6 2320.2h0M790.3 2411.7h0M766.6 2180.3h0M887.5 2251.1h0M901.6 2327.1h0M874.7 2352.3h0M745.1 2280.8h0M805.3 2222.7h0M767.7 2218.9h0M785.4 2211.2h0M794.4 2273.7h0M776.4 2237.4h0M653.1 2254h0M759.1 2275.1h0M682.1 2190h0M879.6 2257h0M699.8 2214.1h0M819.3 2274.5h0M881.5 2246.3h0M879.9 2372.8h0M804.2 2295.6h0M674.4 2276.7h0M801.8 2281.1h0M822.1 2289.1h0M790.8 2322h0M680.6 2379.1h0M789.9 2201.1h0M813 2209.8h0M730.9 2371.2h0M770.3 2404.8h0M771.2 2204.4h0M799.4 2201.9h0M685 2199.4h0M920.3 2297.2h0M876.9 2369.7h0M774.1 2187.2h0M875.5 2401.7h0M898 2254.5h0M652.6 2257.2h0M905 2311.6h0M856.3 2255.3h0M785.4 2186.4h0M807.7 2204.2h0M778.7 2412.6h0M788.2 2334h0M793.9 2270.1h0M676.6 2283.5h0M922 2296h0M835.2 2380.4h0M658.1 2236.1h0M672.1 2238.2h0M898.4 2290h0M877.8 2262.8h0M651.2 2241.9h0M871.7 2248.3h0M813.9 2274.4h0M892.3 2298.4h0M747.2 2367.1h0M868.7 2249h0M905.7 2314.3h0M793.3 2175.4h0M678.3 2237h0M686.7 2235.6h0M799.6 2236.4h0M797.7 2184.8h0M815.4 2186.3h0M781.2 2202.9h0M897.5 2233.4h0M925.6 2304.4h0M763 2175.4h0M711.4 2258.5h0M779.2 2219.7h0M838.3 2244h0M741.1 2286.7h0M894.1 2242.8h0M886.3 2233.4h0M677.5 2190.3h0M664.4 2232.8h0M645.4 2251.3h0M873.7 2247.3h0M884.7 2265.8h0M867.1 2256.1h0M776.9 2212h0M791.6 2402.1h0M747.2 2285.1h0M814.2 2269.7h0M658.1 2245h0M650.2 2403.9h0M918.9 2262.6h0M918.2 2284h0M701.8 2195.7h0M776.6 2175.4h0M822.6 2204.5h0M678.3 2225.1h0M757.4 2209.5h0M929 2292.8h0M787.7 2193.8h0M760.5 2285.5h0M687.2 2272.5h0M774.4 2223.5h0M894.6 2259.3h0M914.7 2283.2h0M767.6 2199.4h0M788.7 2235.7h0M695.6 2203.6h0M783.8 2179.8h0M919.6 2308.8h0M758.7 2202.3h0M766.8 2182.2h0M829 2264.2h0M890.8 2304.9h0M892 2272h0M893.9 2241h0M819.1 2232.9h0M795.2 2191.6h0M834.5 2327.7h0M912.7 2306.7h0M912.4 2252.2h0M782.7 2224.3h0M783.7 2223.3h0M752.6 2278.9h0M688.3 2188.5h0M790 2192.2h0M772.2 2200.8h0M835.7 2250.4h0M762.1 2338.2h0M785.2 2222.3h0M843.4 2313.9h0M739.1 2281.6h0M821.1 2224.3h0M810 2200.3h0M804.5 2209.5h0M788.3 2191.2h0M776.3 2208.8h0M738.2 2396.6h0M813.8 2217.9h0M636 2250.6h0M877 2282.6h0M885.4 2269.2h0M671.8 2185.8h0M779.2 2221.4h0M826.2 2330.3h0M643.1 2251.2h0M745.5 2268.2h0M905 2256.5h0M858.6 2339h0M806.8 2279h0M662 2229.6h0M905.6 2235.6h0M910.4 2334.6h0M815.1 2194.4h0M707.8 2270.4h0M745.8 2280.3h0M871 2228.2h0M666.3 2228.3h0M800.9 2197.3h0M782.9 2192.9h0M881.2 2395.2h0M909.1 2288.7h0M763.8 2211.1h0M903.7 2340.5h0M697.4 2366.6h0M874.7 2260.4h0M852.7 2331.2h0M683.5 2213.7h0M621.6 2342.1h0M915.1 2329.4h0M860.6 2313h0M877.2 2396.9h0M720 2314.6h0M895.5 2278.4h0M668.2 2243.2h0M814.6 2265.8h0M813.5 2185.4h0M883.6 2254.6h0M907.7 2303.4h0M758.8 2176.7h0M783.7 2184.7h0M864.4 2359.5h0M751.2 2208.6h0M772.3 2264.7h0M692.8 2428.3h0M803.8 2264.4h0M924.6 2248.7h0M878.4 2286.1h0M895.6 2240.6h0M817.4 2246.5h0M700.7 2340.9h0M788 2288h0M772.8 2208.1h0M780.7 2175.4h0M680.5 2189.4h0M734.6 2260.3h0M801.1 2193h0M898.7 2250h0M789.5 2302.4h0M709.4 2268.8h0M752.1 2308.1h0M854.9 2250.9h0M912.3 2283.4h0M913.2 2274.3h0M771.2 2283.8h0M901.8 2254.4h0M874.8 2273.5h0M798.6 2175.4h0M921.9 2310.1h0M714.5 2272.6h0M781.3 2190.2h0M753 2275.8h0M771.5 2245.2h0M908.8 2310.4h0M912.7 2276.5h0M900.4 2302.5h0M707.5 2260.6h0M770.4 2285.9h0M896.4 2225.2h0M877.7 2250.4h0M731.8 2363.8h0M869 2412.8h0M673.8 2218.4h0M711.6 2293.9h0M895.7 2324h0M808.2 2387.3h0M910.9 2284.4h0M879.5 2242.7h0M817.4 2232.6h0M910.5 2252.9h0M780.8 2296.8h0M782.7 2176.9h0M727.7 2270.6h0M914.6 2243.3h0M881.5 2381.5h0M765.1 2202.2h0M873.6 2256.6h0M691.2 2191.2h0M864.5 2357.2h0M800.3 2316.2h0M766.5 2240.4h0M697.4 2231.6h0M788.7 2181.2h0M809.2 2225.5h0M796.2 2191.8h0M803.8 2291.3h0M774.6 2195.8h0M748 2291.3h0M912.5 2240.7h0M789.8 2188.5h0M708.9 2277.8h0M674.6 2225.8h0M763.3 2276.5h0M787.1 2279.6h0M797.4 2175.4h0M740.1 2293.5h0M802.1 2217.8h0M779.3 2230.6h0M658.9 2223h0M711.3 2284.8h0M699.1 2316.4h0M782.5 2198.1h0M803.9 2200.5h0M803.8 2175.8h0M696.1 2347h0M872.8 2251.4h0M830.5 2186.7h0M813.3 2216.6h0M683.3 2423.3h0M906.6 2342h0M911.4 2297h0M645.6 2254.8h0M778 2200.1h0M708.9 2365.1h0M669.6 2215.8h0M764.9 2332.5h0M906.6 2249.9h0M803 2180.5h0M805.9 2192h0M908.8 2310.8h0M897.1 2242.5h0M704.7 2286.3h0M914.9 2312.3h0M814.8 2283.7h0M803.9 2205.6h0M751 2318.9h0M634 2354.1h0M824 2194.7h0M874 2256.4h0M810 2186.5h0M779.6 2181.6h0M661.1 2235.4h0M800.4 2200.4h0M812 2202.3h0M875.2 2369.9h0M883.4 2244h0M923.3 2315.1h0M800 2212.4h0M907.6 2238.1h0M778.7 2388.8h0M912.6 2260.2h0M849.7 2272.2h0M887.6 2263.7h0M816.4 2342.8h0M755.2 2286.8h0M670.9 2229.8h0M879.4 2246.4h0M780.5 2182.5h0M920.2 2276.3h0M793.6 2216.3h0M904.4 2348.2h0M777.6 2274.3h0M893.4 2315.5h0M855.7 2364.6h0M696.7 2220.5h0M655.3 2249.5h0M650.4 2255h0M915.9 2323.4h0M782.7 2284.1h0M771.9 2193h0M880 2250.6h0M804 2284.5h0M806.1 2214.4h0M898.1 2260.7h0M856.1 2342.1h0M909.8 2264.1h0M814.1 2205.4h0M784.3 2217.1h0M870.8 2395.1h0M807.7 2288h0M702.8 2283.1h0M884.7 2243.6h0M907.3 2263h0M888.1 2231.4h0M804.3 2201.2h0M689.2 2226.8h0M673.6 2233.3h0M904.6 2287h0M651.4 2239.6h0M660.3 2226.1h0M915.5 2296h0M758.7 2202.7h0M914.9 2331.2h0M736.4 2293.6h0M630.8 2247.9h0M713.4 2270.7h0M792.7 2219.9h0M917.4 2311.5h0" stroke="#C4DFDA" stroke-width="4.7" stroke-linecap="round" fill="none"/>
<path d="M716.8 2315.3h0M712.2 2337.2h0M707.3 2364h0M701.7 2314.7h0M694.1 2341.2h0M702 2319.3h0M643.6 2417.9h0M735.2 2373h0M661.5 2380h0M707.7 2416.4h0M698.7 2356.1h0M657.1 2346.8h0M638.2 2366.9h0M640 2379.8h0M690.3 2428.5h0M710.8 2323.8h0M639.1 2373.8h0M737.9 2308.8h0M727.1 2308.1h0M648.7 2373.8h0M704.3 2358.7h0M628.2 2369h0M617.1 2423.2h0M738.2 2415.9h0M729.2 2396.4h0" stroke="#C6B7AB" stroke-width="4.7" stroke-linecap="round" fill="none"/>
<path d="M661 2394.7h0M695 2414.2h0M625.3 2331.4h0M866.9 2323.8h0M781.7 2334.8h0M903.2 2386.3h0M675.1 2395.4h0M698.1 2413.3h0M652.5 2412.3h0M870 2354.2h0M715.4 2387.6h0M640.6 2356h0M661.5 2357h0M655.9 2415.4h0M659.5 2372.1h0M755.8 2337.7h0M627.2 2369.8h0M832.8 2325.3h0M683.2 2317.6h0M732.5 2360.7h0M838.8 2322.3h0M646.3 2385.7h0M820.9 2388.9h0M696.7 2329.1h0M627.4 2389.1h0M671.2 2363.7h0M809.2 2396h0M689.2 2386.3h0M808 2395.3h0M617.1 2418.7h0M644.3 2348.2h0M744.4 2419.4h0M722.1 2368.7h0M803.2 2397.8h0M670 2375.3h0M851.3 2324h0M685.7 2369.4h0M669 2420.7h0M663.3 2407.8h0M855.1 2330.7h0M676.7 2370h0M728 2356.5h0M681.3 2351.3h0M676.6 2389.4h0M656.8 2367.7h0M617.1 2381.4h0M662.4 2372.1h0M703.1 2371.7h0M647.4 2381.9h0M691.9 2373.8h0M718.2 2328h0M820.5 2331.2h0M748 2335.4h0M848.9 2319.2h0M784.8 2404.1h0M741 2418.4h0M698.2 2358.3h0M671 2366h0M670.7 2335.6h0M721.9 2342.5h0M633.5 2382.5h0M736.2 2366.5h0M890.6 2382.1h0M703.2 2379.2h0M663.1 2414.6h0M702.7 2316.7h0M617.1 2338.8h0M841.9 2378.8h0M786.3 2410.5h0M672.9 2310.2h0M665.2 2357.1h0M627.7 2404.4h0M635.3 2323.9h0M627.6 2378.4h0M700.3 2321.4h0M639.8 2416.7h0M624.6 2385.7h0M734.2 2389h0M688 2358.6h0M648.1 2390.9h0M617.1 2349.7h0M633.3 2366.4h0M664 2378h0M704.7 2402.8h0M690.4 2352.1h0M815.7 2363.8h0M853.9 2391.8h0M734.7 2405.5h0M617.1 2407.4h0M644.7 2399.5h0M894.9 2378.8h0M672.3 2410.4h0M682.1 2378.7h0M621.1 2430.5h0M624.9 2328.2h0M867.9 2412.8h0M667.7 2378h0M714.4 2337h0M708.7 2331.7h0M663 2348.6h0M750 2384h0M730.7 2369h0M734.4 2358.8h0M870.2 2394.4h0M678.8 2369.9h0M752.9 2333.4h0M617.1 2411h0M631.6 2380.1h0M675.3 2318.2h0M739.4 2400.7h0M814.4 2331.7h0M617.1 2409.8h0M733.3 2403.7h0M670 2372h0M662.6 2397.8h0M725.3 2321.5h0M675.2 2413.6h0M745 2402.1h0M702 2380h0M644 2339.4h0M862.1 2376.4h0M704.4 2317.6h0M688.1 2410.7h0M873.8 2381.2h0M713.9 2316.6h0M732.8 2394.6h0M617.1 2343.5h0M644.2 2339.8h0M731 2428.1h0" stroke="#C29B88" stroke-width="4.7" stroke-linecap="round" fill="none"/>
<path d="M771.7 2207.2h0M617.1 2326.4h0M870.3 2329.7h0M788.4 2404.5h0M732.4 2413.9h0M718.9 2320.1h0M802.5 2274.3h0M665.7 2363.6h0M920.9 2296.5h0M766.6 2339.8h0M726 2369.3h0M650.5 2388.7h0M699.4 2343.7h0M677 2386.1h0M717.3 2346.6h0M868 2401h0M792 2402.2h0M739.3 2395.9h0M730.8 2344.9h0M645.7 2366.4h0M684.1 2193.7h0M681.7 2376.8h0M665.1 2359.8h0M778 2403.5h0M726.2 2391.4h0M731.2 2336.4h0M839.9 2378.1h0M814.8 2331.3h0M732.4 2332h0M688.5 2194.4h0M677.8 2362.5h0M687.5 2239.2h0M764.7 2216.5h0M706.3 2331h0M648.8 2409.7h0M705.1 2317.8h0M746.4 2366.6h0M796.6 2198.6h0M698.3 2376.2h0M649.2 2377.2h0M713.9 2332.6h0M680.1 2373.7h0M841.3 2335.7h0M854.2 2333.2h0M769.1 2341h0M729.3 2396.9h0M722.1 2324.1h0M919.5 2251h0M656.8 2372.8h0M686.2 2428.1h0M729.5 2378.3h0M714.4 2307.5h0M731.5 2345.1h0M676.9 2372.8h0M622.8 2393.8h0M654.2 2426.9h0M779.5 2397.9h0M719.5 2350.6h0M648.3 2361.3h0M883.4 2384.6h0M734.8 2357.1h0M801.9 2181.8h0M715.6 2334.9h0M689.4 2413.6h0M630.8 2405.3h0M666.8 2382.6h0M692.7 2385.3h0M805 2261.2h0M635.1 2407.8h0M699.2 2330.9h0M747.5 2371h0M846.3 2331.3h0M862.8 2375.6h0M640.1 2351h0M627 2384.5h0M706.8 2354h0M757.9 2330.1h0M710 2325.2h0M668.8 2378h0M764.4 2342.7h0M671.5 2421.3h0M787.4 2392.4h0M625.3 2373.3h0M865 2376.9h0M633.7 2379.1h0M674.1 2423.1h0M706.8 2268.6h0M795.8 2369.6h0M777.2 2220.2h0M667.7 2423.4h0M646.4 2371h0M795.2 2188.5h0M649.5 2253.8h0M669.9 2357.3h0M624.2 2356.5h0M687.6 2192.5h0M765.6 2207.9h0M647.6 2388.2h0M857.4 2327.8h0M797.4 2243.9h0M708.4 2357.3h0M650.1 2382.6h0M738.1 2364.8h0M691.3 2319.7h0M617.1 2338.9h0M861 2386.9h0M815.1 2186.4h0M637.9 2402.4h0M688.2 2180.3h0M895.3 2256.9h0M634.4 2342.6h0M662.7 2378.6h0M784.5 2402.9h0M634.4 2429h0M779.4 2416.3h0M650 2368.3h0M849.6 2330.8h0M631.1 2256h0M650 2361.3h0M691.7 2421.4h0M651.7 2396h0M728.1 2353.1h0M863.1 2359.8h0M883.1 2346.6h0M725.8 2375.2h0M847 2366.7h0M865.2 2329.3h0M913.1 2335.8h0M851.1 2329h0M667.9 2222.2h0M725 2351.2h0M800.4 2200h0M689.7 2426.2h0M855 2367.2h0M687.1 2339.3h0M784.2 2184.4h0M906.3 2305.9h0M844.7 2323h0M873.9 2346.3h0M874.8 2362.1h0M819.5 2368.9h0M695.9 2365.7h0M717.9 2369.6h0M736.1 2365.3h0M620.4 2326.4h0M723.2 2270.9h0M709.5 2361.5h0M869.7 2357h0M801.9 2405.3h0M679.3 2371.8h0M743.5 2378.2h0M759.7 2342.3h0M661.6 2397.5h0M780.3 2412.5h0M680.5 2357.5h0M679 2372.2h0M659.7 2406.5h0M633 2370.3h0M734.5 2399.9h0M856.1 2331.1h0M764.5 2210h0M681 2397.2h0M780.9 2415.9h0M770.6 2193.3h0M734.8 2389.1h0M738.5 2342.8h0M711.8 2319.4h0" stroke="#B87F68" stroke-width="4.7" stroke-linecap="round" fill="none"/>
<path d="M650 2397.7h0M680.3 2217.1h0M696.3 2388.9h0M666.5 2394.6h0M685 2213.1h0M681.2 2378.6h0M702.8 2191.6h0M667.9 2382.5h0M651.5 2325.8h0M644.9 2378.7h0M653.1 2344.4h0M682.4 2375h0M798.3 2367.6h0M645.2 2412.5h0M628 2408.9h0M678 2377.1h0M684.3 2333.9h0M777.8 2212.4h0M819.5 2322.6h0M740.5 2378.3h0M772.4 2409.2h0M703.9 2291.1h0M756.6 2201.6h0M677.3 2336.5h0M673 2189.4h0M640.9 2374.6h0M886.1 2298h0M817 2384.1h0M687.1 2383.4h0M802.9 2264.3h0M710.9 2249.7h0M746.8 2333.2h0M667 2347.8h0M667 2185.9h0M727.5 2340.2h0M776.6 2208.1h0M795.3 2175.4h0M679.4 2232h0M679.9 2359.4h0M692.1 2386.5h0M827 2320.6h0M867.8 2415.3h0M786.4 2408.9h0M738.4 2399.8h0M753.8 2335.9h0M807.6 2323.6h0M729.7 2416.2h0M753.6 2286.9h0M806.2 2334.1h0M693.6 2370h0M617.1 2316.4h0M628.3 2389.8h0M740.4 2387.6h0M916.5 2282.4h0M684.5 2286.7h0M644.8 2372.3h0M701.4 2222.6h0M869.1 2376.7h0M661.3 2386.7h0M720.8 2320.2h0M781.5 2200.6h0M695.8 2359.6h0M744.6 2386.8h0M639 2371.1h0M712.6 2351.7h0M617.1 2357.2h0M650.5 2251.1h0M872.3 2325.8h0M735.8 2360.9h0M800.7 2182.1h0M879.7 2351.7h0M702 2329.1h0M688.8 2191h0M775.1 2339.6h0M887.1 2389.9h0M689 2380.6h0M680.8 2216.6h0M698.6 2422.6h0M674.5 2376h0M631.6 2388.8h0M725.6 2280.9h0M646.6 2256.9h0M631.7 2340.7h0M791.8 2274.3h0M743.9 2391.9h0M897.2 2299.3h0M917.7 2281.9h0M679.2 2351.4h0M697.3 2347.6h0M685.7 2367.2h0M649.7 2407.4h0M690.4 2330.8h0M645.7 2414h0M731 2328.1h0M908.1 2292h0M640.6 2383.1h0M665.2 2246.1h0M702.2 2204h0M779.3 2331.2h0M689.1 2192.2h0M865.3 2361.5h0M632.5 2413.5h0M636.3 2362.3h0M656.6 2396.7h0M664.4 2364.1h0M754 2288.3h0M849.4 2323.7h0M805.6 2212.7h0M678.7 2233.9h0M709.6 2306.1h0M789.8 2325.1h0M714.7 2379.5h0M676.5 2377h0M711.7 2366.7h0M793.7 2190.4h0M667.3 2327.7h0M650.5 2230h0M773.5 2405.4h0M679.9 2424.6h0M724.4 2310.7h0M677.1 2380h0M826.4 2390.2h0M685.3 2397.7h0M680.3 2360.3h0M779.9 2408.1h0M893.3 2365.5h0M661.7 2426.5h0M890 2388.8h0M833.8 2334.8h0M686.3 2377.2h0M800.3 2409.5h0M701 2330.9h0M814.6 2340.1h0M637.2 2413h0M639.4 2341.9h0M786.8 2227.4h0M878 2243.5h0M865 2365.9h0M626.3 2403.7h0M684.2 2431.3h0M924.4 2332.5h0M881.3 2283.7h0M773.6 2403.5h0M851.9 2373.1h0M674.5 2366.8h0M811.9 2362.8h0M829.9 2324.4h0M727.3 2246.5h0M729.6 2347.9h0M651 2353.5h0M617.1 2416.4h0M644.1 2372.6h0M781.7 2229.1h0M690.6 2204.2h0M652.1 2399.1h0M791.7 2231.3h0M851.7 2333.3h0M633.2 2375.4h0M690.6 2384.2h0M823.7 2249h0M740 2418.5h0M667.8 2365.3h0M701.4 2342.2h0M723.1 2366.8h0M674.1 2352.1h0M733.4 2317.1h0M669.8 2367.9h0M878 2390.1h0M708.5 2368.3h0M669.2 2334.7h0M877.4 2381.1h0M652.3 2378.7h0M852.6 2371.6h0M834.9 2253.8h0M689.8 2245.9h0M804.2 2273.9h0M793.6 2192.3h0M795.8 2193.1h0M727.1 2387.5h0M700 2368h0M702.7 2319.5h0M651.6 2431.3h0M692.2 2369.8h0M629.1 2362.6h0M812.3 2304.4h0M756.1 2274.6h0M860.8 2318.7h0M790.6 2183.3h0M727.5 2408.5h0M697.7 2346.3h0M801 2367.8h0" stroke="#AA6349" stroke-width="4.7" stroke-linecap="round" fill="none"/>
<path d="M763.2 2283.7h0M895.4 2321.6h0M748.5 2417.6h0M762.4 2175.4h0M843.1 2382.3h0M699 2342.6h0M896.7 2286.4h0M739.9 2423.1h0M729.7 2398.5h0M676.3 2394.1h0M654.3 2247.8h0M689.6 2194.8h0M625.1 2333.2h0M875.5 2335.6h0M739.1 2363.1h0M761 2342.3h0M710.8 2318.6h0M698.5 2340.8h0M779.5 2413.9h0M653.4 2352.5h0M715.1 2330.8h0M766.1 2264.8h0M702.5 2326.1h0M806.1 2245.6h0M663.3 2357.8h0M711.2 2373.4h0M644.6 2363.5h0M632.4 2416.8h0M791.2 2192.8h0M735.2 2376.9h0M858.4 2320h0M797.7 2329h0M762.5 2314.9h0M657.7 2221.7h0M741.8 2398.1h0M646.4 2390.7h0M681.7 2209.9h0M914.2 2344.8h0M787.7 2390.5h0M912.8 2278.8h0M639.2 2235.2h0M903.3 2306.5h0M641.5 2390.7h0M633.6 2260.5h0M635.9 2346.2h0M766.5 2189.2h0M691.7 2398.7h0M846.6 2400.5h0M672.7 2423.2h0M821.2 2216.5h0M894.4 2359.5h0M870.1 2353.9h0M801.4 2400.5h0M670.6 2240.6h0M723.1 2309.5h0M733.7 2385.4h0M661.4 2419.5h0M835.5 2258h0M655.7 2243.9h0M810.5 2269.7h0M900.8 2293.6h0M625.1 2378.4h0M684.6 2189.9h0M827.5 2325.4h0M647.8 2371.6h0M718.2 2383.8h0M668.9 2400.4h0M628 2368.4h0M642.7 2391.6h0M651.5 2380.5h0M727.7 2365.8h0M704.6 2331.3h0M866.1 2361.3h0M843.7 2324.7h0M653 2374.3h0M885 2255.9h0M771.8 2288h0M800.8 2406.7h0M725.5 2386.6h0M895.2 2383h0M782.1 2403.8h0M824.2 2320.4h0M877.1 2296.3h0M921.6 2299.9h0M659.1 2380.8h0M657.9 2430.6h0M627.2 2331.9h0M790.8 2197.1h0M802.9 2348.6h0M839 2396.7h0M623 2251.1h0M879.5 2366.1h0M652.3 2382.2h0M802.3 2286.4h0M679.6 2374.5h0M882.9 2388.1h0M635.8 2378.9h0M810.4 2267.4h0M695.7 2342.9h0M650.2 2254.7h0M694.4 2331.1h0M736.4 2253.6h0M704.9 2365.5h0M680.1 2313.2h0M722.3 2332.2h0M711.8 2331.9h0M731.5 2345.2h0M864.9 2346.9h0M774.1 2198.5h0M885.4 2258.2h0M763.4 2338.7h0M843.5 2340.3h0M659.5 2371.6h0M797.4 2378.8h0M649.3 2374.6h0M665.2 2370h0M660 2378.3h0M673.5 2232.2h0M780.3 2194.3h0M881.4 2236.3h0M795.9 2398h0M746.1 2395.6h0M816.2 2316h0M826.6 2366.2h0M823.6 2294.3h0M691.2 2186.7h0M692 2385.7h0M819.3 2385.3h0M849.5 2333.8h0M628.4 2327.3h0M688.1 2225h0M675.9 2332.8h0M738.7 2403.3h0M693.6 2414h0M677.8 2225.7h0M733.6 2269.9h0M748.6 2381.8h0M867 2388.1h0M905.8 2284.6h0M680 2383h0M670.2 2369.7h0M799.1 2336.7h0M648.6 2401.7h0M891.6 2375.5h0M666 2330h0M898.9 2391.8h0M656.1 2371.3h0M686.6 2357.5h0M748.1 2394.3h0M879 2232.1h0M736.9 2387.8h0M786.9 2193.8h0M876.2 2404.2h0M865.8 2375.4h0M801.2 2193.8h0M754.1 2280.5h0M767.6 2343.5h0M617.1 2381.7h0M697.1 2354.3h0" stroke="#9C462B" stroke-width="4.7" stroke-linecap="round" fill="none"/>
<path d="M795.9 2402.1h0M799.1 2338.8h0M772.6 2180.8h0M713.8 2280.1h0M814.7 2390.4h0M881 2261.9h0M823.2 2315.5h0M874.7 2374h0M842.2 2321.7h0M762.6 2402.4h0M805.1 2413.3h0M802.9 2384h0M840.9 2326.1h0M877.2 2383.7h0M673.3 2212.9h0M918.9 2291.4h0M807 2297.7h0M849.4 2323.2h0M764.8 2200.6h0M684.4 2221.9h0M897.5 2339.7h0M883.3 2276.8h0M672.8 2234.3h0M913.7 2247.9h0M675.7 2206.9h0M758.9 2176.1h0M797.2 2370.9h0M890.8 2281.5h0M807.9 2384.2h0M862.1 2377.5h0M857.6 2331.7h0M789.8 2415.8h0M869 2382.2h0M647.5 2237.5h0M883.8 2391.9h0M814.8 2336h0M641.4 2240.9h0M908.6 2317.1h0M804.9 2229.8h0M642.3 2252.1h0M689.7 2193.8h0M887.7 2360h0M769.8 2229h0M813.9 2225.3h0M698.8 2200.7h0M866.2 2323.2h0M774.1 2412.8h0M794.6 2274.6h0M688.8 2225.2h0M769.2 2221.1h0M687 2189.7h0M810.7 2218.7h0M797.5 2195.6h0M665.5 2229.3h0M804.3 2324.4h0M848.4 2367.8h0M659.6 2257.6h0M909.4 2282.6h0M853.2 2335.5h0M721.4 2240.1h0M921.5 2242h0M878.2 2231.3h0M906 2262.2h0" stroke="#8E2A0C" stroke-width="4.7" stroke-linecap="round" fill="none"/>
<path d="M601.3 2162.8V2444H944.7M655.7 2444v4M711.6 2444v4M767.2 2444v4M823 2444v4M878.9 2444v4M934.2 2444v4M601.3 2198h-4M601.3 2253.3h-4M601.3 2309.2h-4M601.3 2364.5h-4M601.3 2419.8h-4" stroke="#000" stroke-width="1.7" fill="none"/>
<text x="655.7" y="2465" font-size="15.5" text-anchor="middle" font-family="'Liberation Sans', Arial, sans-serif">−20</text>
<text x="711.6" y="2465" font-size="15.5" text-anchor="middle" font-family="'Liberation Sans', Arial, sans-serif">−10</text>
<text x="767.2" y="2465" font-size="15.5" text-anchor="middle" font-family="'Liberation Sans', Arial, sans-serif">0</text>
<text x="823" y="2465" font-size="15.5" text-anchor="middle" font-family="'Liberation Sans', Arial, sans-serif">10</text>
<text x="878.9" y="2465" font-size="15.5" text-anchor="middle" font-family="'Liberation Sans', Arial, sans-serif">20</text>
<text x="934.2" y="2465" font-size="15.5" text-anchor="middle" font-family="'Liberation Sans', Arial, sans-serif">30</text>
<text x="593.3" y="2203.6" font-size="15.5" text-anchor="end" font-family="'Liberation Sans', Arial, sans-serif">20</text>
<text x="593.3" y="2258.9" font-size="15.5" text-anchor="end" font-family="'Liberation Sans', Arial, sans-serif">10</text>
<text x="593.3" y="2314.8" font-size="15.5" text-anchor="end" font-family="'Liberation Sans', Arial, sans-serif">0</text>
<text x="593.3" y="2370.1" font-size="15.5" text-anchor="end" font-family="'Liberation Sans', Arial, sans-serif">−10</text>
<text x="593.3" y="2425.4" font-size="15.5" text-anchor="end" font-family="'Liberation Sans', Arial, sans-serif">−20</text>
<text x="772.7" y="2148.3" font-size="22" font-weight="bold" text-anchor="middle" font-family="'Liberation Sans', Arial, sans-serif">ARHGAP28</text>
<text x="772.7" y="2487.5" font-size="18.5" text-anchor="middle" font-family="'Liberation Sans', Arial, sans-serif">tSNE_1</text>
<text x="556" y="2303.4" font-size="18.5" text-anchor="middle" font-family="'Liberation Sans', Arial, sans-serif" transform="rotate(-90 556 2303.4)">tSNE_2</text>
<defs><linearGradient id="cbg" x1="0" y1="1" x2="0" y2="0"><stop offset="0" stop-color="#C6F6FA"/><stop offset="0.28" stop-color="#C9CCC6"/><stop offset="0.55" stop-color="#C0907A"/><stop offset="1" stop-color="#8E2A0C"/></linearGradient></defs>
<rect x="964.2" y="2256.8" width="20.4" height="103.2" fill="url(#cbg)"/>
<path d="M964.2 2261.6h4.1M984.6 2261.6h-4.1M964.2 2282.7h4.1M984.6 2282.7h-4.1M964.2 2303.8h4.1M984.6 2303.8h-4.1M964.2 2324.9h4.1M984.6 2324.9h-4.1M964.2 2346h4.1M984.6 2346h-4.1" stroke="#fff" stroke-width="1" fill="none"/>
<text x="994.5" y="2267.2" font-size="15.5" font-family="'Liberation Sans', Arial, sans-serif">4</text>
<text x="994.5" y="2288.3" font-size="15.5" font-family="'Liberation Sans', Arial, sans-serif">3</text>
<text x="994.5" y="2309.4" font-size="15.5" font-family="'Liberation Sans', Arial, sans-serif">2</text>
<text x="994.5" y="2330.5" font-size="15.5" font-family="'Liberation Sans', Arial, sans-serif">1</text>
<text x="994.5" y="2351.6" font-size="15.5" font-family="'Liberation Sans', Arial, sans-serif">0</text>
<path d="M1160.7 2231.3h0M1172.1 2272.3h0M1209.9 2175.8h0M1157.3 2284.5h0M1211.8 2313.9h0M1286.4 2190.4h0M1195.6 2225.3h0M1305.6 2313.8h0M1206.2 2274.1h0M1159.9 2341.2h0M1301.3 2299.4h0M1202.1 2353.7h0M1199.2 2304.9h0M1237.7 2298.9h0M1147.5 2225.5h0M1184.8 2273.8h0M1199.4 2330.8h0M1245.6 2224.5h0M1228.6 2218.9h0M1252.3 2360.8h0M1224.2 2240.2h0M1152.9 2231.3h0M1187.5 2285.5h0M1214.8 2228h0M1183.5 2336.1h0M1323 2243.6h0M1258 2237.6h0M1281.7 2236.6h0M1226.4 2189.1h0M1176.4 2296.4h0M1236.9 2228.6h0M1171.8 2329h0M1311 2198.9h0M1161.2 2264h0M1231 2176.7h0M1288.9 2180.6h0M1240.4 2241.8h0M1164 2339h0M1299.8 2180.8h0M1289.9 2301.6h0M1253.4 2373.3h0M1185.8 2237.5h0M1236.5 2283.3h0M1187.6 2283.9h0M1268.6 2188.7h0M1223.2 2239.2h0M1174.2 2327.3h0M1149.3 2250.2h0M1159.7 2299.3h0M1287.7 2223h0M1277.5 2175.2h0M1169.1 2281.7h0M1305.7 2294.7h0M1154.4 2265.1h0M1259 2296.1h0M1216.8 2224.8h0M1258.9 2199.4h0M1271.9 2212.3h0M1280.2 2277.3h0M1335.4 2247.2h0M1148.9 2237.3h0M1200.9 2250h0M1236.5 2247.7h0M1263.6 2227.3h0M1276.1 2183.1h0M1189.9 2330.7h0M1165.8 2293.9h0M1198 2282.2h0M1171 2175.4h0M1144.7 2335h0M1291.9 2199.9h0M1156.4 2304.2h0M1189.3 2229h0M1240.7 2305.3h0M1219.4 2260h0M1225 2174h0M1280.4 2268.1h0M1281.5 2212.6h0M1248.7 2247.9h0M1133.4 2267h0M1288.9 2263.4h0M1211.6 2196.5h0M1184.9 2266.7h0M1258.1 2275.9h0M1225.3 2213.4h0M1216.2 2270.5h0M1204.8 2167.2h0M1260.8 2256.6h0M1264.2 2228.9h0M1252.8 2199.8h0M1212.1 2192.6h0M1200.2 2333.3h0M1271.2 2250.5h0M1270.9 2180.7h0M1161.4 2263.5h0M1149.4 2235.2h0M1201.9 2267.5h0M1266.7 2271.4h0M1174.9 2259.1h0M1182.2 2266.4h0M1269.9 2178.7h0M1221 2183.9h0M1200.9 2328.1h0M1233.1 2185.6h0M1263.7 2298.7h0M1255.8 2187.5h0M1181.2 2336.4h0M1259.3 2209.7h0M1280.6 2242.2h0M1316.4 2212.5h0M1308.5 2239.4h0M1165.1 2307.7h0M1187.9 2245.5h0M1177.5 2341.5h0M1259.9 2252.6h0M1159.5 2337.5h0M1192 2322.5h0M1181.6 2299.4h0M1265.8 2202.2h0M1231.4 2289.2h0M1185.6 2341.4h0M1193.4 2242.3h0M1297.7 2255.1h0M1251 2262.6h0M1175.8 2251.5h0M1224.2 2226.3h0M1179.5 2225.9h0M1278.3 2203.2h0M1222 2224.3h0M1259.5 2265.4h0M1162.3 2344.2h0M1230 2256.9h0M1223.4 2299.8h0M1156.2 2234.1h0M1231 2363.7h0M1248.1 2291.2h0M1195.1 2310.2h0M1294.3 2285h0M1310.3 2216.4h0M1179.2 2345.9h0M1162.1 2322.1h0M1293.1 2286.2h0M1245.1 2257h0M1180.5 2255.8h0M1200.5 2278.1h0M1245.3 2252.4h0M1236.7 2275.6h0M1189.6 2183.5h0M1298.7 2231.9h0M1258.8 2246.8h0M1157.5 2269.7h0M1275.2 2257.1h0M1202.9 2346.5h0M1245.8 2307.4h0M1244.5 2298h0M1263.3 2233.9h0M1251.9 2365.3h0M1208.7 2194.4h0M1156.9 2260.8h0M1187.4 2239.5h0M1289.9 2220.4h0M1281.6 2238.6h0M1304 2215.5h0M1298.8 2184.4h0M1188.1 2209.4h0M1265.9 2228.1h0M1278.2 2267.5h0M1283.4 2221.5h0M1280.8 2288.2h0M1161.2 2342.4h0M1233.9 2217.2h0M1271.1 2189.1h0M1172.7 2264.9h0M1183.8 2274.3h0M1161.4 2270.8h0M1256.2 2280.4h0M1275.5 2228.9h0M1138.4 2303.2h0M1148.7 2350.9h0M1305.7 2215.9h0M1237.7 2175.2h0M1151 2229.3h0M1178.6 2236.9h0M1279.8 2267.2h0M1192.1 2337.2h0M1177.3 2246.7h0M1217.3 2196.8h0M1274.2 2206.1h0M1207.5 2252h0M1239.6 2192.2h0M1290.7 2220.3h0M1235.1 2224.1h0M1248.9 2228.6h0M1164.7 2279.5h0M1162.4 2255.5h0M1171.1 2247.5h0M1286.2 2304h0M1194.1 2276.4h0M1262.3 2272.5h0M1207.8 2239.2h0M1277.7 2217h0M1195.3 2293.5h0M1199 2193h0M1150.9 2235.4h0M1181.5 2287.7h0M1252.4 2282.8h0M1296.4 2208.3h0M1203.4 2206.9h0M1182.2 2254.9h0M1293.2 2225.8h0M1306 2188.6h0M1291.7 2219.8h0M1274.8 2196.8h0M1310.3 2261.3h0M1155.6 2280.8h0M1307.2 2285.6h0M1278.8 2159h0M1142.6 2253.7h0M1168.2 2293h0M1229.4 2307.7h0M1194.1 2284h0M1262 2220h0M1166 2250.9h0M1139.2 2256.7h0M1245.7 2174.9h0M1193 2259.5h0M1278.7 2193h0M1227.7 2287h0M1211.6 2249h0M1184.6 2288h0M1211.1 2194.8h0M1151.5 2273.7h0M1180.9 2320.8h0M1222.7 2179.3h0M1283.7 2268.6h0M1206.6 2207.9h0M1175.9 2319.2h0M1309.4 2173.4h0M1214.7 2260h0M1195.1 2294.2h0M1300.8 2234.1h0M1154.9 2261.8h0M1195.5 2342.9h0M1261.5 2215.8h0M1325.2 2296.8h0M1204.3 2235h0M1277.1 2247.5h0M1283.8 2245.8h0M1186.8 2303.9h0M1282 2245.6h0M1217.3 2259.4h0M1235.5 2174.8h0M1194.9 2295.3h0M1227.9 2235.1h0M1166.1 2330.3h0M1195 2324.1h0M1253.7 2296.9h0M1244.1 2371.3h0M1284.7 2226.3h0M1251.9 2251.6h0M1259.3 2217h0M1167.4 2357.7h0M1275.9 2268.4h0M1281.8 2298.9h0M1244.6 2175h0M1284.8 2251.5h0M1274.8 2259.2h0M1272.4 2181.5h0M1171.8 2321.9h0M1213.4 2307.8h0M1203.8 2245.8h0M1333.1 2224.6h0M1256.7 2172.2h0M1229.8 2165.6h0M1162.6 2337.6h0M1172.7 2342h0M1140 2298.4h0M1249.2 2217h0M1244.8 2353.9h0M1145 2333.5h0M1200.3 2265.2h0M1202 2184.6h0M1278.9 2258.6h0M1264.1 2268h0M1285.5 2264.9h0M1165.7 2261.4h0M1320.2 2196.8h0M1137.1 2250.2h0M1190.6 2320.9h0M1134.2 2313.5h0M1193.7 2258.8h0M1182.9 2267.5h0M1278 2218.6h0M1209.2 2273.8h0M1224.3 2257.6h0M1170 2232.5h0M1217.6 2200.7h0M1216.4 2185.6h0M1273.1 2292.4h0M1184.3 2225.4h0M1247.1 2197.6h0M1258.8 2227.1h0M1257.6 2222.2h0M1204.7 2262.7h0M1163.8 2329h0M1150.8 2210.2h0M1287.5 2291.4h0M1223.6 2190.7h0M1234.6 2168.6h0M1285.4 2282.6h0M1227.8 2274.9h0M1312.7 2248.3h0M1140.3 2300h0M1172.3 2338.6h0M1254.3 2228.9h0M1315 2238.1h0M1323.3 2249.5h0M1294 2286.5h0M1195.7 2249.6h0M1247.4 2309.6h0M1275.4 2193h0M1245.3 2234.7h0M1266.4 2251.1h0M1240.6 2207.9h0M1180.9 2300.7h0M1292 2276.4h0M1247 2242.8h0M1143.4 2274.2h0M1219.7 2252.3h0M1265.3 2212.3h0M1210.9 2180.3h0M1257.9 2222.5h0M1232.3 2172.5h0M1179.5 2298.9h0M1257.5 2282.7h0M1285 2158.8h0M1163.6 2318h0M1291.8 2240.3h0M1180.5 2279.8h0M1165.5 2291.7h0M1144.4 2221.4h0M1270.2 2314h0M1197.1 2278.8h0M1328.1 2224.1h0M1177.2 2253.3h0M1180.2 2266.5h0M1170.5 2265.4h0M1150.8 2324h0M1221.1 2252.3h0M1249.8 2251.2h0M1298.7 2196.6h0M1171.2 2252.2h0M1270 2273h0M1178.6 2347.4h0M1168.9 2255.7h0M1178.2 2259.4h0M1257.4 2317.9h0M1254.4 2206.1h0M1214.2 2192.3h0M1233.2 2241h0M1164.9 2239.2h0M1161.8 2287.5h0M1173.5 2301.4h0M1254.2 2367h0M1266.7 2199h0M1222.4 2202h0M1287.5 2301.6h0M1259.2 2254.7h0M1145.5 2311.1h0M1193.8 2263.9h0M1276.9 2290.1h0M1141.3 2254.4h0M1211.8 2235.8h0M1191.4 2305.7h0M1276.9 2219.2h0M1252.7 2159.7h0M1279.8 2220.7h0M1156.7 2276.1h0M1175.1 2272.8h0M1208.2 2244.2h0M1284.4 2215.9h0M1190 2275.2h0M1265.4 2233.7h0M1254 2293.9h0M1242.8 2202.9h0M1317.8 2294.8h0M1168.9 2313.7h0M1181.6 2289.4h0M1146.8 2284.8h0M1168.3 2296h0M1229 2195.5h0M1270.3 2216.6h0M1184.6 2294.5h0M1174.9 2287.2h0M1185.1 2253.9h0M1218.5 2211.2h0M1178.3 2187.4h0M1137.5 2292.6h0M1246 2238.5h0M1178.5 2271.7h0M1180.6 2238.8h0M1167.7 2283.4h0M1236.9 2269.2h0M1164.3 2250.3h0M1255.6 2287.8h0M1263.6 2268.3h0M1165.2 2335.7h0M1176.7 2284.8h0M1268.7 2210.5h0M1285.5 2277.1h0M1210.3 2181.9h0M1252.1 2202.4h0M1175 2255.7h0M1189.7 2286.4h0M1165.8 2251.5h0M1251.1 2219.1h0M1260.7 2202.6h0M1264 2228.3h0M1160 2343.3h0M1249.1 2361.2h0M1217.8 2289h0M1280.9 2227h0M1229.8 2228.7h0M1183.4 2325.2h0M1262.5 2299.7h0M1319.5 2200.2h0M1203.1 2215.1h0M1160 2321.3h0M1262.5 2194.9h0M1212 2254.2h0M1214.9 2240.2h0M1318.1 2188.6h0M1281 2292.7h0M1287.8 2200.4h0M1286.6 2209.8h0M1273.8 2199.6h0M1279.1 2214h0M1188 2230.3h0M1267.4 2222.6h0M1160.3 2285.5h0M1189.2 2293.2h0M1213.9 2169.4h0M1225 2184h0M1199.2 2287.5h0M1282.4 2208.4h0M1222 2249.9h0M1286.1 2211h0M1248.1 2289.7h0M1246 2279.3h0M1235.7 2239.3h0M1157.7 2277.6h0M1266.4 2268h0M1255.8 2202.5h0M1190.1 2187.1h0M1180.1 2224.1h0M1274.9 2287.3h0M1268.7 2283.2h0M1171.6 2340.3h0M1297.4 2264.2h0M1256.1 2294.1h0M1220.7 2291.7h0M1177.2 2199.8h0M1247.3 2159.9h0M1174.1 2346.7h0M1267.2 2196h0M1273.1 2277.4h0M1185.3 2249.7h0M1128.5 2292.8h0M1243.4 2288h0M1224.4 2191.6h0M1295.7 2300.3h0M1231.2 2258.8h0M1234 2179.9h0M1264.9 2245.7h0M1173.5 2188h0M1255.7 2358.7h0M1164.2 2335.9h0M1246.6 2269.1h0M1241.9 2353.2h0M1267.8 2273.7h0M1193.7 2277.6h0M1232.2 2210.3h0M1272.1 2278.7h0M1169.5 2254.6h0M1151.3 2320h0M1263.9 2179.1h0M1198.8 2179.2h0M1187.6 2323.5h0M1159.1 2341.7h0M1172 2306h0M1221 2237.3h0M1147 2273.6h0M1223.7 2210.3h0M1197.7 2250.8h0M1301.3 2300.7h0M1273.2 2236.1h0M1266.3 2284.1h0M1228.1 2209.8h0M1204.8 2180.1h0M1195.7 2279.1h0M1180.6 2335.7h0M1149 2261.5h0M1222.5 2209.5h0M1324.9 2295.8h0M1172.9 2286.6h0M1317.4 2310.1h0M1173.8 2302.6h0M1271.1 2235.5h0M1256.4 2217.7h0M1186.9 2261.9h0M1143.2 2250.2h0M1189.7 2270.9h0M1165.2 2299.1h0M1158.6 2329.2h0M1258.8 2235.8h0M1286.5 2182.3h0M1231 2239h0M1289.7 2274.6h0M1296.2 2231.5h0M1256.7 2256.1h0" stroke="#E64B35" stroke-width="8.6" stroke-linecap="round" fill="none"/>
<path d="M1387.4 2184.9h0M1390.9 2249.5h0M1403.6 2280.9h0M1367.3 2256.2h0M1410.4 2249.9h0M1338.4 2343h0M1365.8 2225.2h0M1380.2 2295.9h0M1373 2252.6h0M1345.5 2265.3h0M1406.3 2288.5h0M1365.4 2262.9h0M1362.6 2229.9h0M1357.4 2201.2h0M1399.3 2243.7h0M1403.7 2239.2h0M1390.8 2249.1h0M1397.5 2221.7h0M1379.3 2183.2h0M1393.9 2280.9h0M1400.1 2267.6h0M1373.3 2270.8h0M1372 2256.8h0M1375.2 2303.7h0M1379.1 2221.3h0M1366.6 2253h0M1397.4 2276.4h0M1389.7 2230.3h0M1392.1 2274.2h0M1333.1 2330.5h0M1386.2 2227.1h0M1385.2 2252.2h0M1336 2323.8h0M1372.3 2232.5h0M1382.5 2186.2h0M1366 2264.6h0M1353.9 2248.8h0M1393.3 2276.2h0M1397.2 2250h0M1346.4 2202.7h0M1359.2 2238.9h0M1390.2 2269.4h0M1360.2 2271.5h0M1377.1 2247.9h0M1360.1 2227.6h0M1383.4 2279.2h0M1369.6 2226.5h0M1356.9 2250h0M1387.5 2236.5h0M1377.6 2246.1h0M1374.9 2274.2h0M1364.9 2234.2h0M1385.1 2233.4h0M1385.4 2185.6h0M1386.3 2210.9h0M1369.2 2234.4h0M1384.3 2273.2h0M1398.5 2277.1h0M1389.8 2267.3h0M1375.4 2238.4h0M1370.1 2261.6h0M1375.6 2241.5h0M1373.1 2275.6h0M1356.7 2229.9h0M1365.8 2224.5h0M1377.9 2285.6h0M1391.5 2203.3h0M1399.9 2319h0M1393.4 2275.6h0M1362.1 2209.7h0M1370.1 2232.3h0M1376.2 2292.6h0M1393.5 2304.6h0M1379.8 2281.9h0M1352.5 2236.3h0M1381.1 2217h0M1362 2268.2h0M1391.1 2224.2h0M1386.6 2215h0M1352.6 2293.6h0M1361.3 2264h0M1395.8 2228.3h0M1377.8 2265h0M1382.2 2267.8h0M1411.2 2287.6h0M1349.7 2223.8h0M1379.3 2231.6h0M1398.6 2209.4h0M1413.4 2291.3h0M1390 2288.1h0M1353.8 2203.6h0M1405.8 2198.9h0M1386.4 2214.6h0M1379.7 2192.4h0M1336.4 2336.3h0M1394.4 2292.7h0M1333.7 2233.9h0M1386 2259h0M1384 2252.8h0M1390.4 2243.8h0M1375.6 2261h0M1383.8 2260.6h0M1406.5 2224.3h0M1399.5 2287.8h0M1366 2249.9h0M1380.5 2223.2h0M1346 2224.2h0M1376.8 2180.5h0M1363.3 2218.4h0M1380.6 2279.6h0M1418.5 2233.5h0M1403.6 2219.9h0M1374.1 2205.2h0M1371.4 2255.5h0M1396.7 2260h0M1375.5 2244.1h0M1390.4 2232.1h0M1379.3 2232.4h0M1394.4 2216.5h0M1386.4 2262.4h0M1395.4 2251.6h0M1374.1 2258.6h0M1374 2245.2h0M1359.1 2244.6h0M1359.5 2250.4h0M1343.8 2202.5h0M1376.5 2290.1h0M1332.9 2318.8h0M1387.2 2263.7h0M1371 2289.5h0M1352.8 2228.3h0M1357.3 2241.2h0M1372.4 2258.2h0M1372.8 2224.3h0M1396.4 2248.9h0M1367.1 2275.8h0M1334 2331.3h0M1379.2 2269.4h0M1374.2 2315h0M1368 2262.2h0M1380 2261.4h0M1362.4 2289h0M1380.6 2257.1h0M1371.9 2183.9h0M1361.3 2261h0M1358.3 2214.5h0M1394.9 2257.4h0M1376 2265.3h0M1407.2 2311h0M1398.1 2306.3h0M1413.3 2204.8h0M1401 2297.6h0M1367.8 2221.3h0M1397.7 2310.5h0M1384 2292.9h0M1386.3 2190h0M1394.1 2253.9h0M1345.8 2238.4h0M1396.4 2222.2h0M1377.9 2233.1h0M1366.7 2246.4h0M1385.4 2243.2h0M1379.3 2271.6h0M1382 2258.8h0M1388.4 2231.2h0M1388.9 2287.8h0M1384.5 2242.7h0M1339.7 2211.7h0M1357.7 2253.2h0M1368.3 2265.9h0M1368.4 2250.9h0M1367.2 2242h0M1391.1 2279.5h0M1392.3 2189.9h0M1362.7 2204h0M1393.3 2296.9h0M1408.8 2287.5h0M1384.6 2306h0M1384.7 2252.9h0M1348.3 2259.6h0M1393.7 2302.6h0M1378.1 2287.3h0M1335.2 2349.2h0M1368.5 2260.3h0M1406 2200h0M1383.3 2272.7h0M1340.7 2249.9h0M1397.6 2298.6h0M1336.4 2337.4h0M1397.7 2287.5h0M1418.5 2227.5h0M1378.9 2226.4h0M1377.7 2228.7h0M1409.5 2250.6h0M1391.9 2222.3h0M1372.5 2281.1h0M1407 2218.9h0M1372.3 2257.1h0M1363.6 2245h0M1395.2 2254.9h0M1338 2279.5h0M1367.7 2257.3h0M1376 2225.8h0M1389.8 2267.7h0M1390.4 2301.6h0M1393.4 2205.4h0M1401.9 2250.5h0M1405.6 2279.2h0M1383.8 2271.4h0M1375.5 2253h0M1378.5 2264.9h0M1370.2 2197.7h0M1387.6 2289.9h0M1390.4 2218.4h0M1385 2296.5h0M1401.6 2280.8h0M1359.3 2214.6h0M1363.4 2280.3h0M1351 2263.5h0M1362 2245.3h0M1360.6 2218.5h0M1382 2221.1h0M1403.2 2263.6h0M1411.2 2247.3h0M1351.8 2235.4h0M1387.6 2217.1h0M1390.8 2223.5h0M1378 2277.4h0M1377.1 2309.6h0M1342.4 2235.7h0M1368.6 2270.3h0M1408.3 2276.6h0M1344 2205.2h0M1364.5 2269.1h0M1362.7 2219.3h0M1364.4 2220.4h0M1376.3 2240.7h0M1355.3 2270.4h0" stroke="#4DBBD5" stroke-width="8.6" stroke-linecap="round" fill="none"/>
<path d="M1162.2 2422.9h0M1158.5 2436.5h0M1305.3 2387.8h0M1192.3 2426h0M1311.4 2376.4h0M1164.9 2441.6h0M1188.3 2421.2h0M1317.5 2376.5h0M1179.4 2424h0M1177.5 2440.4h0M1177.5 2422.8h0M1178.7 2436.2h0M1176.7 2428.7h0M1306.7 2372.3h0M1315.9 2364.5h0M1174.5 2435h0M1178.3 2431.8h0M1316.1 2361.9h0M1191.7 2428.6h0M1192.5 2424.1h0M1315.1 2384.9h0M1309.4 2369.9h0M1168.4 2441.6h0M1308.2 2373.9h0M1312 2382.8h0M1180.6 2429.7h0M1317.6 2367.3h0M1172.5 2426.1h0M1311.1 2372.1h0M1303.7 2369.7h0M1316.4 2361.2h0M1309.3 2384.1h0M1324.2 2375.1h0M1313 2382.3h0M1178 2434.8h0M1172.6 2434.9h0M1172.6 2434.9h0M1172.2 2439.2h0M1174.3 2437.9h0M1179.4 2417.6h0M1322.1 2382.6h0M1320 2381.6h0M1313 2378.3h0M1308.2 2385.8h0M1305.9 2377.7h0M1180 2425.2h0M1175.6 2414.8h0M1313.4 2369.6h0M1314.5 2377h0M1307.9 2369.1h0M1179 2427.1h0M1161.3 2436.9h0M1177 2433h0M1182.7 2434.8h0M1191.9 2419.8h0M1188.5 2432.6h0M1166.4 2418h0M1157.9 2432.5h0M1196 2432.8h0M1170.3 2433.4h0" stroke="#00A087" stroke-width="8.6" stroke-linecap="round" fill="none"/>
<path d="M1091.1 2159.9h0M1083 2155.6h0M1084.4 2152.6h0M1084.9 2146.1h0M1080.3 2154.8h0M1089.8 2146.4h0M1083.3 2152.8h0M1073.5 2149.6h0M1081 2140.9h0M1081.6 2151.7h0M1079.8 2139.8h0M1086.3 2137.5h0M1076.8 2146.5h0M1077.9 2141.9h0M1083.6 2139.9h0M1079.8 2146.1h0M1074.8 2150.6h0M1082.4 2144.8h0M1079.8 2150.8h0M1081.1 2149.2h0M1078 2148h0M1081.4 2148h0M1078.7 2140.2h0M1084.9 2140.9h0M1074.6 2150.4h0M1079.1 2151.1h0M1087.6 2160.4h0M1083.5 2136.7h0M1086.7 2139.6h0M1090.5 2134.4h0M1086.2 2136h0M1090.2 2157.1h0M1081 2146.8h0M1082.1 2145h0M1084.6 2158.4h0M1074.6 2143.3h0M1089.3 2143.1h0M1073.5 2137.7h0M1093.7 2147.6h0M1085.3 2139.9h0" stroke="#3C5488" stroke-width="8.6" stroke-linecap="round" fill="none"/>
<rect x="1056.2" y="2118" width="379.5" height="339" fill="none" stroke="#7F7F7F" stroke-width="1.4"/>
<text x="1084.4" y="2154.2" font-size="18.5" text-anchor="middle" font-family="'Liberation Sans', Arial, sans-serif">3</text>
<text x="1236.6" y="2264.8" font-size="18.5" text-anchor="middle" font-family="'Liberation Sans', Arial, sans-serif">0</text>
<text x="1378.3" y="2262.5" font-size="18.5" text-anchor="middle" font-family="'Liberation Sans', Arial, sans-serif">1</text>
<text x="1190" y="2424.8" font-size="18.5" text-anchor="middle" font-family="'Liberation Sans', Arial, sans-serif">2</text>
<circle cx="1467" cy="2260.3" r="5.3" fill="#E64B35"/>
<text x="1484" y="2266.6" font-size="17.5" font-family="'Liberation Sans', Arial, sans-serif">0</text>
<circle cx="1467" cy="2281.9" r="5.3" fill="#4DBBD5"/>
<text x="1484" y="2288.2" font-size="17.5" font-family="'Liberation Sans', Arial, sans-serif">1</text>
<circle cx="1467" cy="2303.5" r="5.3" fill="#00A087"/>
<text x="1484" y="2309.8" font-size="17.5" font-family="'Liberation Sans', Arial, sans-serif">2</text>
<circle cx="1467" cy="2325.1" r="5.3" fill="#3C5488"/>
<text x="1484" y="2331.4" font-size="17.5" font-family="'Liberation Sans', Arial, sans-serif">3</text>
<text x="1245.3" y="2482.5" font-size="18.5" text-anchor="middle" font-family="'Liberation Sans', Arial, sans-serif">tSNE_1</text>
<text x="1042" y="2287.4" font-size="18.5" text-anchor="middle" font-family="'Liberation Sans', Arial, sans-serif" transform="rotate(-90 1042 2287.4)">tSNE_2</text>
<path d="M1859 2232.5h0M1895.8 2292.9h0M1836.7 2336.3h0M1772.8 2253.5h0M1877.1 2270.1h0M1604.9 2184.2h0M1762.8 2231.4h0M1814 2263.3h0M1812.4 2369.9h0M1735.8 2311.7h0M1674.7 2280.4h0M1602.1 2185h0M1607.3 2183.3h0M1708.8 2293h0M1605.3 2189.9h0M1876.8 2216h0M1860.5 2267.4h0M1757.5 2265.9h0M1690.7 2422.6h0M1824.6 2377.4h0M1744.8 2264.5h0M1878 2301.7h0M1872.7 2277.4h0M1889.4 2313.1h0M1758.5 2303.6h0M1688.5 2316.6h0M1733.6 2261.5h0M1712.1 2272.4h0M1696.5 2340.5h0" stroke="#C4DFDA" stroke-width="4.8" stroke-linecap="round" fill="none"/>
<path d="M1675 2299.4h0M1807.4 2311.4h0M1702.8 2300.2h0M1678.6 2283h0M1872.4 2277.2h0M1763.3 2370.7h0M1701 2345.1h0M1768.3 2269.1h0M1601 2188.6h0M1894.3 2254.3h0M1782.5 2236.5h0M1721.2 2273.3h0M1710 2306.6h0M1697.9 2275.6h0M1709.8 2307.2h0M1885.7 2281.7h0M1893.9 2273h0M1759.5 2245.2h0M1681 2335.1h0M1910.4 2235.5h0M1693.4 2274.4h0M1696.1 2285h0M1839.7 2341.9h0M1681.4 2340.7h0M1905.8 2293.1h0" stroke="#C9D0CC" stroke-width="4.8" stroke-linecap="round" fill="none"/>
<path d="M1688.7 2289.6h0M1723.4 2212.2h0M1811.1 2382.3h0M1740.6 2246.7h0M1873.6 2288.5h0M1605.4 2192.8h0M1708.2 2265.5h0M1761.2 2281.8h0M1815.7 2244.8h0M1755.8 2277.3h0M1811.5 2244.4h0M1694.6 2261.2h0M1855.6 2234.5h0M1697.2 2302h0M1739.8 2301.4h0M1897.7 2302.1h0M1871.9 2276.2h0M1709.7 2331.2h0M1821.3 2361h0M1653.8 2322.7h0M1730.5 2232.2h0M1729.4 2220.1h0M1794.7 2304.9h0M1736 2224.2h0M1879.7 2280.9h0M1751.7 2237.9h0M1869 2284.5h0M1764.3 2236.5h0M1869.1 2272.5h0M1768.7 2275.5h0M1868 2265.3h0M1892 2309.4h0M1685.7 2322.8h0M1843.6 2271.6h0M1756.6 2262.5h0M1792.9 2293.5h0M1770.1 2233.7h0M1759.4 2361h0M1803.9 2283.1h0M1886.7 2303.8h0M1899.7 2296.5h0M1757.2 2287.1h0M1669.5 2327.9h0M1702.9 2330.8h0M1775.3 2299.1h0M1734.9 2239.2h0" stroke="#C6B7AB" stroke-width="4.8" stroke-linecap="round" fill="none"/>
<path d="M1898.2 2285.9h0M1769 2284.1h0M1870.6 2257.5h0M1745.5 2245.4h0M1721.5 2263.1h0M1904.1 2251.1h0M1714.6 2284h0M1884.8 2266.2h0M1906.2 2301.8h0M1884.1 2274.1h0M1704.3 2306.4h0M1878.4 2283.7h0M1802.2 2312.1h0M1768.3 2260.4h0" stroke="#C29B88" stroke-width="4.8" stroke-linecap="round" fill="none"/>
<path d="M1678.2 2256.7h0M1614.1 2199.4h0M1886.6 2219.5h0M1793.7 2223.9h0M1901.4 2296.6h0M1710.2 2251.9h0M1868.1 2276.7h0M1679.6 2410.5h0M1907.7 2271.6h0M1677.4 2344.9h0M1676.1 2421.4h0M1748.9 2311h0M1873.3 2273.8h0M1713.7 2336.6h0M1736.5 2263.9h0M1671 2256.7h0M1727.9 2254.1h0M1606.7 2195.9h0M1897.5 2266.7h0M1895.9 2249h0M1879.2 2218.1h0M1699.1 2340.9h0M1827.4 2266.6h0M1789.4 2260.9h0M1748.2 2254.6h0M1688.3 2335.1h0M1816.3 2230.8h0M1742.7 2212.9h0M1796 2216h0M1751.4 2265.1h0M1681.2 2343.2h0M1608 2193.6h0M1797 2313.1h0M1867.4 2274.1h0M1735.6 2263.1h0M1677.2 2311.3h0M1685.9 2297.2h0M1703.5 2409.1h0M1884.5 2273.5h0M1672.3 2283.8h0M1768.5 2231.1h0M1838.8 2269.5h0M1872.7 2257.7h0M1866.9 2283.5h0M1892 2292.7h0M1667.3 2261.5h0M1848.9 2233.7h0M1747.8 2269.9h0M1860.6 2262.8h0M1682.9 2307h0M1712.5 2297.6h0M1861.6 2289h0M1704.5 2254.9h0M1861.5 2253.8h0M1751.7 2316.1h0M1732.2 2279.7h0M1737.3 2210.7h0M1865.9 2259h0M1724.9 2228.8h0M1700.4 2285.1h0M1767.7 2292.5h0M1598 2191.2h0M1718.7 2205.3h0M1770.2 2277h0M1869.8 2259.2h0M1714.4 2338.6h0M1779.5 2216.1h0M1693.6 2410.4h0M1678.8 2282.5h0M1667.8 2259.9h0M1775.6 2288.9h0M1698 2284.9h0M1883.8 2290.3h0M1733.6 2218.7h0M1715.1 2334.4h0M1765.6 2221.5h0M1768.8 2239.4h0M1896.8 2293.4h0M1788.4 2265.4h0M1888.7 2285.6h0M1682.2 2318h0M1693.6 2345.2h0M1870.7 2281.1h0M1804.1 2275.8h0M1875.7 2264.9h0M1786.2 2234.1h0M1858.3 2255.6h0M1679.7 2347.3h0M1741.9 2277.3h0M1866.8 2251.3h0M1758.5 2304.8h0M1709.8 2320h0M1799.9 2300.8h0M1863.4 2239.4h0M1704.8 2218.3h0M1805 2257.2h0M1876.3 2305.9h0M1783.4 2277.4h0M1756.4 2317.8h0M1879.6 2297.3h0M1854.5 2260.7h0M1880.7 2245.2h0M1755.2 2310.3h0M1890 2251h0M1762 2364.3h0M1796.9 2248h0M1789.3 2262.6h0M1809.9 2244h0M1774.8 2254.2h0M1788.6 2302.4h0M1678.6 2345.9h0M1694.3 2417.6h0M1699.4 2291.3h0M1678.8 2288.4h0M1603.8 2188.4h0M1599.2 2192h0M1783.7 2254.8h0M1669.3 2255.2h0M1787.7 2285.6h0M1881.8 2286h0M1908.5 2301.9h0M1879.1 2256.9h0M1797.7 2247.9h0M1910.4 2304.8h0M1746.5 2251h0M1707.4 2411.5h0M1679.7 2276.2h0M1814.9 2367.9h0M1802.9 2238.3h0M1717.4 2237.1h0M1800 2252.3h0M1811.8 2222.4h0M1815.7 2280.8h0M1813.8 2371.2h0M1893 2306h0M1786.7 2198.7h0M1661.6 2274.7h0M1685.1 2306.3h0M1741.3 2318h0M1708.8 2299h0M1771.3 2247.7h0M1756.3 2211.4h0M1883.4 2274h0M1605 2190.8h0M1786.6 2226h0M1875.7 2280.6h0M1724.5 2227.4h0M1602.1 2189.9h0M1669.7 2290.8h0M1696.7 2328.6h0M1735.2 2215h0M1791.2 2286.7h0M1814.9 2210.2h0M1727.8 2279.8h0M1880.2 2250.2h0M1807 2259h0M1710.2 2346.3h0M1848.5 2251h0M1864.4 2246.3h0M1880.3 2295.5h0M1746.9 2211.4h0M1709.6 2308.1h0M1901.4 2247.5h0M1874.3 2235.8h0M1895.2 2279.8h0M1763.7 2309.4h0M1762 2273h0M1768.8 2245.2h0M1684.3 2358.2h0M1784 2286.5h0M1889.3 2257.4h0M1789.5 2311h0M1893.1 2244.8h0M1822.4 2365.9h0M1780.9 2216.8h0M1688.3 2329.4h0M1717.8 2268.4h0M1836.7 2251.3h0M1766.4 2209.3h0M1741.7 2204h0M1689.2 2345.5h0M1755.5 2355.1h0M1846.5 2233.6h0M1876.6 2303.9h0M1663.7 2338.7h0M1886.4 2282.7h0M1716.1 2219.3h0M1786.8 2278.7h0M1773.2 2286.2h0M1792.9 2283.7h0M1682.7 2280.9h0M1872.8 2278.3h0M1873.2 2251.1h0M1894.8 2270.8h0M1698.6 2285.8h0M1786 2246.6h0M1722.8 2290.8h0M1736.6 2277.9h0M1699.9 2252h0M1768.4 2253.4h0M1669.1 2239.8h0M1872.3 2218.7h0M1603.2 2192.3h0M1694.1 2420.1h0M1820 2262.2h0M1611 2199.8h0M1827.6 2271.3h0M1800.8 2301h0M1710.3 2271.4h0M1755.9 2259.5h0M1798.9 2292.9h0M1732.4 2273.5h0M1774.3 2241.5h0M1724.3 2215.8h0M1868.5 2248.7h0M1767.5 2249.7h0M1744 2209.6h0M1883.5 2306.1h0M1695.4 2310.9h0M1607.2 2180.8h0M1892.8 2274.8h0M1680.8 2326.3h0M1798.7 2263.9h0M1848.3 2262.5h0M1696.4 2295.6h0M1894.9 2249.4h0M1867.5 2268.8h0M1663.2 2248.8h0M1832.1 2250.9h0M1887.5 2256.6h0M1887.9 2302.1h0M1818.2 2374.7h0M1883.9 2265.9h0M1685.7 2276.3h0M1767 2326.2h0M1727.3 2225.5h0M1679.2 2301.9h0M1813.7 2380.7h0M1764.1 2365.6h0M1734.9 2233.2h0M1794.7 2313.1h0M1613.3 2197.1h0M1604.9 2188.9h0M1785 2303.9h0M1660.3 2275.3h0M1889.9 2295.4h0M1784.9 2247h0M1762.8 2199.3h0M1674.5 2292.7h0M1892.4 2313.9h0M1691.4 2290.1h0M1721.8 2267.1h0M1705.1 2292h0M1774.4 2258.7h0M1822.6 2307.6h0M1608.2 2198.2h0M1685.1 2308.6h0M1691.2 2301.5h0M1700.6 2274.9h0M1903.7 2231.6h0M1694.4 2221.5h0M1656.8 2305.9h0M1691.9 2404h0M1684.6 2298.6h0M1878.8 2252.8h0M1762.2 2233.5h0M1691.3 2276.3h0M1761.3 2246.9h0M1771.8 2311.7h0M1824.2 2231.8h0M1717.1 2243.7h0M1677.5 2328.9h0M1771.8 2227.5h0M1728 2263.9h0M1864.7 2267.7h0M1822.9 2222.5h0M1893.8 2275.7h0M1841.1 2295.4h0M1776.2 2249.7h0M1868.5 2277.6h0M1876.1 2252.3h0M1790 2238.3h0M1888.7 2286h0M1747.1 2263.1h0M1892 2236h0M1675.4 2293.9h0M1899.9 2272.1h0M1903.3 2295.1h0M1883.2 2288.9h0M1757.7 2199.4h0M1678.7 2421.7h0M1889.3 2246.3h0M1860.8 2243.4h0M1598 2181.6h0M1690.5 2349.3h0M1776 2228.4h0M1862 2246.4h0M1683.4 2406.5h0M1648.5 2306h0M1736.7 2224.8h0M1708.5 2293.9h0M1743.9 2239.9h0M1675.6 2418.2h0M1686.2 2275.4h0M1886.8 2245.3h0M1877.9 2293.7h0M1676.7 2345.3h0M1665.5 2290.7h0M1736.1 2239.8h0M1877.1 2319.6h0M1807.4 2312.4h0M1781.5 2260.6h0M1740.1 2239.4h0M1710.4 2295.1h0M1846.7 2235.7h0M1689.3 2301.1h0M1822.2 2320h0M1690.2 2313.9h0M1687 2418.9h0M1766.2 2245.8h0M1682.3 2311.1h0M1793.8 2217.4h0M1796.7 2291.4h0" stroke="#B87F68" stroke-width="4.8" stroke-linecap="round" fill="none"/>
<path d="M1725.1 2323h0M1811.3 2322.9h0M1720 2291.1h0M1841.5 2346.4h0M1866.7 2251.8h0M1716.2 2354.9h0M1880 2308.6h0M1848.1 2284h0M1666 2252.1h0M1700.3 2290.8h0M1756.2 2251.3h0M1903.9 2302.7h0M1707.2 2413h0M1863.8 2255.6h0M1901.5 2263.1h0M1889.7 2271h0M1767.6 2261.8h0M1692.6 2308.9h0M1816.7 2373.1h0M1875.4 2314.8h0M1806.1 2216.2h0M1701.2 2261.7h0M1747.8 2298.5h0M1608.4 2188.4h0M1777.3 2222.6h0M1690.5 2333.8h0M1667.7 2271.9h0M1794.9 2250.1h0M1785.6 2211.7h0M1890.9 2291.2h0M1768.5 2308.7h0M1729.7 2251.5h0M1839.3 2331h0M1788 2293.6h0M1855.8 2270.8h0M1822.3 2373.2h0M1889.1 2287.3h0M1663.4 2339.9h0M1674.2 2315.2h0M1882.9 2295.1h0M1870.2 2252.8h0M1788.2 2286.2h0M1789.2 2241.7h0M1613 2188.6h0M1759.1 2270h0M1607 2193.7h0M1886.7 2260.9h0M1877.5 2268.6h0M1875 2291.2h0M1796 2282.5h0M1884.5 2258.4h0M1737.5 2242.3h0M1885.5 2240.3h0M1773.3 2254.8h0M1693.7 2424.6h0M1725.4 2225.7h0M1779.7 2272.1h0M1716 2285.8h0M1691.2 2279h0M1778.5 2214.5h0M1744.7 2220h0M1772.8 2310.8h0M1697 2341.1h0M1603.8 2183.3h0M1821.3 2241.6h0M1875.5 2262.4h0M1703.2 2268.1h0M1769.4 2273.8h0M1677.1 2342h0M1707 2330h0M1774.8 2233.4h0M1743.2 2303.2h0M1692 2272.9h0M1694.7 2421.2h0M1692.9 2415.1h0M1873.4 2292.3h0M1734.5 2251.1h0M1674.1 2258.9h0M1742.8 2363h0M1801 2299.8h0M1609.8 2181.5h0M1820.8 2363.6h0M1890.3 2234.3h0M1695.2 2348.7h0M1898.1 2327.1h0M1679.5 2329.6h0M1696.4 2276.4h0M1714.8 2294.3h0M1755.9 2273.7h0M1748.1 2292.3h0M1892.2 2315.5h0M1717 2349.2h0M1863.2 2286.3h0M1772.5 2258.8h0M1690.8 2420.2h0M1702.7 2263.3h0M1885.8 2243.7h0M1786.2 2285.8h0M1791 2248.8h0M1779.6 2222.9h0M1765.9 2296.2h0M1606.2 2187.3h0M1667.2 2352.7h0M1749 2211.7h0M1603.8 2192.1h0M1706.6 2415h0M1707.1 2341.7h0M1851.9 2250.7h0M1730.2 2229h0M1750.7 2225.4h0M1896.9 2239.2h0M1759.3 2254.5h0M1771.6 2289.8h0M1713.4 2226h0M1669.2 2260h0M1903.5 2230.8h0M1885.6 2243.3h0M1879.5 2225.5h0M1685.3 2425.5h0M1798.6 2247.5h0M1783.1 2229h0M1839.7 2341h0M1673.4 2296.4h0M1812.8 2300.3h0M1885.3 2279h0M1683.1 2272.4h0M1720.3 2237.9h0M1817.2 2378.3h0M1866.9 2271.7h0M1770.9 2244.3h0M1829.4 2309.3h0M1791.4 2268.3h0M1789.7 2268.2h0M1915.1 2258.4h0M1730.2 2279.3h0M1696.4 2415.9h0M1875.6 2267h0M1754.8 2369h0M1792.3 2273h0M1783.1 2279.2h0M1874.4 2278.6h0M1816.5 2369.8h0M1809.6 2367.8h0M1726.6 2318.1h0M1874.2 2267.9h0M1860.9 2272.1h0M1679.9 2342.1h0M1659.1 2310.6h0M1871.5 2303.4h0M1854.8 2254.3h0M1858.9 2264.7h0M1824.8 2229h0M1656.4 2271.9h0M1705.6 2328.6h0M1837.5 2337h0M1814.8 2379.3h0M1879 2287.3h0M1874.4 2323.9h0M1602.8 2183.7h0M1686.7 2257.7h0M1781.5 2305.8h0M1608.4 2184.2h0M1757.6 2229.6h0M1868.8 2281.5h0M1599 2191.8h0M1767.2 2249.4h0M1718.6 2281.9h0M1828.4 2372.2h0M1746.1 2206.4h0M1792.8 2297.9h0M1818.1 2377.9h0M1817.9 2270.3h0M1659.4 2311.9h0M1862.6 2280.6h0M1859.8 2243.2h0M1764.2 2254.8h0M1689.1 2420.1h0M1893.4 2277.7h0M1904.8 2320.7h0M1757.9 2319.5h0M1896.5 2316.9h0M1689.1 2420.1h0M1775.3 2272.6h0M1696.7 2312.4h0M1688.8 2423.5h0M1662.3 2291.1h0M1896.1 2320.2h0M1695.3 2406.3h0M1767.2 2297.9h0M1792.4 2198.5h0M1877.8 2258.2h0M1826.6 2378.2h0M1778.8 2323.1h0M1879.1 2289.1h0M1711.6 2294.9h0M1881.6 2278.8h0M1687.1 2284.1h0M1669.1 2331.1h0M1733.7 2273.6h0M1805.1 2228.9h0M1859.3 2274.3h0M1694.6 2349.9h0M1694.3 2279.2h0M1682 2263.1h0M1689.9 2313h0M1664.2 2320.8h0M1708.6 2282.9h0M1891.1 2223.5h0M1787.7 2248.2h0M1884 2316.7h0M1850.6 2279.4h0M1791.8 2244.3h0M1764 2307h0M1753.6 2234h0M1838.6 2351.3h0M1697.4 2303.4h0M1665.4 2299.6h0M1599 2186.1h0M1695.9 2412.3h0M1741 2228h0M1779 2245h0M1700.1 2307.5h0M1882.8 2290h0M1694.5 2289.1h0M1696.5 2262.7h0M1895.9 2310.7h0M1818.5 2367.7h0M1748.3 2287.1h0M1681.5 2271.9h0M1896.1 2301.8h0M1915.1 2253.7h0M1765.4 2302.1h0M1819.5 2373.6h0M1682.3 2340.5h0M1877.7 2254.6h0M1692.9 2299.7h0M1777.5 2240.1h0M1723.7 2217.1h0M1906.9 2272.2h0M1682.9 2272.9h0M1773.1 2254.3h0M1677.5 2346.6h0M1890.7 2249.5h0M1872.8 2296.7h0M1904.5 2246.8h0M1788.7 2253.3h0M1741.7 2254.6h0M1788.8 2306h0M1795.1 2231.9h0M1793.9 2239.5h0M1782.1 2231.3h0M1787 2242.9h0M1703.3 2255.9h0M1677.8 2300.2h0M1727.1 2207h0M1737.3 2218.8h0M1793.5 2240.4h0M1756.6 2295.3h0M1765.6 2233.6h0M1705.2 2221.3h0M1696 2251h0M1612.5 2186h0M1783.2 2301.6h0M1777.4 2298.4h0M1688.2 2344.2h0M1875.6 2274.2h0M1765.9 2307.1h0M1733.3 2305.2h0M1693.3 2231.4h0M1693.1 2418.6h0M1884.3 2309h0M1864.5 2296h0M1706.8 2408h0M1781.5 2293.7h0M1853.1 2282.5h0M1863.2 2268h0M1703.7 2418.3h0M1700.8 2271.5h0M1881.6 2248.6h0M1745.5 2215.4h0M1908.4 2269.6h0M1774 2268.2h0M1689.9 2222h0M1765.5 2359h0M1752.8 2354.6h0M1776.6 2290.8h0M1853.9 2260h0M1780.6 2294.7h0M1889.7 2250.5h0M1616.6 2189.6h0M1667.4 2281h0M1710.6 2418.4h0M1829.1 2308.5h0M1865.5 2287.1h0M1863.8 2247.1h0M1865.4 2248h0M1662.1 2271.9h0M1704.8 2288.5h0M1676.2 2335.3h0M1608.8 2183.3h0M1742.8 2262.9h0M1802.8 2256.9h0M1766.4 2276.6h0M1857.1 2288.1h0" stroke="#AA6349" stroke-width="4.8" stroke-linecap="round" fill="none"/>
<path d="M1889.8 2271.3h0M1713.6 2315.8h0M1866.3 2282.1h0M1762.3 2360.7h0M1892.5 2296.5h0M1738.6 2222.9h0M1682 2425.5h0M1879 2248.7h0M1702.9 2299h0M1888.7 2255.9h0M1885.5 2253.4h0M1811.4 2307.6h0M1604.3 2195.4h0M1780.4 2241.5h0M1882 2220.5h0M1895.6 2271.8h0M1715.2 2271.7h0M1784.2 2218.1h0M1705 2336.5h0M1687.6 2211.9h0M1695.3 2411.3h0M1798.8 2231.5h0M1858.5 2271.7h0M1653 2285.3h0M1729.2 2288.2h0M1884.7 2220.1h0M1697.4 2311.4h0M1736.5 2252.7h0M1695.4 2252.4h0M1877.9 2300.3h0M1892.1 2292.3h0M1675.3 2287.6h0M1722.3 2227.1h0M1805.1 2219.1h0M1703.4 2239.2h0M1854.6 2306.8h0M1862.6 2283h0M1689.2 2283.7h0M1821 2361.6h0M1657.7 2314.4h0M1877.8 2283.8h0M1693.4 2269h0M1889 2302.3h0M1681.8 2295.4h0M1687.7 2269.7h0M1793.5 2315.1h0M1785.7 2245.2h0M1820.1 2380h0M1762.5 2298h0M1837.2 2258.8h0M1658.4 2277.1h0M1707.8 2279.3h0M1889.3 2266.7h0M1725 2271h0M1700.1 2302.2h0M1883.3 2280.2h0M1692.2 2327.3h0M1672.8 2281.2h0M1718.3 2259.7h0M1785.2 2269.8h0M1702.2 2315h0M1739.9 2259.8h0M1683.1 2336.2h0M1792.2 2252.7h0M1879.1 2257.6h0M1755.3 2211.6h0M1689 2413.1h0M1836.5 2326.9h0M1867.9 2292.4h0M1708.5 2278.8h0M1863.6 2303h0M1880.3 2277.4h0M1739.8 2291.7h0M1688.8 2342.8h0M1876.1 2284h0M1783.6 2226h0M1899.1 2309.9h0M1885.6 2223.6h0M1610.1 2183.2h0M1682.6 2305.2h0M1613.6 2179h0M1760.1 2272.7h0M1609.7 2180.2h0M1842.7 2241h0M1687.8 2273.5h0M1778.6 2290.2h0M1775.6 2230.8h0M1725.2 2260.3h0M1706.4 2316.5h0M1863.9 2234.8h0M1605.9 2187.5h0M1869.2 2280h0M1811.7 2374.2h0M1731.3 2240.6h0M1772.8 2286.4h0M1704.8 2300.9h0M1813.5 2367.3h0M1730.6 2303h0M1699.1 2332.1h0M1725.3 2275.1h0M1695 2413.9h0M1713.5 2301.8h0M1734.5 2271.6h0M1775.4 2286.2h0M1870.8 2229.8h0M1698.4 2420.1h0M1754.2 2302.2h0M1742.9 2278.8h0M1901.1 2282.6h0M1773.1 2214.9h0M1713.2 2214.9h0M1845.2 2260.2h0M1718.7 2215.6h0M1869.3 2288h0M1779.6 2260.1h0M1702.2 2281.2h0M1876.3 2264.3h0" stroke="#9C462B" stroke-width="4.8" stroke-linecap="round" fill="none"/>
<path d="M1574.5 2153.2V2449.2H1930M1631.1 2449.2v4M1698.4 2449.2v4M1765.5 2449.2v4M1833.2 2449.2v4M1900.2 2449.2v4M1574.5 2214.3h-4M1574.5 2281.4h-4M1574.5 2348.4h-4M1574.5 2415.5h-4" stroke="#000" stroke-width="1.7" fill="none"/>
<text x="1631.1" y="2470.2" font-size="15.5" text-anchor="middle" font-family="'Liberation Sans', Arial, sans-serif">−20</text>
<text x="1698.4" y="2470.2" font-size="15.5" text-anchor="middle" font-family="'Liberation Sans', Arial, sans-serif">−10</text>
<text x="1765.5" y="2470.2" font-size="15.5" text-anchor="middle" font-family="'Liberation Sans', Arial, sans-serif">0</text>
<text x="1833.2" y="2470.2" font-size="15.5" text-anchor="middle" font-family="'Liberation Sans', Arial, sans-serif">10</text>
<text x="1900.2" y="2470.2" font-size="15.5" text-anchor="middle" font-family="'Liberation Sans', Arial, sans-serif">20</text>
<text x="1566.5" y="2219.9" font-size="15.5" text-anchor="end" font-family="'Liberation Sans', Arial, sans-serif">10</text>
<text x="1566.5" y="2287" font-size="15.5" text-anchor="end" font-family="'Liberation Sans', Arial, sans-serif">0</text>
<text x="1566.5" y="2354" font-size="15.5" text-anchor="end" font-family="'Liberation Sans', Arial, sans-serif">−10</text>
<text x="1566.5" y="2421.1" font-size="15.5" text-anchor="end" font-family="'Liberation Sans', Arial, sans-serif">−20</text>
<text x="1751.8" y="2138.3" font-size="22" font-weight="bold" text-anchor="middle" font-family="'Liberation Sans', Arial, sans-serif">Arhgap28</text>
<text x="1751.8" y="2493.5" font-size="18.5" text-anchor="middle" font-family="'Liberation Sans', Arial, sans-serif">tSNE_1</text>
<text x="1528" y="2299.3" font-size="18.5" text-anchor="middle" font-family="'Liberation Sans', Arial, sans-serif" transform="rotate(-90 1528 2299.3)">tSNE_2</text>
<defs><linearGradient id="cbi" x1="0" y1="1" x2="0" y2="0"><stop offset="0" stop-color="#C6F6FA"/><stop offset="0.28" stop-color="#C9CCC6"/><stop offset="0.55" stop-color="#C0907A"/><stop offset="1" stop-color="#8E2A0C"/></linearGradient></defs>
<rect x="1951" y="2251.6" width="20.7" height="108.8" fill="url(#cbi)"/>
<path d="M1951 2253.6h4.1M1971.7 2253.6h-4.1M1951 2275.2h4.1M1971.7 2275.2h-4.1M1951 2296.8h4.1M1971.7 2296.8h-4.1M1951 2318.4h4.1M1971.7 2318.4h-4.1M1951 2340h4.1M1971.7 2340h-4.1M1951 2361.6h4.1M1971.7 2361.6h-4.1" stroke="#fff" stroke-width="1" fill="none"/>
<text x="1981" y="2259.2" font-size="15.5" font-family="'Liberation Sans', Arial, sans-serif">5</text>
<text x="1981" y="2280.8" font-size="15.5" font-family="'Liberation Sans', Arial, sans-serif">4</text>
<text x="1981" y="2302.4" font-size="15.5" font-family="'Liberation Sans', Arial, sans-serif">3</text>
<text x="1981" y="2324" font-size="15.5" font-family="'Liberation Sans', Arial, sans-serif">2</text>
<text x="1981" y="2345.6" font-size="15.5" font-family="'Liberation Sans', Arial, sans-serif">1</text>
<text x="1981" y="2367.2" font-size="15.5" font-family="'Liberation Sans', Arial, sans-serif">0</text>
</svg>
</body></html>
